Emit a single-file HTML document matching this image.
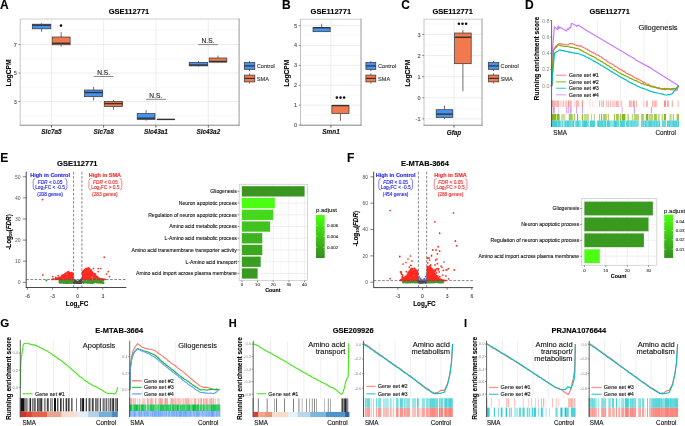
<!DOCTYPE html>
<html><head><meta charset="utf-8"><style>
html,body{margin:0;padding:0;background:#fff;width:685px;height:426px;overflow:hidden}
svg{display:block;will-change:transform}
text{font-family:"Liberation Sans", sans-serif;stroke:currentColor;stroke-width:0.12px;paint-order:stroke}
</style></head><body>
<svg width="685" height="426" viewBox="0 0 685 426">
<rect x="0" y="0" width="685" height="426" fill="#fff"/>
<text x="0" y="8.8" text-anchor="start" fill="#000" color="#000" style="font-size:12px;font-weight:bold;">A</text>
<text x="129" y="14.4" text-anchor="middle" fill="#000" color="#000" style="font-size:7.5px;font-weight:bold;">GSE112771</text>
<rect x="20.2" y="19" width="218.9" height="106.2" fill="#fff"/>
<line x1="20.2" y1="115.75" x2="239.1" y2="115.75" stroke="#f4f4f4" stroke-width="0.6"/>
<line x1="20.2" y1="87.25" x2="239.1" y2="87.25" stroke="#f4f4f4" stroke-width="0.6"/>
<line x1="20.2" y1="58.75" x2="239.1" y2="58.75" stroke="#f4f4f4" stroke-width="0.6"/>
<line x1="20.2" y1="30.25" x2="239.1" y2="30.25" stroke="#f4f4f4" stroke-width="0.6"/>
<line x1="20.2" y1="101.5" x2="239.1" y2="101.5" stroke="#ebebeb" stroke-width="0.9"/>
<line x1="20.2" y1="73" x2="239.1" y2="73" stroke="#ebebeb" stroke-width="0.9"/>
<line x1="20.2" y1="44.5" x2="239.1" y2="44.5" stroke="#ebebeb" stroke-width="0.9"/>
<line x1="51.5" y1="19" x2="51.5" y2="125.2" stroke="#ebebeb" stroke-width="0.9"/>
<line x1="103.6" y1="19" x2="103.6" y2="125.2" stroke="#ebebeb" stroke-width="0.9"/>
<line x1="155.9" y1="19" x2="155.9" y2="125.2" stroke="#ebebeb" stroke-width="0.9"/>
<line x1="208.3" y1="19" x2="208.3" y2="125.2" stroke="#ebebeb" stroke-width="0.9"/>
<line x1="19.7" y1="19" x2="239.6" y2="19" stroke="#d0d0d0" stroke-width="1.1"/>
<line x1="20.2" y1="19" x2="20.2" y2="125.2" stroke="#c4c4c4" stroke-width="1"/>
<line x1="239.1" y1="18.5" x2="239.1" y2="125.7" stroke="#9a9a9a" stroke-width="1"/>
<line x1="19.7" y1="125.2" x2="239.6" y2="125.2" stroke="#8a8a8a" stroke-width="1"/>
<line x1="18.5" y1="101.5" x2="20.2" y2="101.5" stroke="#555555" stroke-width="0.7"/>
<text x="16.7" y="103.5" text-anchor="end" fill="#4d4d4d" color="#4d4d4d" style="font-size:5.5px;">3</text>
<line x1="18.5" y1="73" x2="20.2" y2="73" stroke="#555555" stroke-width="0.7"/>
<text x="16.7" y="75" text-anchor="end" fill="#4d4d4d" color="#4d4d4d" style="font-size:5.5px;">5</text>
<line x1="18.5" y1="44.5" x2="20.2" y2="44.5" stroke="#555555" stroke-width="0.7"/>
<text x="16.7" y="46.5" text-anchor="end" fill="#4d4d4d" color="#4d4d4d" style="font-size:5.5px;">7</text>
<line x1="51.5" y1="125.2" x2="51.5" y2="127.6" stroke="#444" stroke-width="0.8"/>
<text x="51.5" y="134.4" text-anchor="middle" fill="#111" color="#111" style="font-size:6.4px;font-weight:bold;font-style:italic;">Slc7a5</text>
<line x1="103.6" y1="125.2" x2="103.6" y2="127.6" stroke="#444" stroke-width="0.8"/>
<text x="103.6" y="134.4" text-anchor="middle" fill="#111" color="#111" style="font-size:6.4px;font-weight:bold;font-style:italic;">Slc7a8</text>
<line x1="155.9" y1="125.2" x2="155.9" y2="127.6" stroke="#444" stroke-width="0.8"/>
<text x="155.9" y="134.4" text-anchor="middle" fill="#111" color="#111" style="font-size:6.4px;font-weight:bold;font-style:italic;">Slc43a1</text>
<line x1="208.3" y1="125.2" x2="208.3" y2="127.6" stroke="#444" stroke-width="0.8"/>
<text x="208.3" y="134.4" text-anchor="middle" fill="#111" color="#111" style="font-size:6.4px;font-weight:bold;font-style:italic;">Slc43a2</text>
<text x="10.81" y="73" text-anchor="middle" fill="#000" color="#000" style="font-size:6.7px;font-weight:bold;" transform="rotate(-90 10.81 73)">LogCPM</text>
<line x1="41.55" y1="23.2" x2="41.55" y2="24.2" stroke="#333333" stroke-width="0.7"/>
<line x1="41.55" y1="28.8" x2="41.55" y2="31.8" stroke="#333333" stroke-width="0.7"/>
<rect x="32.3" y="24.2" width="18.5" height="4.6" fill="#4592F0" stroke="#333333" stroke-width="0.7"/>
<line x1="32.3" y1="25.2" x2="50.8" y2="25.2" stroke="#333333" stroke-width="1.4"/>
<line x1="61.15" y1="32.1" x2="61.15" y2="37" stroke="#333333" stroke-width="0.7"/>
<line x1="61.15" y1="44.8" x2="61.15" y2="46.6" stroke="#333333" stroke-width="0.7"/>
<rect x="52.2" y="37" width="17.9" height="7.8" fill="#F07A4E" stroke="#333333" stroke-width="0.7"/>
<line x1="52.2" y1="43.3" x2="70.1" y2="43.3" stroke="#333333" stroke-width="1.4"/>
<circle cx="61" cy="25.6" r="1.3" fill="#111"/>
<line x1="93.6" y1="86.9" x2="93.6" y2="90" stroke="#333333" stroke-width="0.7"/>
<line x1="93.6" y1="96.7" x2="93.6" y2="100.4" stroke="#333333" stroke-width="0.7"/>
<rect x="84.6" y="90" width="18" height="6.7" fill="#4592F0" stroke="#333333" stroke-width="0.7"/>
<line x1="84.6" y1="92.5" x2="102.6" y2="92.5" stroke="#333333" stroke-width="1.4"/>
<line x1="113.45" y1="100" x2="113.45" y2="101.4" stroke="#333333" stroke-width="0.7"/>
<line x1="113.45" y1="106.6" x2="113.45" y2="109.8" stroke="#333333" stroke-width="0.7"/>
<rect x="104.3" y="101.4" width="18.3" height="5.2" fill="#F07A4E" stroke="#333333" stroke-width="0.7"/>
<line x1="104.3" y1="103.6" x2="122.6" y2="103.6" stroke="#333333" stroke-width="1.4"/>
<line x1="146.1" y1="110.1" x2="146.1" y2="113.6" stroke="#333333" stroke-width="0.7"/>
<line x1="146.1" y1="119.4" x2="146.1" y2="120.8" stroke="#333333" stroke-width="0.7"/>
<rect x="137.2" y="113.6" width="17.8" height="5.8" fill="#4592F0" stroke="#333333" stroke-width="0.7"/>
<line x1="137.2" y1="118.2" x2="155" y2="118.2" stroke="#333333" stroke-width="1.4"/>
<line x1="165.9" y1="119.3" x2="165.9" y2="119.3" stroke="#333333" stroke-width="0.7"/>
<line x1="165.9" y1="119.4" x2="165.9" y2="119.4" stroke="#333333" stroke-width="0.7"/>
<rect x="157.1" y="119.3" width="17.6" height="0.1" fill="#F07A4E" stroke="#333333" stroke-width="0.7"/>
<line x1="157.1" y1="119.4" x2="174.7" y2="119.4" stroke="#333333" stroke-width="1.4"/>
<line x1="198.45" y1="60.8" x2="198.45" y2="62.4" stroke="#333333" stroke-width="0.7"/>
<line x1="198.45" y1="65.9" x2="198.45" y2="66.7" stroke="#333333" stroke-width="0.7"/>
<rect x="189.2" y="62.4" width="18.5" height="3.5" fill="#4592F0" stroke="#333333" stroke-width="0.7"/>
<line x1="189.2" y1="65" x2="207.7" y2="65" stroke="#333333" stroke-width="1.4"/>
<line x1="218" y1="55.6" x2="218" y2="58" stroke="#333333" stroke-width="0.7"/>
<line x1="218" y1="62.1" x2="218" y2="62.5" stroke="#333333" stroke-width="0.7"/>
<rect x="209.2" y="58" width="17.6" height="4.1" fill="#F07A4E" stroke="#333333" stroke-width="0.7"/>
<line x1="209.2" y1="61.5" x2="226.8" y2="61.5" stroke="#333333" stroke-width="1.4"/>
<line x1="93.7" y1="76.5" x2="113.5" y2="76.5" stroke="#555" stroke-width="0.7"/>
<text x="103.6" y="75.1" text-anchor="middle" fill="#222" color="#222" style="font-size:6.6px;">N.S.</text>
<line x1="146" y1="99.3" x2="166" y2="99.3" stroke="#555" stroke-width="0.7"/>
<text x="155.7" y="97.9" text-anchor="middle" fill="#222" color="#222" style="font-size:6.6px;">N.S.</text>
<line x1="198.2" y1="44.6" x2="217.9" y2="44.6" stroke="#555" stroke-width="0.7"/>
<text x="208" y="43.2" text-anchor="middle" fill="#222" color="#222" style="font-size:6.6px;">N.S.</text>
<line x1="249.55" y1="60.9" x2="249.55" y2="71" stroke="#333333" stroke-width="0.7"/>
<rect x="244.3" y="62.6" width="10.5" height="6.8" fill="#4592F0" stroke="#333333" stroke-width="0.7"/>
<line x1="244.3" y1="65.9" x2="254.8" y2="65.9" stroke="#333333" stroke-width="1.2"/>
<text x="256.8" y="68.22" text-anchor="start" fill="#333" color="#333" style="font-size:5.6px;">Control</text>
<line x1="249.55" y1="73.4" x2="249.55" y2="83.5" stroke="#333333" stroke-width="0.7"/>
<rect x="244.3" y="75.1" width="10.5" height="6.8" fill="#F07A4E" stroke="#333333" stroke-width="0.7"/>
<line x1="244.3" y1="78.4" x2="254.8" y2="78.4" stroke="#333333" stroke-width="1.2"/>
<text x="256.8" y="80.72" text-anchor="start" fill="#333" color="#333" style="font-size:5.6px;">SMA</text>
<text x="282" y="8.9" text-anchor="start" fill="#000" color="#000" style="font-size:12px;font-weight:bold;">B</text>
<text x="330.85" y="14.4" text-anchor="middle" fill="#000" color="#000" style="font-size:7.5px;font-weight:bold;">GSE112771</text>
<rect x="300.5" y="19.2" width="60.5" height="106" fill="#fff"/>
<line x1="300.5" y1="115.06" x2="361" y2="115.06" stroke="#f4f4f4" stroke-width="0.6"/>
<line x1="300.5" y1="95.18" x2="361" y2="95.18" stroke="#f4f4f4" stroke-width="0.6"/>
<line x1="300.5" y1="75.3" x2="361" y2="75.3" stroke="#f4f4f4" stroke-width="0.6"/>
<line x1="300.5" y1="55.42" x2="361" y2="55.42" stroke="#f4f4f4" stroke-width="0.6"/>
<line x1="300.5" y1="35.54" x2="361" y2="35.54" stroke="#f4f4f4" stroke-width="0.6"/>
<line x1="300.5" y1="125" x2="361" y2="125" stroke="#ebebeb" stroke-width="0.9"/>
<line x1="300.5" y1="105.12" x2="361" y2="105.12" stroke="#ebebeb" stroke-width="0.9"/>
<line x1="300.5" y1="85.24" x2="361" y2="85.24" stroke="#ebebeb" stroke-width="0.9"/>
<line x1="300.5" y1="65.36" x2="361" y2="65.36" stroke="#ebebeb" stroke-width="0.9"/>
<line x1="300.5" y1="45.48" x2="361" y2="45.48" stroke="#ebebeb" stroke-width="0.9"/>
<line x1="300.5" y1="25.6" x2="361" y2="25.6" stroke="#ebebeb" stroke-width="0.9"/>
<line x1="330.9" y1="19.2" x2="330.9" y2="125.2" stroke="#ebebeb" stroke-width="0.9"/>
<line x1="300" y1="19.2" x2="361.5" y2="19.2" stroke="#d0d0d0" stroke-width="1.1"/>
<line x1="300.5" y1="19.2" x2="300.5" y2="125.2" stroke="#c4c4c4" stroke-width="1"/>
<line x1="361" y1="18.7" x2="361" y2="125.7" stroke="#9a9a9a" stroke-width="1"/>
<line x1="300" y1="125.2" x2="361.5" y2="125.2" stroke="#8a8a8a" stroke-width="1"/>
<line x1="298.8" y1="125" x2="300.5" y2="125" stroke="#555555" stroke-width="0.7"/>
<text x="297" y="127" text-anchor="end" fill="#4d4d4d" color="#4d4d4d" style="font-size:5.5px;">0</text>
<line x1="298.8" y1="105.12" x2="300.5" y2="105.12" stroke="#555555" stroke-width="0.7"/>
<text x="297" y="107.12" text-anchor="end" fill="#4d4d4d" color="#4d4d4d" style="font-size:5.5px;">1</text>
<line x1="298.8" y1="85.24" x2="300.5" y2="85.24" stroke="#555555" stroke-width="0.7"/>
<text x="297" y="87.24" text-anchor="end" fill="#4d4d4d" color="#4d4d4d" style="font-size:5.5px;">2</text>
<line x1="298.8" y1="65.36" x2="300.5" y2="65.36" stroke="#555555" stroke-width="0.7"/>
<text x="297" y="67.36" text-anchor="end" fill="#4d4d4d" color="#4d4d4d" style="font-size:5.5px;">3</text>
<line x1="298.8" y1="45.48" x2="300.5" y2="45.48" stroke="#555555" stroke-width="0.7"/>
<text x="297" y="47.48" text-anchor="end" fill="#4d4d4d" color="#4d4d4d" style="font-size:5.5px;">4</text>
<line x1="298.8" y1="25.6" x2="300.5" y2="25.6" stroke="#555555" stroke-width="0.7"/>
<text x="297" y="27.6" text-anchor="end" fill="#4d4d4d" color="#4d4d4d" style="font-size:5.5px;">5</text>
<line x1="330.9" y1="125.2" x2="330.9" y2="127.6" stroke="#444" stroke-width="0.8"/>
<text x="331" y="134.4" text-anchor="middle" fill="#111" color="#111" style="font-size:6.4px;font-weight:bold;font-style:italic;">Smn1</text>
<text x="289.21" y="73.2" text-anchor="middle" fill="#000" color="#000" style="font-size:6.7px;font-weight:bold;" transform="rotate(-90 289.21 73.2)">LogCPM</text>
<line x1="321.6" y1="23.7" x2="321.6" y2="27.4" stroke="#333333" stroke-width="0.7"/>
<line x1="321.6" y1="31.7" x2="321.6" y2="31.7" stroke="#333333" stroke-width="0.7"/>
<rect x="313" y="27.4" width="17.2" height="4.3" fill="#4592F0" stroke="#333333" stroke-width="0.7"/>
<line x1="313" y1="27.7" x2="330.2" y2="27.7" stroke="#333333" stroke-width="1.4"/>
<line x1="340.45" y1="105.3" x2="340.45" y2="105.3" stroke="#333333" stroke-width="0.7"/>
<line x1="340.45" y1="113.4" x2="340.45" y2="120.8" stroke="#333333" stroke-width="0.7"/>
<rect x="331.9" y="105.3" width="17.1" height="8.1" fill="#F07A4E" stroke="#333333" stroke-width="0.7"/>
<line x1="331.9" y1="105.6" x2="349" y2="105.6" stroke="#333333" stroke-width="1.4"/>
<circle cx="336.9" cy="97.6" r="1.3" fill="#111"/>
<circle cx="340.5" cy="97.6" r="1.3" fill="#111"/>
<circle cx="344.1" cy="97.6" r="1.3" fill="#111"/>
<line x1="370.85" y1="60.9" x2="370.85" y2="71" stroke="#333333" stroke-width="0.7"/>
<rect x="365.9" y="62.6" width="9.9" height="6.8" fill="#4592F0" stroke="#333333" stroke-width="0.7"/>
<line x1="365.9" y1="65.9" x2="375.8" y2="65.9" stroke="#333333" stroke-width="1.2"/>
<text x="378" y="68.22" text-anchor="start" fill="#333" color="#333" style="font-size:5.6px;">Control</text>
<line x1="370.85" y1="73.4" x2="370.85" y2="83.5" stroke="#333333" stroke-width="0.7"/>
<rect x="365.9" y="75.1" width="9.9" height="6.8" fill="#F07A4E" stroke="#333333" stroke-width="0.7"/>
<line x1="365.9" y1="78.4" x2="375.8" y2="78.4" stroke="#333333" stroke-width="1.2"/>
<text x="378" y="80.72" text-anchor="start" fill="#333" color="#333" style="font-size:5.6px;">SMA</text>
<text x="401.3" y="8.9" text-anchor="start" fill="#000" color="#000" style="font-size:12px;font-weight:bold;">C</text>
<text x="452.7" y="14.4" text-anchor="middle" fill="#000" color="#000" style="font-size:7.5px;font-weight:bold;">GSE112771</text>
<rect x="424" y="19.2" width="58" height="106" fill="#fff"/>
<line x1="424" y1="108.35" x2="482" y2="108.35" stroke="#f4f4f4" stroke-width="0.6"/>
<line x1="424" y1="87.25" x2="482" y2="87.25" stroke="#f4f4f4" stroke-width="0.6"/>
<line x1="424" y1="66.15" x2="482" y2="66.15" stroke="#f4f4f4" stroke-width="0.6"/>
<line x1="424" y1="45.05" x2="482" y2="45.05" stroke="#f4f4f4" stroke-width="0.6"/>
<line x1="424" y1="23.95" x2="482" y2="23.95" stroke="#f4f4f4" stroke-width="0.6"/>
<line x1="424" y1="118.9" x2="482" y2="118.9" stroke="#ebebeb" stroke-width="0.9"/>
<line x1="424" y1="97.8" x2="482" y2="97.8" stroke="#ebebeb" stroke-width="0.9"/>
<line x1="424" y1="76.7" x2="482" y2="76.7" stroke="#ebebeb" stroke-width="0.9"/>
<line x1="424" y1="55.6" x2="482" y2="55.6" stroke="#ebebeb" stroke-width="0.9"/>
<line x1="424" y1="34.5" x2="482" y2="34.5" stroke="#ebebeb" stroke-width="0.9"/>
<line x1="454" y1="19.2" x2="454" y2="125.2" stroke="#ebebeb" stroke-width="0.9"/>
<line x1="423.5" y1="19.2" x2="482.5" y2="19.2" stroke="#d0d0d0" stroke-width="1.1"/>
<line x1="424" y1="19.2" x2="424" y2="125.2" stroke="#c4c4c4" stroke-width="1"/>
<line x1="482" y1="18.7" x2="482" y2="125.7" stroke="#9a9a9a" stroke-width="1"/>
<line x1="423.5" y1="125.2" x2="482.5" y2="125.2" stroke="#8a8a8a" stroke-width="1"/>
<line x1="422.3" y1="118.9" x2="424" y2="118.9" stroke="#555555" stroke-width="0.7"/>
<text x="420.5" y="120.9" text-anchor="end" fill="#4d4d4d" color="#4d4d4d" style="font-size:5.5px;">-1</text>
<line x1="422.3" y1="97.8" x2="424" y2="97.8" stroke="#555555" stroke-width="0.7"/>
<text x="420.5" y="99.8" text-anchor="end" fill="#4d4d4d" color="#4d4d4d" style="font-size:5.5px;">0</text>
<line x1="422.3" y1="76.7" x2="424" y2="76.7" stroke="#555555" stroke-width="0.7"/>
<text x="420.5" y="78.7" text-anchor="end" fill="#4d4d4d" color="#4d4d4d" style="font-size:5.5px;">1</text>
<line x1="422.3" y1="55.6" x2="424" y2="55.6" stroke="#555555" stroke-width="0.7"/>
<text x="420.5" y="57.6" text-anchor="end" fill="#4d4d4d" color="#4d4d4d" style="font-size:5.5px;">2</text>
<line x1="422.3" y1="34.5" x2="424" y2="34.5" stroke="#555555" stroke-width="0.7"/>
<text x="420.5" y="36.5" text-anchor="end" fill="#4d4d4d" color="#4d4d4d" style="font-size:5.5px;">3</text>
<line x1="454" y1="125.2" x2="454" y2="127.6" stroke="#444" stroke-width="0.8"/>
<text x="454" y="134.5" text-anchor="middle" fill="#111" color="#111" style="font-size:6.4px;font-weight:bold;font-style:italic;">Gfap</text>
<text x="410.11" y="73.2" text-anchor="middle" fill="#000" color="#000" style="font-size:6.7px;font-weight:bold;" transform="rotate(-90 410.11 73.2)">LogCPM</text>
<line x1="462.9" y1="30" x2="462.9" y2="33" stroke="#333333" stroke-width="0.7"/>
<line x1="462.9" y1="63.7" x2="462.9" y2="91.3" stroke="#333333" stroke-width="0.7"/>
<rect x="454.6" y="33" width="16.6" height="30.7" fill="#F07A4E" stroke="#333333" stroke-width="0.7"/>
<line x1="454.6" y1="37.3" x2="471.2" y2="37.3" stroke="#333333" stroke-width="1.4"/>
<line x1="444.5" y1="105.6" x2="444.5" y2="109.7" stroke="#333333" stroke-width="0.7"/>
<line x1="444.5" y1="117.5" x2="444.5" y2="119.2" stroke="#333333" stroke-width="0.7"/>
<rect x="436.2" y="109.7" width="16.6" height="7.8" fill="#4592F0" stroke="#333333" stroke-width="0.7"/>
<line x1="436.2" y1="114.1" x2="452.8" y2="114.1" stroke="#333333" stroke-width="1.4"/>
<circle cx="458.9" cy="23.8" r="1.3" fill="#111"/>
<circle cx="462.5" cy="23.8" r="1.3" fill="#111"/>
<circle cx="466.1" cy="23.8" r="1.3" fill="#111"/>
<line x1="493.55" y1="60.9" x2="493.55" y2="71" stroke="#333333" stroke-width="0.7"/>
<rect x="488.3" y="62.6" width="10.5" height="6.8" fill="#4592F0" stroke="#333333" stroke-width="0.7"/>
<line x1="488.3" y1="65.9" x2="498.8" y2="65.9" stroke="#333333" stroke-width="1.2"/>
<text x="500.6" y="68.22" text-anchor="start" fill="#333" color="#333" style="font-size:5.6px;">Control</text>
<line x1="493.55" y1="73.4" x2="493.55" y2="83.5" stroke="#333333" stroke-width="0.7"/>
<rect x="488.3" y="75.1" width="10.5" height="6.8" fill="#F07A4E" stroke="#333333" stroke-width="0.7"/>
<line x1="488.3" y1="78.4" x2="498.8" y2="78.4" stroke="#333333" stroke-width="1.2"/>
<text x="500.6" y="80.72" text-anchor="start" fill="#333" color="#333" style="font-size:5.6px;">SMA</text>
<text x="525" y="8.9" text-anchor="start" fill="#000" color="#000" style="font-size:12px;font-weight:bold;">D</text>
<text x="609.7" y="14.4" text-anchor="middle" fill="#000" color="#000" style="font-size:7.5px;font-weight:bold;">GSE112771</text>
<line x1="574.5" y1="20" x2="574.5" y2="100.2" stroke="#ebebeb" stroke-width="0.8"/>
<line x1="597.6" y1="20" x2="597.6" y2="100.2" stroke="#ebebeb" stroke-width="0.8"/>
<line x1="620.5" y1="20" x2="620.5" y2="100.2" stroke="#ebebeb" stroke-width="0.8"/>
<line x1="643.9" y1="20" x2="643.9" y2="100.2" stroke="#ebebeb" stroke-width="0.8"/>
<line x1="667.3" y1="20" x2="667.3" y2="100.2" stroke="#ebebeb" stroke-width="0.8"/>
<text x="539.08" y="58.6" text-anchor="middle" fill="#000" color="#000" style="font-size:6.6px;font-weight:bold;" transform="rotate(-90 539.08 58.6)">Running enrichment score</text>
<polyline points="551.8,85.8 552.2,53.2 554.4,26.9 557.4,29.5 558.2,25.8 558.8,29 559.5,27 566.4,31 567.5,28.8 568.5,29.5 569.5,27.5 570.5,28 571.5,23.3 576,25.5 577,26.5 578,25 582,27.4 585,29.6 634.8,59 635.3,59.8 651.5,68.4 652,68.9 678.6,85.7" fill="none" stroke="#C77CFF" stroke-width="1.2" stroke-linejoin="round"/>
<polyline points="551.8,85.8 553.6,50 555,47 556.65,45.55 558.3,44.1 560,43.6 561.33,44.05 562.67,44.11 564,44.5 565.33,44.54 566.67,44.99 568,45 570,43.4 572,43.6 573.2,43.85 574.4,44.47 575.6,44.95 576.8,45.42 578,45.8 580,45.6 581.25,46.1 582.5,47.02 583.75,47.63 585,48.3" fill="none" stroke="#F8766D" stroke-width="1.2" stroke-linejoin="round"/>
<polyline points="585,48.3 586,49.16 587,48.97 588,50.35 589,50.19 590,51.32 591,51.59 592,52.43 593,52.39 594,53.06 595,53.4 596,54.56 597,54.89 598,55.14 599,55.68 600,56.5 601,56.76 602,57.51 603,58.47 604,59 605,59.88 606,59.96 607,61.29 608,62.05 609,62.48 610,63.12 611,63.85 612,63.82 613,64.79 614,65.08 615,66.35 616,66.77 617,67.03 618,67.97 619,68.91 620,69.3 621.06,69.93 622.12,70.12 623.18,71.43 624.24,71.22 625.3,72.51 626.36,73.21 627.42,73.59 628.48,74.34 629.54,74.55 630.6,75.1 631.65,75.43 632.7,76.24 633.75,77.05 634.8,77.66 635.85,77.9 636.9,78.98 637.95,78.74 639,79.74 640.05,79.91 641.1,80.9 642.16,81.3 643.22,82.4 644.28,82.15 645.34,83.46 646.4,83.91 647.46,84.25 648.52,84.21 649.58,85.11 650.64,85.84 651.7,86.2 652.76,86.16 653.82,86.66 654.88,86.79 655.94,87.79 657,88.17 658.06,88.5 659.12,88.67 660.18,88.83 661.24,88.69 662.3,89.4 663.4,89.4 664.5,89.66 665.6,89.67 666.7,89.03 667.8,89.03 668.9,89.12 670,89.5 671,90 672,89.38 673,89.74 674,89.94 675,90.42 676,89.86 677,90.3 678.5,85.7" fill="none" stroke="#F8766D" stroke-width="1.2" stroke-linejoin="round"/>
<polyline points="551.8,85.8 553.5,50.5 555.5,48 557,46.4 558.5,44.8 560.25,45.4 562,46 563.33,46.05 564.67,46.47 566,46.5 567.2,46.49 568.4,46.73 569.6,46.86 570.8,47.53 572,47.37 573.2,47.7 574.4,47.84 575.6,48.34 576.8,48.41 578,48.5 579.4,49.35 580.8,50.09 582.2,50.78 583.6,51.87 585,52.5" fill="none" stroke="#7CAE00" stroke-width="1.2" stroke-linejoin="round"/>
<polyline points="585,52.5 586,52.72 587,53.66 588,53.94 589,54.45 590,55.13 591,55.45 592,56.31 593,56.42 594,56.92 595,57.55 596,58.04 597,59.2 598,59.44 599,60.11 600,60.5 601,61.35 602,61.48 603,62.74 604,62.91 605,63.59 606,64.24 607,65.03 608,65.71 609,65.88 610,67.01 611,67.32 612,67.8 613,68.92 614,69.55 615,70.16 616,70.36 617,71.46 618,71.97 619,72.75 620,73 621.06,73.73 622.12,74.46 623.18,74.57 624.24,75.32 625.3,75.87 626.36,76.2 627.42,76.71 628.48,77.16 629.54,78.06 630.6,78.3 631.65,78.7 632.7,79.5 633.75,79.85 634.8,80.47 635.85,80.65 636.9,80.96 637.95,81.94 639,82.02 640.05,82.69 641.1,83.3 642.16,83.87 643.22,83.62 644.28,84.65 645.34,84.73 646.4,85.05 647.46,85.48 648.52,85.33 649.58,85.64 650.64,86.54 651.7,86.7 652.76,86.96 653.82,87.19 654.88,87.53 655.94,87.28 657,87.38 658.06,88.22 659.12,87.68 660.18,88.23 661.24,88.51 662.3,88.6 663.4,89.01 664.5,88.36 665.6,88.89 666.7,88.43 667.8,88.78 668.9,88.95 670,88.9 671,89.11 672,88.4 673,88.9 674,88.35 675,88.49 676,88.5 677.25,87.1 678.5,85.7" fill="none" stroke="#7CAE00" stroke-width="1.2" stroke-linejoin="round"/>
<polyline points="551.8,85.8 553,70 554.5,53.5 555.75,52.5 557,51.5 558.5,50.65 560,49.8 561.2,50.38 562.4,50.66 563.6,50.61 564.8,50.91 566,51.5 567.2,51.47 568.4,52.04 569.6,51.87 570.8,52.44 572,52.65 573.2,52.86 574.4,53.12 575.6,53.17 576.8,53.46 578,53.5 579.4,54.04 580.8,54.62 582.2,54.84 583.6,55.61 585,56.1 586.25,57.05 587.5,57.44 588.75,58.31 590,58.74 591.25,59.59 592.5,60.32 593.75,61.13 595,61.61 596.25,62.38 597.5,62.94 598.75,63.84 600,64.5 601.25,65.48 602.5,65.97 603.75,66.87 605,67.58 606.25,68.16 607.5,69.17 608.75,69.69 610,70.66 611.25,71.61 612.5,72.03 613.75,72.97 615,73.57 616.25,74.48 617.5,75.02 618.75,75.94 620,76.7 621.33,77.59 622.65,78.06 623.98,78.88 625.3,79.56 626.62,80.28 627.95,81.29 629.27,82.12 630.6,82.7 631.91,83.35 633.23,83.95 634.54,84.51 635.85,85.12 637.16,86.11 638.48,86.51 639.79,87.25 641.1,87.8 642.43,88.15 643.75,88.56 645.08,88.94 646.4,89.55 647.73,90.07 649.05,90.59 650.38,91.1 651.7,91.5 653.03,91.92 654.35,92.34 655.67,92.63 657,92.89 658.33,93.28 659.65,93.47 660.97,93.76 662.3,94.1 663.87,94.61 665.43,94.9 667,95 668.25,94.64 669.5,94.58 670.75,94.06 672,93.8 673.33,92.33 674.67,90.36 676,89 677.25,87.35 678.5,85.7" fill="none" stroke="#00BFC4" stroke-width="1.2" stroke-linejoin="round"/>
<line x1="551.6" y1="20.1" x2="551.6" y2="127" stroke="#555555" stroke-width="0.9"/>
<line x1="550.1" y1="85.8" x2="551.6" y2="85.8" stroke="#555555" stroke-width="0.6"/>
<text x="549.4" y="87.71" text-anchor="end" fill="#8a8a8a" color="#8a8a8a" style="font-size:5.3px;stroke:none;">0.0</text>
<line x1="550.1" y1="69.5" x2="551.6" y2="69.5" stroke="#555555" stroke-width="0.6"/>
<text x="549.4" y="71.41" text-anchor="end" fill="#8a8a8a" color="#8a8a8a" style="font-size:5.3px;stroke:none;">0.2</text>
<line x1="550.1" y1="53.2" x2="551.6" y2="53.2" stroke="#555555" stroke-width="0.6"/>
<text x="549.4" y="55.11" text-anchor="end" fill="#8a8a8a" color="#8a8a8a" style="font-size:5.3px;stroke:none;">0.4</text>
<line x1="550.1" y1="36.9" x2="551.6" y2="36.9" stroke="#555555" stroke-width="0.6"/>
<text x="549.4" y="38.81" text-anchor="end" fill="#8a8a8a" color="#8a8a8a" style="font-size:5.3px;stroke:none;">0.6</text>
<line x1="550.1" y1="20.6" x2="551.6" y2="20.6" stroke="#555555" stroke-width="0.6"/>
<text x="549.4" y="22.51" text-anchor="end" fill="#8a8a8a" color="#8a8a8a" style="font-size:5.3px;stroke:none;">0.8</text>
<line x1="556" y1="75.3" x2="566.2" y2="75.3" stroke="#F8A09A" stroke-width="1.3"/>
<text x="568.8" y="77.28" text-anchor="start" fill="#222" color="#222" style="font-size:5.5px;">Gene set #1</text>
<line x1="556" y1="81.8" x2="566.2" y2="81.8" stroke="#8FD14F" stroke-width="1.3"/>
<text x="568.8" y="83.78" text-anchor="start" fill="#222" color="#222" style="font-size:5.5px;">Gene set #2</text>
<line x1="556" y1="88.3" x2="566.2" y2="88.3" stroke="#5FD6D6" stroke-width="1.3"/>
<text x="568.8" y="90.28" text-anchor="start" fill="#222" color="#222" style="font-size:5.5px;">Gene set #3</text>
<line x1="556" y1="94.8" x2="566.2" y2="94.8" stroke="#DDB0FF" stroke-width="1.3"/>
<text x="568.8" y="96.78" text-anchor="start" fill="#222" color="#222" style="font-size:5.5px;">Gene set #4</text>
<text x="658" y="30" text-anchor="middle" fill="#111" color="#111" style="font-size:7.5px;">Gliogenesis</text>
<path d="M551.9 100.5H555.8V107.0H551.9zM556.3 100.5H559.2V107.0H556.3zM569.7 100.5H571.7V107.0H569.7zM599.1 100.5H600.1V107.0H599.1zM602.5 100.5H604.0V107.0H602.5zM605.9 100.5H606.8V107.0H605.9zM607.8 100.5H608.8V107.0H607.8zM610.2 100.5H611.2V107.0H610.2zM636.0 100.5H636.9V107.0H636.0zM652.1 100.5H653.0V107.0H652.1zM667.0 100.5H668.9V107.0H667.0z" fill="#F8766D" fill-opacity="0.6"/>
<path d="M560.1 100.5H561.6V107.0H560.1zM612.1 100.5H615.5V107.0H612.1zM677.6 100.5H679.0V107.0H677.6z" fill="#F8766D" fill-opacity="0.35"/>
<path d="M562.5 100.5H564.3V107.0H562.5z" fill="#F8766D" fill-opacity="0.45"/>
<path d="M565.4 100.5H566.9V107.0H565.4zM600.9 100.5H601.8V107.0H600.9zM653.5 100.5H656.9V107.0H653.5z" fill="#F8766D" fill-opacity="0.5"/>
<path d="M567.8 100.5H569.3V107.0H567.8zM581.8 100.5H583.0V107.0H581.8zM632.8 100.5H634.7V107.0H632.8zM663.9 100.5H666.0V107.0H663.9z" fill="#F8766D" fill-opacity="0.8"/>
<path d="M574.1 100.5H575.2V107.0H574.1zM589.5 100.5H590.5V107.0H589.5zM592.4 100.5H593.4V107.0H592.4zM642.9 100.5H644.6V107.0H642.9z" fill="#F8766D" fill-opacity="0.3"/>
<path d="M575.8 100.5H578.9V107.0H575.8zM615.9 100.5H618.8V107.0H615.9zM628.9 100.5H631.8V107.0H628.9zM646.0 100.5H647.9V107.0H646.0z" fill="#F8766D" fill-opacity="0.55"/>
<path d="M620.3 100.5H622.2V107.0H620.3z" fill="#F8766D" fill-opacity="0.4"/>
<path d="M671.8 100.5H672.8V107.0H671.8z" fill="#F8766D" fill-opacity="0.7"/>
<path d="M552.9 107.0H554.8V113.5H552.9z" fill="#C77CFF" fill-opacity="0.8"/>
<path d="M558.2 107.0H559.2V113.5H558.2z" fill="#C77CFF" fill-opacity="0.4"/>
<path d="M565.9 107.0H567.3V113.5H565.9z" fill="#C77CFF" fill-opacity="0.6"/>
<path d="M567.8 107.0H568.8V113.5H567.8zM569.7 107.0H571.7V113.5H569.7zM576.0 107.0H577.0V113.5H576.0zM581.8 107.0H583.0V113.5H581.8zM633.7 107.0H635.0V113.5H633.7zM650.8 107.0H652.1V113.5H650.8z" fill="#C77CFF" fill-opacity="0.7"/>
<path d="M621.7 107.0H622.9V113.5H621.7z" fill="#C77CFF" fill-opacity="0.5"/>
<path d="M551.9 114.0H556.3V120.4H551.9zM556.9 114.0H559.6V120.4H556.9zM577.0 114.0H578.1V120.4H577.0zM621.7 114.0H625.4V120.4H621.7zM645.8 114.0H648.2V120.4H645.8zM663.9 114.0H666.0V120.4H663.9z" fill="#7CAE00" fill-opacity="0.9"/>
<path d="M561.1 114.0H565.4V120.4H561.1z" fill="#7CAE00" fill-opacity="0.4"/>
<path d="M568.8 114.0H572.6V120.4H568.8zM599.1 114.0H600.1V120.4H599.1zM607.8 114.0H608.8V120.4H607.8zM616.1 114.0H618.8V120.4H616.1zM654.0 114.0H656.9V120.4H654.0zM661.7 114.0H662.7V120.4H661.7zM676.6 114.0H679.0V120.4H676.6z" fill="#7CAE00" fill-opacity="0.7"/>
<path d="M573.6 114.0H575.2V120.4H573.6zM593.8 114.0H594.8V120.4H593.8zM602.8 114.0H606.8V120.4H602.8zM627.5 114.0H628.9V120.4H627.5zM631.8 114.0H632.8V120.4H631.8zM641.0 114.0H643.9V120.4H641.0z" fill="#7CAE00" fill-opacity="0.6"/>
<path d="M581.8 114.0H583.0V120.4H581.8zM601.0 114.0H602.0V120.4H601.0zM614.1 114.0H615.0V120.4H614.1zM619.8 114.0H620.9V120.4H619.8zM672.8 114.0H673.7V120.4H672.8z" fill="#7CAE00" fill-opacity="0.8"/>
<path d="M583.7 114.0H589.0V120.4H583.7zM657.8 114.0H659.8V120.4H657.8zM669.4 114.0H671.8V120.4H669.4z" fill="#7CAE00" fill-opacity="0.45"/>
<path d="M591.0 114.0H591.9V120.4H591.0zM648.7 114.0H653.0V120.4H648.7z" fill="#7CAE00" fill-opacity="0.5"/>
<path d="M633.7 114.0H639.0V120.4H633.7z" fill="#7CAE00" fill-opacity="0.55"/>
<path d="M551.9 120.4H560.6V126.9H551.9zM581.8 120.4H589.0V126.9H581.8zM613.5 120.4H618.8V126.9H613.5z" fill="#00BFC4" fill-opacity="0.75"/>
<path d="M560.6 120.4H562.0V126.9H560.6zM574.0 120.4H575.5V126.9H574.0z" fill="#00BFC4" fill-opacity="0.4"/>
<path d="M562.0 120.4H563.5V126.9H562.0zM564.3 120.4H574.0V126.9H564.3zM575.5 120.4H580.8V126.9H575.5zM590.0 120.4H595.3V126.9H590.0zM597.2 120.4H610.0V126.9H597.2zM619.8 120.4H625.0V126.9H619.8zM641.0 120.4H660.2V126.9H641.0zM661.7 120.4H666.0V126.9H661.7zM667.0 120.4H679.0V126.9H667.0z" fill="#00BFC4" fill-opacity="0.7"/>
<path d="M610.0 120.4H613.5V126.9H610.0z" fill="#00BFC4" fill-opacity="0.45"/>
<path d="M625.6 120.4H638.6V126.9H625.6z" fill="#00BFC4" fill-opacity="0.65"/>
<path d="M552.40 120.4h0.37v6.5h-0.37zM558.65 120.4h0.55v6.5h-0.55zM562.54 120.4h0.60v6.5h-0.60zM569.99 120.4h0.33v6.5h-0.33zM570.90 120.4h0.46v6.5h-0.46zM571.90 120.4h0.42v6.5h-0.42zM579.68 120.4h0.48v6.5h-0.48zM580.20 120.4h0.42v6.5h-0.42zM587.95 120.4h0.53v6.5h-0.53zM588.41 120.4h0.59v6.5h-0.59zM600.73 120.4h0.35v6.5h-0.35zM604.17 120.4h0.30v6.5h-0.30zM616.84 120.4h0.34v6.5h-0.34zM617.22 120.4h0.56v6.5h-0.56zM619.26 120.4h0.38v6.5h-0.38zM625.08 120.4h0.45v6.5h-0.45zM629.05 120.4h0.31v6.5h-0.31zM629.51 120.4h0.37v6.5h-0.37zM630.42 120.4h0.51v6.5h-0.51zM631.95 120.4h0.38v6.5h-0.38zM633.35 120.4h0.51v6.5h-0.51zM634.81 120.4h0.52v6.5h-0.52zM639.21 120.4h0.49v6.5h-0.49zM639.78 120.4h0.33v6.5h-0.33zM641.65 120.4h0.50v6.5h-0.50zM646.58 120.4h0.39v6.5h-0.39zM648.57 120.4h0.32v6.5h-0.32zM655.26 120.4h0.60v6.5h-0.60zM655.88 120.4h0.35v6.5h-0.35zM657.72 120.4h0.57v6.5h-0.57zM658.19 120.4h0.60v6.5h-0.60zM660.22 120.4h0.45v6.5h-0.45zM661.71 120.4h0.40v6.5h-0.40zM663.19 120.4h0.36v6.5h-0.36zM668.49 120.4h0.51v6.5h-0.51zM669.94 120.4h0.53v6.5h-0.53zM671.97 120.4h0.38v6.5h-0.38zM674.91 120.4h0.34v6.5h-0.34zM677.28 120.4h0.48v6.5h-0.48z" fill="#ffffff" fill-opacity="0.33"/>
<path d="M557.26 120.4h0.41v6.5h-0.41zM566.08 120.4h0.35v6.5h-0.35zM571.46 120.4h0.32v6.5h-0.32zM574.31 120.4h0.48v6.5h-0.48zM579.25 120.4h0.36v6.5h-0.36zM582.56 120.4h0.58v6.5h-0.58zM587.48 120.4h0.50v6.5h-0.50zM603.14 120.4h0.40v6.5h-0.40zM606.05 120.4h0.43v6.5h-0.43zM606.50 120.4h0.52v6.5h-0.52zM636.76 120.4h0.52v6.5h-0.52zM642.20 120.4h0.37v6.5h-0.37zM644.06 120.4h0.56v6.5h-0.56zM646.98 120.4h0.56v6.5h-0.56zM651.90 120.4h0.48v6.5h-0.48zM653.42 120.4h0.39v6.5h-0.39zM662.23 120.4h0.33v6.5h-0.33zM664.66 120.4h0.34v6.5h-0.34zM665.62 120.4h0.38v6.5h-0.38zM671.03 120.4h0.31v6.5h-0.31z" fill="#ffffff" fill-opacity="0.50"/>
<path d="M568.96 120.4h0.44v6.5h-0.44zM576.33 120.4h0.35v6.5h-0.35zM576.81 120.4h0.36v6.5h-0.36zM610.01 120.4h0.33v6.5h-0.33zM624.14 120.4h0.37v6.5h-0.37zM635.78 120.4h0.53v6.5h-0.53zM671.49 120.4h0.36v6.5h-0.36z" fill="#ffffff" fill-opacity="0.17"/>
<line x1="551.6" y1="100" x2="551.6" y2="127" stroke="#555555" stroke-width="0.9"/>
<text x="553.2" y="135.17" text-anchor="start" fill="#111" color="#111" style="font-size:6.3px;">SMA</text>
<text x="675.8" y="135.17" text-anchor="end" fill="#111" color="#111" style="font-size:6.3px;">Control</text>
<text x="0.3" y="161.8" text-anchor="start" fill="#000" color="#000" style="font-size:12px;font-weight:bold;">E</text>
<text x="77.3" y="166.3" text-anchor="middle" fill="#000" color="#000" style="font-size:7.5px;font-weight:bold;">GSE112771</text>
<path d="M100.8 279.9h0M91.9 279.9h0M61.8 281.2h0M60.6 282.0h0M66.7 279.8h0M67.5 281.6h0M96.3 280.8h0M67.9 280.0h0M60.1 282.4h0M67.6 280.2h0M91.7 279.9h0M68.1 281.2h0M65.6 282.1h0M69.1 281.9h0M66.4 283.0h0M64.8 279.9h0M83.7 283.1h0M62.2 279.6h0M65.8 279.4h0M91.3 281.0h0M70.0 282.1h0M63.6 283.1h0M98.5 282.7h0M69.1 283.1h0M99.3 282.5h0M65.5 282.4h0M65.1 281.7h0M91.3 282.3h0M100.8 279.4h0M103.6 283.1h0M64.7 279.9h0M59.9 282.6h0M87.8 280.2h0M100.0 281.7h0M60.5 280.9h0M59.5 281.7h0M85.0 280.9h0M71.3 282.4h0M63.6 282.3h0M69.3 282.5h0M68.8 281.7h0M95.2 281.5h0M60.8 281.2h0M87.4 280.5h0M91.3 279.7h0M88.6 282.5h0M61.0 281.3h0M63.2 279.7h0M69.6 282.9h0M91.8 282.9h0M63.2 281.1h0M60.6 282.6h0M103.2 280.6h0M67.4 279.6h0M101.7 280.5h0M59.6 280.7h0M83.7 282.0h0M73.1 282.9h0M98.0 279.7h0M70.2 279.7h0M84.1 281.3h0M71.3 281.6h0M71.2 281.0h0M90.4 283.1h0M60.4 280.7h0M101.1 280.4h0M102.2 280.5h0M91.7 280.0h0M66.4 281.2h0M95.1 281.3h0M72.5 282.7h0M87.8 283.1h0M85.4 280.8h0M69.7 281.8h0M92.9 282.2h0M96.5 282.4h0M99.5 280.3h0M71.4 281.7h0M86.8 282.6h0M100.2 279.9h0M72.4 282.1h0M60.8 281.4h0M70.8 281.7h0M96.6 280.4h0M89.1 280.0h0M100.9 283.0h0M94.5 282.0h0M68.1 281.6h0M59.6 280.0h0M70.0 280.1h0M65.5 280.8h0M102.8 280.5h0M70.7 282.2h0M69.7 281.1h0M61.8 282.1h0M93.8 279.5h0M64.7 280.1h0M60.5 279.6h0M85.1 281.4h0M64.5 281.0h0M92.2 280.7h0M60.7 279.9h0M62.2 279.7h0M72.8 281.1h0M87.9 280.4h0M64.1 282.8h0M89.6 281.5h0M92.7 283.0h0M65.2 283.0h0M97.0 279.7h0M85.5 281.2h0M102.5 281.3h0M69.8 281.5h0M100.0 281.0h0M66.5 279.9h0M89.0 281.7h0M63.5 282.6h0M94.5 282.4h0M66.2 280.8h0M66.7 283.0h0M93.9 279.4h0M66.1 280.5h0M72.1 281.4h0M88.0 281.3h0M64.0 279.7h0M93.5 282.7h0M95.5 279.6h0M69.0 279.4h0M62.0 282.3h0M89.2 281.8h0M84.5 280.4h0M71.1 280.8h0M69.0 279.8h0M64.5 281.6h0M66.7 279.9h0M66.6 279.9h0M62.5 280.3h0M101.6 281.9h0M101.3 282.4h0M71.5 282.6h0M61.1 282.8h0M84.4 280.0h0M93.9 280.5h0M64.8 280.5h0M60.6 281.0h0M101.8 279.5h0M69.0 280.7h0M93.0 280.5h0M70.4 281.3h0M59.8 281.0h0M85.4 282.4h0M61.7 282.5h0M102.1 282.8h0M61.1 280.6h0M69.8 281.9h0M91.4 281.8h0M67.6 283.1h0M70.9 282.5h0M90.0 281.7h0M67.6 282.8h0M63.8 282.8h0M94.5 282.4h0M99.5 282.2h0M69.6 280.2h0M85.1 281.9h0M98.7 280.2h0M86.7 282.4h0M88.7 282.8h0M103.4 279.7h0M62.5 279.6h0M89.5 280.6h0M66.6 281.7h0M96.0 280.5h0M103.2 283.1h0M69.5 282.2h0M93.1 280.3h0M82.5 282.2h0M101.6 281.1h0M102.9 281.0h0M68.1 280.1h0M66.9 280.6h0M64.6 279.6h0M92.4 282.5h0M93.9 280.9h0M102.5 281.5h0M95.1 281.8h0M92.6 282.1h0M96.5 280.3h0M59.5 282.2h0M68.0 281.6h0M83.4 281.9h0M83.4 279.4h0M83.9 279.7h0M97.7 282.2h0M59.9 282.8h0M85.4 279.5h0M67.6 282.7h0M92.0 282.4h0M64.2 282.6h0M91.8 280.6h0M95.1 280.7h0M90.1 280.3h0M72.4 280.4h0M65.9 281.2h0M99.0 280.8h0M88.2 280.8h0M68.0 280.3h0M72.4 281.2h0M71.4 283.0h0M59.4 282.2h0M67.9 282.8h0M83.9 282.8h0M66.9 280.7h0M92.6 281.8h0M89.6 280.3h0M70.4 281.4h0M65.4 280.3h0M99.6 281.7h0M88.5 280.3h0M65.2 281.7h0M65.7 281.9h0M65.3 281.0h0M88.7 280.2h0M63.6 279.7h0M68.9 281.3h0M88.3 282.6h0M96.3 281.9h0M63.7 281.5h0M91.7 280.1h0M92.1 282.3h0M60.5 280.0h0M64.3 281.6h0M99.3 280.3h0M99.3 281.1h0M61.7 280.3h0M99.6 282.3h0M66.8 281.0h0M68.3 280.1h0M67.3 282.0h0M63.9 282.1h0M71.7 282.8h0M60.6 280.0h0M87.5 282.3h0M98.6 281.6h0M99.5 281.9h0M66.1 281.1h0M69.1 279.7h0M98.5 279.4h0M100.5 280.1h0M71.6 279.5h0M66.5 280.4h0M65.1 281.5h0M62.7 282.5h0M96.9 281.9h0M91.4 282.0h0M65.8 280.4h0M96.1 280.2h0M71.9 280.3h0M67.4 279.7h0M63.6 282.4h0M46.4 280.6h0" stroke="#3C9A2C" stroke-width="2" stroke-linecap="round" fill="none"/>
<path d="M76.5 281.9h0M78.5 282.3h0M77.8 282.6h0M81.0 281.7h0M81.1 279.7h0M78.8 281.2h0M78.1 281.8h0M77.6 282.6h0M81.5 280.5h0M80.0 282.9h0M80.7 281.8h0M75.3 282.7h0M80.2 280.2h0M80.2 280.8h0M80.1 283.0h0M81.3 279.8h0M80.8 280.0h0M77.3 282.8h0M77.0 281.6h0M77.0 281.8h0M74.7 280.1h0M80.3 282.7h0M79.7 281.5h0M77.8 283.1h0M78.3 282.8h0M75.2 280.4h0M74.8 282.7h0M76.5 281.8h0M77.9 281.9h0M79.3 282.9h0M79.8 281.7h0M77.7 283.1h0M75.1 282.5h0M79.2 281.3h0M77.2 283.1h0M77.0 282.3h0M81.4 279.4h0M76.2 282.2h0M78.2 281.5h0M79.1 283.0h0M74.1 282.6h0M79.1 281.6h0M79.8 281.0h0M74.5 281.6h0M80.7 280.7h0M77.5 282.7h0M74.5 280.4h0M80.7 280.3h0M79.5 280.8h0M74.8 281.1h0M81.4 280.3h0M81.5 280.2h0M78.2 283.0h0M75.1 282.0h0M74.4 282.0h0M75.8 281.9h0M78.9 282.2h0M76.7 282.9h0M78.7 282.9h0M78.8 282.8h0M75.1 283.0h0M77.4 282.1h0M74.4 283.0h0M81.8 281.3h0M80.0 282.2h0M80.4 280.2h0M74.7 282.4h0M74.8 280.8h0M77.6 281.9h0M78.7 281.7h0M78.6 282.5h0M80.1 282.4h0M81.8 281.0h0M75.7 282.6h0M76.1 282.1h0M78.2 282.8h0M76.3 282.5h0M74.4 280.6h0M75.6 281.7h0M76.0 282.6h0M78.6 282.2h0M78.3 282.8h0M81.3 279.3h0M79.4 280.8h0M78.3 283.1h0M79.0 281.4h0M74.7 281.5h0M77.0 282.6h0M74.3 279.9h0M75.7 280.8h0M77.3 282.0h0M75.5 281.5h0M78.1 283.0h0M81.2 282.5h0M79.8 280.7h0M76.3 282.8h0M81.3 283.1h0M79.2 282.3h0M79.9 282.1h0M74.9 281.2h0M80.3 281.7h0M76.9 281.7h0M81.3 279.3h0M74.7 280.6h0M80.6 280.1h0M78.7 281.9h0M79.9 282.7h0M77.0 283.1h0M77.9 283.0h0M76.9 282.5h0M74.6 282.3h0M81.3 282.9h0M80.1 281.0h0M80.1 281.9h0M77.7 283.0h0M76.4 281.2h0M81.2 281.1h0M76.9 282.6h0M81.0 281.5h0M81.1 280.6h0" stroke="#4a4a4a" stroke-width="2" stroke-linecap="round" fill="none"/>
<path d="M61.4 279.1h0M72.3 273.1h0M70.4 275.7h0M69.4 279.4h0M57.2 279.2h0M66.7 276.5h0M69.9 277.1h0M62.7 275.6h0M59.1 279.0h0M60.6 278.8h0M59.3 277.3h0M68.8 278.8h0M57.0 278.9h0M65.9 273.3h0M58.9 277.5h0M64.3 274.7h0M70.0 275.4h0M67.5 278.4h0M66.1 276.7h0M72.2 279.1h0M68.2 278.6h0M58.8 278.4h0M69.1 277.3h0M64.4 279.4h0M71.8 276.4h0M69.1 275.5h0M72.1 274.7h0M71.3 277.3h0M69.0 277.2h0M70.5 278.5h0M63.1 275.9h0M59.0 279.1h0M60.0 277.7h0M72.7 277.5h0M60.0 277.1h0M73.0 275.4h0M65.1 276.1h0M68.0 277.8h0M53.1 279.2h0M66.1 277.5h0M61.7 275.9h0M71.0 276.5h0M59.0 278.8h0M52.0 279.4h0M69.5 278.3h0M59.9 279.2h0M65.2 277.9h0M64.6 276.6h0M70.8 277.5h0M62.2 277.4h0M72.3 276.0h0M58.0 279.3h0M71.4 278.6h0M65.7 276.5h0M72.6 273.4h0M72.6 273.5h0M73.0 275.8h0M67.9 276.4h0M67.5 278.4h0M71.7 278.3h0M64.2 279.4h0M62.6 278.9h0M57.8 278.6h0M56.5 278.9h0M73.1 273.8h0M72.7 279.1h0M63.1 275.2h0M70.5 275.9h0M72.9 277.7h0M61.3 277.3h0M64.0 276.7h0M67.1 274.0h0M72.3 276.6h0M65.7 276.0h0M71.1 274.3h0M64.5 278.1h0M67.8 273.3h0M66.9 277.7h0M71.6 272.6h0M72.7 276.6h0M58.9 278.9h0M66.8 275.3h0M62.1 277.5h0M64.5 274.6h0M72.9 278.8h0M71.8 275.0h0M67.3 274.3h0M66.6 279.2h0M69.4 274.3h0M61.6 276.8h0M62.9 276.0h0M68.5 274.7h0M68.3 276.7h0M71.2 275.9h0M65.9 275.6h0M69.0 277.2h0M68.9 274.3h0M65.0 273.8h0M72.2 274.3h0M66.9 278.6h0M64.0 276.7h0M73.1 276.9h0M68.1 278.9h0M67.7 276.1h0M54.7 279.0h0M65.5 275.0h0M66.7 277.5h0M72.2 273.7h0M69.5 278.9h0M71.4 277.3h0M53.5 279.2h0M71.4 278.4h0M67.2 272.4h0M64.1 276.4h0M56.8 278.5h0M55.8 279.4h0M59.9 277.1h0M71.5 276.8h0M72.8 276.8h0M71.2 273.8h0M62.2 277.6h0M69.7 275.1h0M63.6 277.1h0M68.6 274.8h0M71.8 276.1h0M67.9 276.5h0M72.8 277.7h0M53.2 279.3h0M68.2 274.0h0M68.3 275.3h0M66.1 278.1h0M72.4 279.2h0M64.4 275.1h0M72.1 277.9h0M60.9 279.2h0M60.9 278.1h0M60.2 278.5h0M71.1 273.1h0M65.7 277.6h0M66.8 276.1h0M71.7 275.9h0M72.2 278.1h0M69.6 275.9h0M65.2 276.4h0M67.8 277.2h0M69.1 276.7h0M58.9 277.8h0M68.0 276.2h0M72.1 276.0h0M70.2 278.8h0M70.0 274.9h0M72.1 273.7h0M63.9 277.0h0M73.0 274.6h0M64.0 276.0h0M72.6 273.9h0M67.6 277.0h0M72.2 274.2h0M70.0 273.6h0M71.1 273.7h0M72.2 276.2h0M68.6 272.5h0M70.9 274.4h0M71.4 272.9h0M71.6 274.1h0M70.2 274.2h0M68.2 274.0h0M57.2 278.5h0M68.7 277.6h0M60.3 278.7h0M56.6 278.6h0M72.2 273.3h0M56.8 279.2h0M69.9 273.2h0M70.7 274.2h0M58.6 279.4h0M72.9 277.4h0M70.0 277.3h0M61.8 276.1h0M66.2 277.0h0M70.3 272.8h0M72.9 274.9h0M71.5 279.0h0M72.8 276.0h0M66.7 279.1h0M72.6 276.5h0M69.1 272.2h0M69.8 273.5h0M65.4 277.8h0M68.5 276.0h0M73.0 275.6h0M71.0 277.7h0M71.4 275.8h0M55.6 278.8h0M73.1 276.0h0M60.4 277.3h0M72.5 274.0h0M58.7 278.2h0M62.4 278.4h0M72.4 279.4h0M62.1 278.7h0M69.7 278.4h0M71.7 278.4h0M70.4 274.4h0M62.2 278.3h0M69.5 276.8h0M65.7 276.3h0M66.1 277.1h0M64.9 274.0h0M64.1 274.7h0M61.7 276.2h0M70.6 273.2h0M68.3 274.5h0M72.8 275.5h0M69.5 275.9h0M70.3 276.6h0M64.1 275.8h0M71.1 274.9h0M70.0 274.4h0M71.7 273.5h0M71.6 275.5h0M72.2 272.8h0M66.2 278.7h0M64.1 278.1h0M71.9 278.1h0M66.6 277.5h0M66.0 273.1h0M68.8 274.3h0M62.6 275.4h0M71.0 277.6h0M71.2 274.7h0M69.8 274.4h0M72.1 278.5h0M59.4 279.1h0M70.1 275.5h0M62.3 277.9h0M57.4 278.4h0M60.1 279.1h0M72.6 276.6h0M59.4 278.0h0M71.4 274.3h0M69.6 278.5h0M67.3 274.7h0M71.5 277.5h0M59.6 278.5h0M61.1 277.7h0M57.9 278.1h0M69.3 278.4h0M58.6 279.0h0M67.5 277.6h0M69.7 277.1h0M72.5 278.2h0M88.3 273.0h0M83.5 279.5h0M93.1 274.5h0M82.3 277.1h0M83.4 272.6h0M86.3 279.2h0M85.6 273.4h0M88.4 277.0h0M89.5 270.3h0M84.5 277.7h0M84.9 277.0h0M94.6 276.4h0M103.6 279.5h0M97.0 276.7h0M88.1 271.6h0M84.7 279.3h0M88.4 278.8h0M87.0 269.2h0M82.8 276.6h0M93.3 277.6h0M84.4 270.4h0M87.4 275.9h0M88.0 271.7h0M94.5 275.2h0M103.0 279.4h0M96.1 278.0h0M99.6 278.8h0M82.4 278.5h0M85.2 271.8h0M87.6 276.3h0M89.7 274.6h0M85.1 278.9h0M90.3 273.2h0M84.6 277.4h0M83.8 279.1h0M83.4 276.9h0M84.0 276.3h0M83.6 276.2h0M83.8 279.4h0M86.1 279.0h0M83.1 271.6h0M96.1 276.6h0M82.5 278.2h0M82.8 274.8h0M88.8 275.8h0M87.1 268.5h0M87.5 270.3h0M98.8 278.2h0M82.8 276.4h0M101.4 279.0h0M93.6 276.0h0M82.4 274.1h0M90.5 270.0h0M82.7 274.7h0M85.5 274.8h0M91.7 275.7h0M101.8 279.5h0M92.4 273.3h0M86.6 274.1h0M96.0 277.5h0M85.8 273.5h0M82.6 272.4h0M88.0 274.2h0M84.8 279.1h0M82.7 277.0h0M88.1 275.7h0M84.5 273.3h0M83.9 275.2h0M88.3 278.9h0M92.8 272.5h0M83.2 278.0h0M101.7 279.1h0M83.5 278.5h0M83.1 277.4h0M84.6 277.7h0M82.6 276.9h0M87.8 275.4h0M84.1 279.4h0M86.5 273.9h0M84.4 278.5h0M86.7 270.8h0M98.1 279.4h0M87.5 278.9h0M97.7 277.1h0M82.8 272.0h0M94.9 278.6h0M85.4 269.5h0M84.2 276.8h0M86.4 272.5h0M82.5 274.3h0M87.0 273.8h0M83.0 274.2h0M88.0 275.8h0M88.5 267.9h0M85.9 270.4h0M91.4 271.5h0M104.3 279.5h0M84.1 277.6h0M93.3 278.3h0M88.8 279.1h0M84.8 276.9h0M85.5 272.8h0M85.1 279.5h0M82.8 277.9h0M91.8 271.7h0M93.4 278.1h0M82.9 277.4h0M85.8 272.7h0M84.8 278.2h0M83.3 278.7h0M87.7 274.6h0M87.4 278.2h0M83.3 272.0h0M105.2 279.5h0M90.2 277.1h0M87.2 277.2h0M86.3 277.0h0M90.0 275.6h0M85.4 273.2h0M90.4 276.7h0M90.5 279.4h0M89.4 279.4h0M85.8 272.9h0M97.5 278.5h0M84.8 278.5h0M98.3 278.0h0M83.1 274.0h0M86.8 277.1h0M94.1 279.5h0M82.5 275.0h0M91.3 270.0h0M95.0 275.1h0M90.6 277.9h0M82.9 278.2h0M87.6 273.9h0M90.3 278.9h0M84.2 279.4h0M94.1 276.8h0M84.3 274.3h0M83.2 279.1h0M90.3 271.2h0M102.6 279.4h0M88.9 273.8h0M95.7 277.3h0M83.1 272.9h0M82.3 272.4h0M91.3 271.9h0M100.1 278.9h0M87.1 269.2h0M86.6 277.8h0M85.8 275.5h0M95.8 275.8h0M83.2 276.1h0M88.5 268.1h0M93.6 278.9h0M88.6 278.8h0M84.3 273.0h0M87.7 275.9h0M85.6 276.9h0M89.0 274.2h0M89.0 277.6h0M83.1 278.4h0M99.5 278.5h0M87.6 277.9h0M88.6 277.5h0M89.6 268.7h0M91.7 278.5h0M95.3 278.5h0M94.3 278.9h0M92.4 276.4h0M84.9 273.1h0M86.2 273.9h0M100.6 279.1h0M93.1 273.8h0M86.0 276.2h0M84.1 274.4h0M90.4 275.1h0M99.3 279.3h0M88.5 277.9h0M102.0 279.5h0M89.7 276.6h0M89.2 277.0h0M83.0 273.0h0M86.0 272.3h0M85.4 278.3h0M85.1 273.9h0M83.6 276.1h0M85.2 270.8h0M90.8 272.3h0M82.6 276.8h0M105.0 279.5h0M87.9 270.9h0M85.8 272.9h0M83.1 273.8h0M85.6 276.8h0M91.2 271.4h0M84.1 272.3h0M82.7 278.1h0M83.2 273.1h0M85.5 270.2h0M84.1 273.9h0M94.7 274.4h0M90.2 275.5h0M83.0 274.8h0M83.1 276.2h0M84.2 277.1h0M82.6 278.4h0M83.6 277.0h0M84.8 269.3h0M87.4 274.9h0M83.0 278.4h0M85.4 271.8h0M89.5 271.9h0M84.1 274.3h0M95.4 277.3h0M85.4 272.8h0M100.7 278.9h0M83.7 278.8h0M91.0 278.2h0M93.0 274.4h0M94.5 277.0h0M99.4 278.6h0M95.9 275.6h0M85.6 270.4h0M91.7 273.1h0M86.1 271.7h0M90.3 278.3h0M97.6 279.3h0M85.3 278.1h0M104.5 279.5h0M84.7 275.4h0M99.4 278.3h0M84.0 272.9h0M87.4 274.4h0M94.4 276.5h0M87.3 273.1h0M96.8 277.1h0M85.3 279.4h0M95.4 276.5h0M85.9 270.6h0M91.0 275.0h0M89.0 274.2h0M93.4 278.5h0M91.5 275.8h0M83.0 275.5h0M89.8 275.7h0M86.3 279.0h0M101.5 279.1h0M84.5 277.1h0M84.1 270.9h0M82.8 278.1h0M86.3 273.5h0M86.0 278.2h0M83.9 273.8h0M90.9 274.5h0M83.5 270.7h0M85.6 277.8h0M87.4 273.8h0M86.8 268.3h0M85.6 276.2h0M84.4 278.0h0M97.2 277.4h0M85.5 277.8h0M83.9 278.0h0M85.8 276.0h0M83.2 272.9h0M94.7 276.2h0M95.7 275.3h0M83.2 276.5h0M83.7 271.4h0M90.6 276.6h0M88.5 276.5h0M82.9 279.3h0M94.2 273.8h0M83.5 276.1h0M95.3 277.0h0M83.4 278.8h0M94.4 278.6h0M92.8 274.0h0M89.0 272.2h0M85.1 275.1h0M93.7 275.2h0M88.2 273.9h0M91.0 276.1h0M84.1 273.4h0M84.7 272.2h0M98.6 279.4h0M88.3 272.8h0M102.0 279.2h0M85.0 279.5h0M102.7 279.2h0M83.9 276.1h0M85.6 278.0h0M104.8 279.5h0M83.4 275.9h0M83.5 271.6h0M101.3 279.2h0M86.6 271.7h0M83.0 273.8h0M89.4 269.1h0M98.3 279.3h0M83.4 277.9h0M91.2 279.3h0M103.5 279.3h0M83.0 272.1h0M84.5 277.4h0M84.7 278.0h0M88.2 269.3h0M83.6 275.7h0M94.2 275.8h0M94.3 273.5h0M88.7 269.1h0M85.2 277.8h0M93.3 278.4h0M100.7 279.5h0M85.0 276.4h0M86.3 277.8h0M83.9 273.9h0M96.4 276.8h0M90.7 278.7h0M85.8 268.9h0M84.1 275.8h0M84.3 276.1h0M84.2 275.8h0M99.5 279.2h0M82.7 276.7h0M92.0 274.9h0M85.6 272.4h0M102.4 279.4h0M84.0 277.6h0M86.8 277.0h0M101.2 279.4h0M90.8 273.4h0M89.1 273.0h0M88.7 279.3h0M85.1 278.9h0M87.7 270.8h0M84.0 279.2h0M84.4 278.6h0M91.0 274.5h0M86.7 279.0h0M88.4 277.9h0M90.6 278.8h0M82.9 272.8h0M86.4 271.9h0M84.3 269.8h0M84.0 270.9h0M88.5 268.5h0M82.8 271.7h0M100.6 279.5h0M82.6 272.2h0M86.5 277.7h0M82.8 278.3h0M87.4 276.9h0M85.2 278.1h0M83.4 272.5h0M85.2 279.1h0M84.3 272.7h0M84.3 271.2h0M104.2 257.2h0M42.9 274.9h0M93.5 268.5h0M98.2 268.5h0M100.7 268.5h0M98.2 271.6h0M95.5 274.0h0M108.3 271.6h0M106.6 274.0h0M109.5 276.6h0M68.0 271.6h0M65.1 274.5h0M62.2 275.1h0M58.1 275.7h0M55.8 277.4h0M52.8 276.6h0M42.4 199.6h0" stroke="#FF2A1F" stroke-width="1.7" stroke-linecap="round" fill="none"/>
<line x1="73.6" y1="171.8" x2="73.6" y2="287.5" stroke="#555" stroke-width="0.7" stroke-dasharray="2.6,1.6"/>
<line x1="81.9" y1="171.8" x2="81.9" y2="287.5" stroke="#555" stroke-width="0.7" stroke-dasharray="2.6,1.6"/>
<line x1="26.2" y1="279.5" x2="126.3" y2="279.5" stroke="#555" stroke-width="0.7" stroke-dasharray="2.6,1.6"/>
<line x1="26.2" y1="171.6" x2="26.2" y2="287.5" stroke="#333" stroke-width="0.9"/>
<line x1="25.8" y1="287.5" x2="126.3" y2="287.5" stroke="#333" stroke-width="0.9"/>
<line x1="22.8" y1="282.3" x2="26.2" y2="282.3" stroke="#333" stroke-width="0.6"/>
<text x="20.6" y="284.1" text-anchor="end" fill="#555" color="#555" style="font-size:5px;stroke:none;">0</text>
<line x1="22.8" y1="261.2" x2="26.2" y2="261.2" stroke="#333" stroke-width="0.6"/>
<text x="20.6" y="263" text-anchor="end" fill="#555" color="#555" style="font-size:5px;stroke:none;">10</text>
<line x1="22.8" y1="240.1" x2="26.2" y2="240.1" stroke="#333" stroke-width="0.6"/>
<text x="20.6" y="241.9" text-anchor="end" fill="#555" color="#555" style="font-size:5px;stroke:none;">20</text>
<line x1="22.8" y1="219" x2="26.2" y2="219" stroke="#333" stroke-width="0.6"/>
<text x="20.6" y="220.8" text-anchor="end" fill="#555" color="#555" style="font-size:5px;stroke:none;">30</text>
<line x1="22.8" y1="197.9" x2="26.2" y2="197.9" stroke="#333" stroke-width="0.6"/>
<text x="20.6" y="199.7" text-anchor="end" fill="#555" color="#555" style="font-size:5px;stroke:none;">40</text>
<line x1="22.8" y1="176.8" x2="26.2" y2="176.8" stroke="#333" stroke-width="0.6"/>
<text x="20.6" y="178.6" text-anchor="end" fill="#555" color="#555" style="font-size:5px;stroke:none;">50</text>
<line x1="27.48" y1="287.5" x2="27.48" y2="289.7" stroke="#333" stroke-width="0.6"/>
<text x="27.48" y="297.5" text-anchor="middle" fill="#444" color="#444" style="font-size:5px;">-6</text>
<line x1="52.59" y1="287.5" x2="52.59" y2="289.7" stroke="#333" stroke-width="0.6"/>
<text x="52.59" y="297.5" text-anchor="middle" fill="#444" color="#444" style="font-size:5px;">-3</text>
<line x1="77.7" y1="287.5" x2="77.7" y2="289.7" stroke="#333" stroke-width="0.6"/>
<text x="77.7" y="297.5" text-anchor="middle" fill="#444" color="#444" style="font-size:5px;">0</text>
<line x1="102.81" y1="287.5" x2="102.81" y2="289.7" stroke="#333" stroke-width="0.6"/>
<text x="102.81" y="297.5" text-anchor="middle" fill="#444" color="#444" style="font-size:5px;">3</text>
<text x="10.87" y="232" text-anchor="middle" transform="rotate(-90 10.87 232)" style="font-size:6.3px;font-weight:bold">-Log<tspan style="font-size:4.3px" dy="1.3">10</tspan><tspan dy="-1.3">(</tspan><tspan style="font-style:italic">FDR</tspan>)</text>
<text x="77" y="306.27" text-anchor="middle" style="font-size:6.3px;font-weight:bold">Log<tspan style="font-size:4.4px" dy="1.4">2</tspan><tspan dy="-1.4">FC</tspan></text>
<text x="50.1" y="176.58" text-anchor="middle" fill="#2323F0" color="#2323F0" style="font-size:5.5px;font-weight:bold;">High in Control</text>
<path d="M35.4,178.7 Q33.2,178.7 33.2,180.9 L33.2,187.7 Q33.2,189.9 35.4,189.9" fill="none" stroke="#2323F0" stroke-width="0.55"/>
<path d="M64.7,178.7 Q66.9,178.7 66.9,180.9 L66.9,187.7 Q66.9,189.9 64.7,189.9" fill="none" stroke="#2323F0" stroke-width="0.55"/>
<text x="50.05" y="183.53" text-anchor="middle" fill="#2323F0" color="#2323F0" style="font-size:4.8px;"><tspan style="font-style:italic">FDR</tspan> &lt; 0.05</text>
<text x="50.05" y="188.73" text-anchor="middle" fill="#2323F0" color="#2323F0" style="font-size:4.8px;">Log<tspan style="font-size:3px" dy="0.8">2</tspan><tspan dy="-0.8">FC &lt; -0.5</tspan></text>
<text x="50.1" y="196.03" text-anchor="middle" fill="#2323F0" color="#2323F0" style="font-size:4.8px;">(208 genes)</text>
<text x="104.9" y="176.58" text-anchor="middle" fill="#F02828" color="#F02828" style="font-size:5.5px;font-weight:bold;">High in SMA</text>
<path d="M91.1,178.7 Q88.9,178.7 88.9,180.9 L88.9,187.7 Q88.9,189.9 91.1,189.9" fill="none" stroke="#F02828" stroke-width="0.55"/>
<path d="M119.6,178.7 Q121.8,178.7 121.8,180.9 L121.8,187.7 Q121.8,189.9 119.6,189.9" fill="none" stroke="#F02828" stroke-width="0.55"/>
<text x="105.35" y="183.53" text-anchor="middle" fill="#F02828" color="#F02828" style="font-size:4.8px;"><tspan style="font-style:italic">FDR</tspan> &lt; 0.05</text>
<text x="105.35" y="188.73" text-anchor="middle" fill="#F02828" color="#F02828" style="font-size:4.8px;">Log<tspan style="font-size:3px" dy="0.8">2</tspan><tspan dy="-0.8">FC &gt; 0.5</tspan></text>
<text x="104.9" y="196.03" text-anchor="middle" fill="#F02828" color="#F02828" style="font-size:4.8px;">(283 genes)</text>
<rect x="239.2" y="184.3" width="68.4" height="96.2" fill="#fff"/>
<line x1="249.73" y1="184.3" x2="249.73" y2="280.5" stroke="#f4f4f4" stroke-width="0.6"/>
<line x1="265.39" y1="184.3" x2="265.39" y2="280.5" stroke="#f4f4f4" stroke-width="0.6"/>
<line x1="281.05" y1="184.3" x2="281.05" y2="280.5" stroke="#f4f4f4" stroke-width="0.6"/>
<line x1="296.71" y1="184.3" x2="296.71" y2="280.5" stroke="#f4f4f4" stroke-width="0.6"/>
<line x1="241.9" y1="184.3" x2="241.9" y2="280.5" stroke="#ebebeb" stroke-width="0.8"/>
<line x1="257.56" y1="184.3" x2="257.56" y2="280.5" stroke="#ebebeb" stroke-width="0.8"/>
<line x1="273.22" y1="184.3" x2="273.22" y2="280.5" stroke="#ebebeb" stroke-width="0.8"/>
<line x1="288.88" y1="184.3" x2="288.88" y2="280.5" stroke="#ebebeb" stroke-width="0.8"/>
<line x1="304.54" y1="184.3" x2="304.54" y2="280.5" stroke="#ebebeb" stroke-width="0.8"/>
<line x1="239.2" y1="191.35" x2="307.6" y2="191.35" stroke="#ebebeb" stroke-width="0.8"/>
<line x1="239.2" y1="203.08" x2="307.6" y2="203.08" stroke="#ebebeb" stroke-width="0.8"/>
<line x1="239.2" y1="214.81" x2="307.6" y2="214.81" stroke="#ebebeb" stroke-width="0.8"/>
<line x1="239.2" y1="226.54" x2="307.6" y2="226.54" stroke="#ebebeb" stroke-width="0.8"/>
<line x1="239.2" y1="238.27" x2="307.6" y2="238.27" stroke="#ebebeb" stroke-width="0.8"/>
<line x1="239.2" y1="250" x2="307.6" y2="250" stroke="#ebebeb" stroke-width="0.8"/>
<line x1="239.2" y1="261.73" x2="307.6" y2="261.73" stroke="#ebebeb" stroke-width="0.8"/>
<line x1="239.2" y1="273.46" x2="307.6" y2="273.46" stroke="#ebebeb" stroke-width="0.8"/>
<rect x="241.9" y="186.2" width="62.64" height="10.3" fill="#3A9620"/>
<rect x="241.9" y="197.93" width="32.89" height="10.3" fill="#4CFF12"/>
<rect x="241.9" y="209.66" width="31.32" height="10.3" fill="#45D81C"/>
<rect x="241.9" y="221.39" width="28.19" height="10.3" fill="#40C31E"/>
<rect x="241.9" y="233.12" width="20.36" height="10.3" fill="#3DB31F"/>
<rect x="241.9" y="244.85" width="20.36" height="10.3" fill="#3BA820"/>
<rect x="241.9" y="256.58" width="18.79" height="10.3" fill="#389E20"/>
<rect x="241.9" y="268.31" width="15.66" height="10.3" fill="#389A20"/>
<rect x="239.2" y="184.3" width="68.4" height="96.2" fill="none" stroke="#cccccc" stroke-width="0.8"/>
<line x1="237.6" y1="191.35" x2="239.2" y2="191.35" stroke="#444" stroke-width="0.6"/>
<text x="236.8" y="193.19" text-anchor="end" fill="#1a1a1a" color="#1a1a1a" style="font-size:5.1px;">Gliogenesis</text>
<line x1="237.6" y1="203.08" x2="239.2" y2="203.08" stroke="#444" stroke-width="0.6"/>
<text x="236.8" y="204.92" text-anchor="end" fill="#1a1a1a" color="#1a1a1a" style="font-size:5.1px;">Neuron apoptotic process</text>
<line x1="237.6" y1="214.81" x2="239.2" y2="214.81" stroke="#444" stroke-width="0.6"/>
<text x="236.8" y="216.65" text-anchor="end" fill="#1a1a1a" color="#1a1a1a" style="font-size:5.1px;">Regulation of neuron apoptotic process</text>
<line x1="237.6" y1="226.54" x2="239.2" y2="226.54" stroke="#444" stroke-width="0.6"/>
<text x="236.8" y="228.38" text-anchor="end" fill="#1a1a1a" color="#1a1a1a" style="font-size:5.1px;">Amino acid metabolic process</text>
<line x1="237.6" y1="238.27" x2="239.2" y2="238.27" stroke="#444" stroke-width="0.6"/>
<text x="236.8" y="240.11" text-anchor="end" fill="#1a1a1a" color="#1a1a1a" style="font-size:5.1px;">L-Amino acid metabolic process</text>
<line x1="237.6" y1="250" x2="239.2" y2="250" stroke="#444" stroke-width="0.6"/>
<text x="236.8" y="251.84" text-anchor="end" fill="#1a1a1a" color="#1a1a1a" style="font-size:5.1px;">Amino acid transmembrane transporter activity</text>
<line x1="237.6" y1="261.73" x2="239.2" y2="261.73" stroke="#444" stroke-width="0.6"/>
<text x="236.8" y="263.57" text-anchor="end" fill="#1a1a1a" color="#1a1a1a" style="font-size:5.1px;">L-Amino acid transport</text>
<line x1="237.6" y1="273.46" x2="239.2" y2="273.46" stroke="#444" stroke-width="0.6"/>
<text x="236.8" y="275.3" text-anchor="end" fill="#1a1a1a" color="#1a1a1a" style="font-size:5.1px;">Amino acid import across plasma membrane</text>
<line x1="241.9" y1="280.5" x2="241.9" y2="282.1" stroke="#444" stroke-width="0.6"/>
<text x="241.9" y="285.78" text-anchor="middle" fill="#444" color="#444" style="font-size:4.4px;">0</text>
<line x1="257.56" y1="280.5" x2="257.56" y2="282.1" stroke="#444" stroke-width="0.6"/>
<text x="257.56" y="285.78" text-anchor="middle" fill="#444" color="#444" style="font-size:4.4px;">10</text>
<line x1="273.22" y1="280.5" x2="273.22" y2="282.1" stroke="#444" stroke-width="0.6"/>
<text x="273.22" y="285.78" text-anchor="middle" fill="#444" color="#444" style="font-size:4.4px;">20</text>
<line x1="288.88" y1="280.5" x2="288.88" y2="282.1" stroke="#444" stroke-width="0.6"/>
<text x="288.88" y="285.78" text-anchor="middle" fill="#444" color="#444" style="font-size:4.4px;">30</text>
<line x1="304.54" y1="280.5" x2="304.54" y2="282.1" stroke="#444" stroke-width="0.6"/>
<text x="304.54" y="285.78" text-anchor="middle" fill="#444" color="#444" style="font-size:4.4px;">40</text>
<text x="272.9" y="292.01" text-anchor="middle" fill="#000" color="#000" style="font-size:5.3px;font-weight:bold;">Count</text>
<defs><linearGradient id="gE" x1="0" y1="0" x2="0" y2="1"><stop offset="0" stop-color="#4CFF12"/><stop offset="1" stop-color="#348C20"/></linearGradient></defs>
<rect x="316" y="215" width="8.7" height="43" fill="url(#gE)"/>
<line x1="316" y1="225.4" x2="317.5" y2="225.4" stroke="#fff" stroke-width="0.5"/>
<line x1="323.2" y1="225.4" x2="324.7" y2="225.4" stroke="#fff" stroke-width="0.5"/>
<text x="327.1" y="226.98" text-anchor="start" fill="#333" color="#333" style="font-size:4.4px;">0.006</text>
<line x1="316" y1="236.1" x2="317.5" y2="236.1" stroke="#fff" stroke-width="0.5"/>
<line x1="323.2" y1="236.1" x2="324.7" y2="236.1" stroke="#fff" stroke-width="0.5"/>
<text x="327.1" y="237.68" text-anchor="start" fill="#333" color="#333" style="font-size:4.4px;">0.004</text>
<line x1="316" y1="247.3" x2="317.5" y2="247.3" stroke="#fff" stroke-width="0.5"/>
<line x1="323.2" y1="247.3" x2="324.7" y2="247.3" stroke="#fff" stroke-width="0.5"/>
<text x="327.1" y="248.88" text-anchor="start" fill="#333" color="#333" style="font-size:4.4px;">0.002</text>
<text x="316" y="211.96" text-anchor="start" fill="#1a1a1a" color="#1a1a1a" style="font-size:6px;">p.adjust</text>
<text x="347.1" y="161.8" text-anchor="start" fill="#000" color="#000" style="font-size:12px;font-weight:bold;">F</text>
<text x="425" y="166.3" text-anchor="middle" fill="#000" color="#000" style="font-size:7.5px;font-weight:bold;">E-MTAB-3664</text>
<path d="M441.3 282.4h0M433.8 281.5h0M406.9 282.0h0M414.6 281.6h0M416.4 280.5h0M433.8 281.5h0M432.8 282.5h0M409.0 281.2h0M403.2 281.8h0M442.5 282.0h0M436.2 280.9h0M407.1 281.4h0M437.9 282.3h0M409.9 281.2h0M409.1 282.4h0M427.6 282.0h0M440.2 281.9h0M441.4 281.5h0M435.8 282.1h0M408.6 282.3h0M430.8 281.4h0M403.6 282.2h0M417.1 281.7h0M415.5 282.1h0M403.2 280.9h0M409.8 280.5h0M412.7 280.5h0M434.9 282.5h0M434.5 282.2h0M442.3 282.1h0M409.5 281.2h0M414.1 281.7h0M411.2 281.9h0M440.1 280.7h0M428.1 280.6h0M409.7 281.7h0M439.4 281.4h0M405.4 282.4h0M412.9 281.4h0M431.0 280.6h0M412.8 281.1h0M414.4 281.4h0M439.8 280.5h0M427.1 281.8h0M406.6 281.7h0M415.3 281.6h0M442.3 281.7h0M434.7 281.1h0M410.0 282.0h0M414.5 282.5h0M433.1 282.6h0M436.7 282.0h0M433.6 280.9h0M442.4 281.9h0M427.7 280.7h0M439.1 280.7h0M438.1 281.8h0M442.9 282.3h0M428.8 281.6h0M413.8 281.0h0M404.9 282.0h0M414.2 280.5h0M427.7 280.9h0M430.2 281.4h0M415.2 281.5h0M431.7 282.4h0M417.4 282.3h0M403.0 282.3h0M403.8 282.0h0M436.2 281.0h0M408.8 281.3h0M427.5 281.9h0M404.9 282.2h0M442.9 281.0h0M409.9 280.8h0M437.7 281.5h0M406.7 280.6h0M434.3 281.2h0M412.6 280.5h0M440.3 282.5h0M432.6 282.2h0M414.8 281.7h0M417.4 281.0h0M440.2 281.4h0M432.9 280.6h0M407.8 281.7h0M411.9 281.8h0M442.5 281.5h0M440.1 282.2h0M442.8 281.2h0M442.7 281.6h0M412.0 281.8h0M406.8 281.7h0M442.6 281.0h0M438.5 282.3h0M406.6 280.9h0M435.7 282.3h0M411.5 281.1h0M428.9 282.6h0M409.9 282.2h0M439.6 281.9h0M433.9 280.7h0M432.4 281.0h0M406.0 281.4h0M417.0 281.0h0M407.8 282.4h0M442.6 282.4h0M405.4 280.6h0M407.0 280.6h0M410.2 282.0h0M442.9 281.2h0M404.0 281.2h0M408.0 282.3h0M410.5 281.0h0M414.0 280.6h0M439.2 281.4h0M439.8 281.3h0M415.8 282.6h0M427.2 281.5h0M432.2 281.2h0M405.3 282.2h0M415.8 282.3h0M408.6 281.7h0M405.7 281.5h0M405.2 282.0h0M405.5 281.1h0M416.2 281.7h0M414.9 281.5h0M439.3 282.4h0M415.7 281.3h0M434.4 282.3h0M412.9 281.4h0M406.2 281.0h0M416.9 281.8h0M406.4 281.7h0M415.5 280.7h0M438.9 281.6h0M431.8 280.9h0M439.7 282.4h0M433.1 281.1h0M409.4 281.2h0M417.6 280.8h0M438.1 282.4h0M442.2 281.3h0M411.8 282.3h0M435.4 280.6h0M437.8 282.2h0M433.5 281.9h0M405.6 280.7h0M435.8 280.7h0M432.6 280.6h0M437.7 280.8h0M429.9 282.6h0M404.2 281.8h0M408.8 280.9h0M431.1 280.6h0M407.5 280.5h0M410.5 281.9h0M432.5 281.5h0M440.6 282.5h0M441.4 281.3h0M417.0 282.3h0M416.2 281.7h0M412.6 282.4h0M432.4 281.4h0M441.7 280.5h0M405.0 281.0h0M442.9 282.5h0M406.9 280.8h0M435.7 281.2h0M416.1 282.6h0M441.7 280.8h0M439.5 281.5h0M408.0 282.2h0M413.7 280.9h0M416.3 280.5h0M405.7 282.1h0M429.8 281.3h0M433.8 282.2h0M403.7 280.5h0M429.0 281.0h0M429.9 280.8h0M414.7 282.6h0M435.3 281.7h0M411.7 282.2h0M405.7 280.7h0M407.0 282.6h0M427.6 281.4h0M438.2 281.4h0M404.5 282.1h0M406.2 282.3h0M417.1 282.4h0M403.6 280.8h0M435.5 281.5h0M404.7 281.4h0M417.9 281.5h0M440.6 282.6h0M430.9 281.3h0M412.9 280.6h0M410.6 282.4h0M440.5 281.1h0M437.2 281.2h0M431.7 281.0h0M430.9 280.7h0M416.9 281.9h0M438.1 280.7h0M409.2 280.7h0M414.6 281.7h0M409.7 281.6h0M410.7 282.4h0M410.0 280.8h0M417.5 280.9h0M409.9 281.8h0M442.2 282.2h0M404.9 281.0h0M405.6 281.8h0M429.6 281.1h0M417.3 280.7h0M430.8 282.1h0M429.4 280.6h0M409.1 281.4h0M430.0 280.9h0M439.3 281.6h0M411.0 281.2h0M432.5 281.0h0M442.4 281.2h0M441.0 282.2h0M436.1 281.6h0M414.9 282.2h0M403.3 282.5h0M428.3 282.4h0M415.0 281.5h0M430.7 281.3h0M414.2 281.9h0M403.7 282.3h0M439.1 282.4h0M441.6 282.1h0M435.6 282.0h0M408.8 282.2h0M437.0 281.8h0M432.0 280.8h0M427.2 282.3h0M408.9 280.9h0M413.5 281.3h0M404.7 282.3h0M438.7 281.8h0M439.4 282.1h0M439.2 281.1h0M408.2 280.6h0M430.7 282.4h0M429.3 281.8h0M412.1 281.7h0M403.3 281.1h0M407.3 282.5h0M428.3 281.4h0M408.3 281.3h0M428.8 281.4h0M431.5 282.4h0M405.6 281.7h0M438.8 280.8h0M432.8 280.6h0M414.5 281.1h0M407.6 281.8h0M406.5 281.1h0M442.3 281.1h0M405.2 281.5h0M403.8 281.9h0M436.9 281.9h0M429.0 282.1h0M440.4 282.6h0M433.0 281.7h0M415.5 281.2h0M437.9 281.5h0M410.4 281.7h0M431.8 281.2h0M412.8 281.4h0M409.8 282.3h0M430.3 282.3h0M411.2 282.0h0M431.3 280.5h0M416.4 280.9h0M441.4 281.3h0M433.0 281.3h0M405.4 280.8h0M407.6 281.0h0M434.2 281.1h0M403.7 281.3h0M427.7 282.4h0M432.1 281.4h0M407.2 281.6h0M417.7 282.0h0M410.5 281.8h0M406.8 282.6h0M404.4 280.9h0M417.2 280.6h0M414.4 281.2h0M407.8 280.8h0M431.4 281.6h0M417.1 280.6h0M406.3 281.9h0M432.3 280.8h0M432.1 280.7h0M404.7 282.3h0M436.6 281.1h0M415.9 281.7h0M405.8 280.9h0M428.2 282.0h0M435.2 282.0h0M413.0 281.9h0M432.5 282.0h0M413.8 280.6h0M404.5 280.8h0M439.2 282.5h0M428.9 281.1h0M417.7 280.6h0M440.9 281.8h0M433.6 281.0h0M440.7 281.9h0M428.1 282.5h0M412.6 281.8h0M440.7 281.2h0M443.5 281.5h0" stroke="#3C9A2C" stroke-width="2" stroke-linecap="round" fill="none"/>
<path d="M426.3 281.1h0M419.8 281.5h0M422.4 281.3h0M420.7 282.2h0M426.0 281.4h0M422.9 281.1h0M424.5 282.4h0M424.7 281.7h0M419.7 282.1h0M426.4 280.7h0M425.7 281.6h0M423.6 281.9h0M424.4 281.5h0M421.4 280.4h0M422.5 282.8h0M425.0 282.6h0M420.8 281.7h0M420.2 281.7h0M422.0 281.5h0M423.7 281.1h0M419.0 282.3h0M419.5 282.0h0M422.2 280.7h0M418.7 280.8h0M419.8 281.0h0M425.2 280.4h0M423.1 282.7h0M420.8 281.8h0M423.9 280.4h0M425.5 282.7h0M419.6 281.2h0M420.2 281.4h0M422.6 281.5h0M421.3 280.6h0M420.9 282.0h0M419.8 282.1h0M419.6 281.3h0M418.7 282.3h0M424.9 280.7h0M421.2 281.0h0M424.9 281.2h0M423.5 281.0h0M421.1 282.0h0M420.6 282.3h0M422.6 281.5h0M420.1 282.6h0M418.7 282.3h0M419.8 281.3h0M425.0 281.5h0M423.6 281.8h0M419.1 281.0h0M424.6 282.5h0M421.0 281.2h0M424.1 282.4h0M421.6 281.9h0M422.9 280.8h0M419.7 281.9h0M425.8 282.4h0M419.9 280.9h0M423.5 281.7h0M422.2 282.7h0M423.6 282.2h0M422.0 280.5h0M422.5 281.9h0M421.3 282.1h0M423.4 281.1h0M419.5 282.8h0M421.7 282.4h0M423.3 282.5h0M422.5 281.7h0M426.2 282.1h0M420.6 282.0h0M423.8 282.3h0M420.5 281.1h0M422.7 282.7h0M425.2 282.5h0M420.9 281.5h0M422.2 280.9h0M419.7 281.2h0M420.0 282.6h0M424.1 280.9h0M419.4 282.8h0M420.1 281.4h0M418.8 280.5h0M418.7 281.0h0M424.9 281.9h0M425.0 282.4h0M424.7 281.4h0M425.3 280.9h0M424.8 280.7h0M420.6 282.8h0M419.9 281.0h0M422.6 281.6h0M422.3 282.8h0M425.9 281.4h0M423.2 281.6h0M425.5 281.7h0M422.8 280.9h0M419.7 280.8h0M423.5 282.0h0M419.7 281.6h0M420.9 282.9h0M425.1 281.0h0M425.7 281.0h0M421.8 280.6h0M420.5 282.2h0M422.3 281.2h0M419.3 282.7h0M425.9 282.8h0M424.4 281.7h0M426.1 280.7h0M422.2 281.5h0M424.1 282.2h0M418.7 280.4h0M422.8 280.9h0M422.8 282.7h0M419.4 282.3h0M426.2 280.8h0M420.9 281.7h0M426.2 281.6h0M421.1 281.5h0M419.9 281.4h0M419.1 281.6h0M419.4 282.8h0M424.5 281.6h0M419.8 281.9h0M425.6 282.0h0M420.7 281.7h0M425.6 281.3h0M422.3 281.3h0M421.3 280.5h0M420.7 282.3h0M422.4 280.9h0M424.6 281.2h0M418.6 280.9h0M425.7 282.5h0M420.1 282.3h0M419.6 282.5h0M422.5 281.1h0M422.2 281.5h0M424.0 280.8h0M426.2 281.1h0M422.5 282.7h0M420.9 282.4h0M426.1 281.0h0M419.6 282.0h0M421.9 281.3h0M426.2 282.0h0M424.1 281.8h0M425.7 281.6h0M424.6 281.4h0M424.2 281.0h0M421.6 281.7h0M423.5 281.1h0M423.2 282.0h0M422.4 281.6h0M421.6 282.1h0M419.1 282.7h0M419.8 282.6h0M421.5 280.4h0" stroke="#4a4a4a" stroke-width="2" stroke-linecap="round" fill="none"/>
<path d="M426.1 280.1h0M425.4 276.8h0M421.4 280.5h0M424.1 279.4h0M418.6 277.7h0M424.9 280.4h0M420.3 280.2h0M420.5 278.2h0M424.7 279.2h0M426.4 279.4h0M420.5 279.2h0M421.2 280.3h0M419.9 280.3h0M420.9 280.0h0M419.3 276.9h0M424.4 278.6h0M426.0 280.4h0M425.6 276.8h0M426.0 276.7h0M421.1 278.9h0M425.9 279.0h0M423.4 280.0h0M424.1 278.5h0M421.7 279.6h0M418.6 278.3h0M419.9 278.3h0M424.3 278.9h0M419.4 276.5h0M424.0 278.7h0M423.3 280.3h0M420.5 279.2h0M426.4 275.7h0M424.9 280.5h0M423.8 279.5h0M420.6 279.4h0M424.0 279.4h0M420.1 280.2h0M424.2 278.8h0M426.4 275.5h0M420.1 278.9h0" stroke="#5577EE" stroke-width="1.4" stroke-linecap="round" fill="none"/>
<path d="M402.3 279.8h0M415.9 273.9h0M404.4 279.7h0M415.3 269.4h0M410.6 269.7h0M402.3 280.4h0M407.2 280.5h0M417.3 272.4h0M400.9 279.7h0M413.7 272.5h0M416.1 276.6h0M414.3 274.0h0M403.8 279.7h0M407.0 279.5h0M413.9 276.5h0M412.4 273.6h0M412.1 275.3h0M417.1 273.9h0M403.1 278.5h0M401.7 280.3h0M406.4 277.2h0M417.0 277.6h0M404.0 279.6h0M406.1 278.8h0M409.8 279.6h0M414.1 271.7h0M416.3 273.7h0M413.2 276.7h0M408.7 280.2h0M406.7 278.3h0M411.8 277.9h0M407.4 278.9h0M417.7 279.1h0M408.4 276.6h0M400.9 280.2h0M411.9 279.5h0M415.2 279.3h0M412.6 278.4h0M404.1 279.8h0M401.7 280.1h0M412.5 279.2h0M410.5 276.5h0M415.5 270.7h0M402.6 276.9h0M409.6 276.9h0M411.3 271.2h0M417.8 275.0h0M406.6 280.3h0M407.7 278.3h0M414.6 276.1h0M415.0 273.9h0M415.2 277.9h0M410.7 269.0h0M416.2 274.8h0M410.6 274.9h0M410.2 279.7h0M402.1 280.0h0M401.0 279.9h0M414.3 274.3h0M415.0 279.9h0M402.3 280.4h0M408.5 280.1h0M401.8 279.9h0M403.9 280.5h0M405.9 280.1h0M403.0 279.7h0M403.3 280.5h0M401.2 271.9h0M409.1 277.9h0M411.9 271.9h0M405.7 278.0h0M412.2 279.6h0M404.2 280.0h0M417.5 274.2h0M402.0 279.5h0M402.5 279.2h0M414.9 277.0h0M401.9 279.7h0M416.7 274.3h0M418.0 276.9h0M414.8 272.8h0M416.0 273.9h0M407.9 275.5h0M411.9 279.9h0M415.0 274.3h0M405.6 277.0h0M417.3 279.1h0M407.7 275.7h0M400.7 280.4h0M411.1 273.8h0M410.2 272.0h0M403.6 279.2h0M409.3 278.1h0M402.1 276.9h0M408.6 279.6h0M407.6 276.0h0M402.9 278.5h0M407.3 275.1h0M401.1 280.3h0M411.1 275.0h0M403.0 279.1h0M413.4 277.3h0M404.6 277.8h0M404.9 279.1h0M414.3 272.3h0M415.6 276.5h0M407.7 276.9h0M415.1 279.3h0M415.7 273.1h0M411.6 272.2h0M400.6 280.0h0M413.2 268.5h0M416.6 271.1h0M412.1 270.4h0M414.7 279.9h0M405.1 277.8h0M404.2 279.9h0M403.5 280.5h0M411.7 279.3h0M410.5 271.6h0M412.5 279.1h0M406.5 278.9h0M403.5 280.5h0M416.1 278.0h0M402.6 279.2h0M405.1 279.5h0M415.2 274.8h0M412.9 280.0h0M415.1 278.1h0M415.5 270.8h0M408.8 276.7h0M404.7 278.5h0M404.2 279.2h0M400.8 279.9h0M411.5 271.9h0M403.2 279.0h0M416.8 277.1h0M411.2 277.5h0M412.4 274.9h0M402.5 276.7h0M409.5 275.8h0M408.6 278.6h0M411.0 276.4h0M401.6 279.8h0M412.6 271.8h0M412.0 272.5h0M402.5 280.3h0M401.6 274.4h0M410.5 274.5h0M408.4 274.5h0M416.7 270.5h0M404.1 277.6h0M401.8 279.8h0M403.8 279.6h0M402.0 280.0h0M409.5 279.5h0M415.8 270.4h0M402.6 278.7h0M403.4 280.3h0M402.3 279.7h0M408.6 277.1h0M403.4 279.6h0M400.3 280.4h0M409.8 279.1h0M401.4 279.9h0M406.5 275.8h0M412.7 275.5h0M401.2 280.3h0M405.2 278.2h0M417.9 274.1h0M416.1 279.2h0M408.0 277.3h0M412.5 279.6h0M405.3 279.2h0M400.5 271.9h0M409.8 279.9h0M407.6 278.7h0M415.1 272.6h0M406.4 278.7h0M409.2 279.9h0M407.1 279.9h0M401.3 273.2h0M404.6 280.3h0M400.9 280.1h0M413.5 272.6h0M417.5 275.0h0M417.0 270.6h0M417.1 273.7h0M407.5 280.4h0M406.9 278.5h0M415.3 276.1h0M409.1 274.1h0M409.1 277.0h0M408.3 275.5h0M410.1 270.4h0M404.0 278.7h0M403.7 279.9h0M403.2 278.7h0M416.5 271.9h0M410.0 280.3h0M403.7 279.4h0M402.5 279.6h0M406.0 276.9h0M412.5 276.4h0M408.8 275.8h0M410.1 278.6h0M402.3 278.9h0M403.4 278.4h0M404.0 280.1h0M413.8 271.5h0M403.9 279.6h0M417.8 274.4h0M417.7 275.1h0M404.6 277.5h0M411.0 275.9h0M416.5 279.5h0M404.7 277.2h0M416.0 271.4h0M412.0 275.3h0M415.1 271.0h0M414.5 268.3h0M416.5 273.3h0M400.6 280.4h0M408.3 280.1h0M417.2 276.1h0M415.4 274.0h0M412.0 279.7h0M407.3 277.2h0M412.9 280.4h0M404.9 277.2h0M410.7 272.6h0M413.2 276.3h0M400.9 280.5h0M400.3 280.3h0M406.3 278.5h0M416.0 271.1h0M403.4 280.1h0M417.4 277.5h0M403.8 280.3h0M409.0 274.1h0M406.9 276.5h0M409.4 280.3h0M417.4 274.3h0M405.6 280.2h0M408.7 272.4h0M414.8 270.0h0M414.6 278.6h0M411.2 270.0h0M411.4 269.5h0M409.5 272.8h0M412.8 272.4h0M406.3 271.7h0M405.1 279.9h0M413.3 276.5h0M401.5 280.3h0M412.6 276.7h0M417.4 270.9h0M405.3 279.8h0M400.8 280.4h0M414.9 280.1h0M409.2 273.2h0M402.0 279.5h0M404.5 278.5h0M414.3 271.0h0M416.9 278.9h0M401.8 279.5h0M409.6 273.0h0M402.8 280.1h0M409.9 273.2h0M409.9 275.8h0M403.1 280.1h0M402.0 279.3h0M402.2 280.0h0M403.1 279.0h0M414.4 278.6h0M401.2 279.6h0M412.0 268.4h0M407.3 276.6h0M403.5 278.8h0M405.2 280.2h0M404.6 279.0h0M417.2 278.2h0M411.4 277.6h0M412.4 278.7h0M410.5 276.5h0M404.2 278.9h0M403.9 278.0h0M417.7 272.3h0M406.6 278.1h0M403.1 279.5h0M402.1 279.7h0M411.2 273.5h0M408.8 277.5h0M410.6 270.1h0M406.8 279.6h0M402.3 280.1h0M400.5 280.0h0M401.8 279.7h0M408.1 280.1h0M402.1 280.0h0M412.9 271.3h0M417.7 274.0h0M409.5 278.2h0M406.3 277.7h0M403.2 279.3h0M400.6 280.5h0M413.8 273.9h0M409.2 271.7h0M405.6 276.7h0M410.0 276.7h0M414.4 279.7h0M412.6 279.9h0M401.2 280.3h0M407.9 280.5h0M414.3 278.6h0M404.5 280.1h0M417.9 279.7h0M411.2 265.5h0M417.4 275.9h0M412.7 280.0h0M416.0 280.3h0M401.0 280.5h0M401.5 280.3h0M408.1 272.7h0M404.1 279.2h0M416.5 275.7h0M415.1 269.4h0M411.3 274.5h0M412.0 269.2h0M417.3 280.0h0M412.6 268.6h0M412.8 276.3h0M402.8 280.4h0M406.1 277.4h0M411.4 277.6h0M401.5 280.2h0M407.0 276.0h0M400.7 280.2h0M400.5 280.4h0M406.1 279.6h0M415.0 277.1h0M416.8 270.6h0M404.8 278.8h0M407.9 273.9h0M414.4 277.1h0M407.1 276.7h0M416.8 278.9h0M410.8 271.5h0M412.1 277.4h0M410.4 280.3h0M417.3 278.9h0M407.7 279.7h0M406.2 280.4h0M409.0 271.7h0M407.6 276.0h0M418.0 274.8h0M406.8 280.4h0M415.2 279.9h0M410.8 269.9h0M408.2 277.0h0M412.5 277.7h0M406.4 277.1h0M410.3 270.8h0M415.2 278.4h0M407.2 280.3h0M402.2 280.0h0M403.3 278.4h0M409.2 279.8h0M404.0 280.5h0M410.2 275.6h0M408.0 275.2h0M411.8 274.2h0M417.1 279.3h0M416.9 276.1h0M403.2 279.9h0M413.2 278.8h0M402.4 279.9h0M402.3 279.7h0M416.5 277.5h0M402.0 280.2h0M404.1 277.9h0M413.2 278.3h0M405.5 278.9h0M414.0 274.5h0M408.2 277.5h0M403.4 279.9h0M406.7 280.3h0M410.8 265.3h0M404.1 280.4h0M413.9 273.0h0M400.9 279.9h0M415.9 270.3h0M402.7 277.4h0M402.2 280.2h0M409.0 274.5h0M414.0 273.3h0M413.6 270.8h0M403.9 278.2h0M401.7 279.8h0M409.9 279.5h0M405.8 278.6h0M403.6 279.4h0M402.6 275.0h0M416.2 276.3h0M412.0 260.9h0M400.4 280.3h0M401.1 280.4h0M403.5 278.5h0M410.4 280.0h0M416.8 275.7h0M405.3 278.8h0M402.0 280.5h0M415.6 279.4h0M411.3 270.1h0M405.4 276.7h0M410.8 273.4h0M415.4 277.3h0M411.2 279.2h0M407.0 276.3h0M410.7 276.1h0M405.8 279.1h0M414.4 277.5h0M417.4 279.3h0M401.9 279.8h0M409.3 272.6h0M404.9 277.7h0M411.1 279.7h0M400.6 280.3h0M412.1 277.4h0M401.2 279.8h0M411.4 271.2h0M402.9 279.9h0M410.1 279.8h0M417.9 273.6h0M416.6 272.0h0M412.1 274.7h0M408.6 276.8h0M402.5 279.7h0M415.5 272.2h0M408.0 279.4h0M404.1 280.1h0M406.0 276.9h0M413.1 271.4h0M400.7 279.9h0M413.1 273.8h0M405.2 277.9h0M412.2 273.2h0M409.0 279.2h0M401.2 280.4h0M415.7 276.8h0M413.8 268.8h0M405.5 279.8h0M407.4 274.6h0M415.0 278.4h0M409.3 267.2h0M401.7 279.6h0M409.6 272.4h0M407.5 278.3h0M403.0 279.7h0M414.9 271.9h0M401.7 280.0h0M411.7 279.6h0M414.6 274.5h0M406.3 278.3h0M401.7 279.8h0M414.1 278.0h0M417.4 272.6h0M415.9 273.7h0M407.0 279.0h0M416.8 271.2h0M407.5 280.2h0M407.9 279.3h0M413.9 273.0h0M406.3 279.3h0M408.3 276.8h0M412.4 279.2h0M408.1 277.1h0M407.2 276.5h0M414.6 278.9h0M414.7 269.2h0M429.9 268.6h0M428.2 270.9h0M428.9 269.6h0M431.4 278.6h0M428.0 279.2h0M431.8 273.6h0M429.1 270.8h0M433.0 278.4h0M436.9 278.4h0M433.7 279.7h0M430.0 272.3h0M436.0 276.3h0M427.3 278.9h0M428.1 275.6h0M429.0 279.5h0M427.4 280.2h0M433.2 279.9h0M428.9 270.5h0M427.2 278.6h0M427.6 271.5h0M431.2 270.8h0M432.0 279.2h0M429.5 272.4h0M427.6 275.9h0M430.1 280.1h0M430.5 271.8h0M429.0 278.7h0M429.7 279.0h0M437.9 278.4h0M427.8 280.1h0M431.3 268.8h0M427.2 272.4h0M432.5 280.4h0M431.5 275.6h0M438.0 278.2h0M430.9 280.0h0M427.7 274.0h0M430.6 277.1h0M429.4 268.0h0M431.0 278.9h0M436.9 280.3h0M429.3 279.7h0M427.6 268.1h0M428.2 274.6h0M431.6 274.3h0M427.2 275.4h0M437.8 280.0h0M430.8 271.4h0M442.5 280.5h0M434.0 275.4h0M428.8 275.3h0M435.5 278.3h0M432.1 279.1h0M431.3 276.4h0M430.0 274.8h0M432.4 278.9h0M435.6 269.9h0M428.6 269.9h0M430.1 280.1h0M432.8 271.1h0M427.5 270.9h0M429.0 276.1h0M427.8 279.8h0M429.5 278.9h0M429.8 272.2h0M429.0 269.9h0M430.5 274.6h0M429.9 275.7h0M443.1 280.3h0M436.7 276.0h0M429.5 260.1h0M433.4 274.0h0M439.8 279.7h0M427.7 267.6h0M427.1 272.8h0M432.0 274.3h0M428.4 274.5h0M433.7 273.2h0M439.9 279.5h0M429.4 278.8h0M430.4 277.9h0M428.1 275.0h0M431.1 275.3h0M431.0 277.7h0M428.5 273.2h0M435.1 276.8h0M437.9 278.1h0M429.2 269.0h0M440.3 279.2h0M442.4 280.0h0M428.1 266.5h0M430.3 279.8h0M434.6 277.0h0M429.8 270.5h0M432.8 278.9h0M430.9 275.8h0M429.4 270.8h0M439.0 280.5h0M427.8 272.2h0M427.8 268.9h0M429.5 280.0h0M435.1 278.3h0M434.8 273.8h0M430.8 275.3h0M437.9 279.7h0M432.2 277.9h0M427.2 275.9h0M427.4 279.3h0M427.7 274.5h0M427.6 272.8h0M429.3 279.4h0M428.6 274.8h0M431.6 273.8h0M428.2 273.2h0M432.2 270.4h0M438.2 278.1h0M436.1 276.4h0M440.0 279.6h0M435.4 279.9h0M437.9 276.1h0M439.2 271.9h0M443.9 280.5h0M431.6 272.7h0M434.7 277.7h0M435.6 275.3h0M434.4 273.6h0M427.5 276.9h0M428.1 269.0h0M428.5 277.0h0M429.8 268.1h0M432.1 272.7h0M427.5 267.8h0M431.9 275.6h0M429.0 272.3h0M435.8 279.0h0M436.1 279.3h0M436.4 272.9h0M429.9 279.5h0M433.1 274.9h0M427.6 279.3h0M431.3 278.9h0M435.8 278.6h0M428.1 270.8h0M433.8 273.7h0M436.2 278.4h0M438.8 280.4h0M433.6 276.8h0M434.0 280.2h0M427.8 273.6h0M441.9 279.8h0M429.9 269.7h0M432.1 274.6h0M428.3 275.4h0M434.9 280.1h0M427.7 262.9h0M427.4 272.7h0M428.4 273.2h0M435.4 274.4h0M437.1 279.5h0M435.8 278.7h0M429.9 275.1h0M435.1 278.1h0M438.1 278.9h0M431.2 280.2h0M427.2 267.0h0M427.5 271.1h0M427.4 277.7h0M434.9 278.8h0M432.5 270.5h0M434.4 274.8h0M433.1 278.6h0M431.1 268.8h0M444.9 280.5h0M427.9 275.3h0M429.0 257.9h0M434.0 276.0h0M435.8 274.9h0M432.0 278.1h0M430.7 274.5h0M433.4 277.7h0M439.7 280.1h0M429.3 267.2h0M438.2 277.7h0M433.9 280.3h0M432.3 270.7h0M448.6 278.8h0M430.9 280.1h0M428.1 268.6h0M427.8 275.8h0M435.7 276.7h0M441.0 279.6h0M429.2 267.9h0M431.2 268.1h0M438.6 268.8h0M441.5 279.7h0M429.4 270.3h0M442.2 280.3h0M427.4 275.0h0M433.0 269.8h0M432.0 268.9h0M433.6 279.1h0M432.9 273.4h0M434.3 279.1h0M432.0 278.8h0M433.3 279.3h0M430.2 275.8h0M427.9 270.4h0M431.8 279.7h0M430.0 267.9h0M437.4 268.5h0M429.8 279.2h0M427.2 275.7h0M427.5 270.6h0M429.4 278.2h0M433.1 277.7h0M436.1 276.8h0M427.6 268.6h0M428.3 278.5h0M434.4 272.1h0M429.6 275.2h0M435.0 264.9h0M427.3 269.6h0M428.7 276.3h0M434.2 280.0h0M434.3 275.2h0M435.5 276.3h0M438.5 277.7h0M428.4 270.1h0M432.9 270.3h0M436.3 269.0h0M435.2 279.7h0M430.1 277.9h0M441.7 279.8h0M428.5 270.4h0M429.3 267.4h0M435.6 279.4h0M439.0 278.8h0M429.7 272.8h0M434.1 275.6h0M439.5 280.1h0M434.6 279.1h0M443.2 270.4h0M428.7 279.4h0M427.0 270.8h0M427.6 269.6h0M434.1 275.4h0M432.6 269.6h0M434.0 275.6h0M428.7 267.5h0M428.9 267.7h0M438.8 278.1h0M443.5 280.5h0M427.9 257.9h0M439.9 280.0h0M427.5 275.7h0M429.8 276.7h0M427.6 280.0h0M441.4 280.4h0M432.1 274.9h0M434.7 279.5h0M428.9 274.3h0M427.4 270.0h0M429.7 272.8h0M437.1 278.3h0M435.9 276.8h0M429.4 273.6h0M427.9 268.4h0M439.5 280.2h0M428.2 269.4h0M427.6 266.6h0M430.4 276.2h0M433.7 279.4h0M437.2 278.6h0M427.2 268.0h0M428.9 277.8h0M439.8 276.7h0M430.8 278.5h0M432.1 276.2h0M440.8 279.8h0M439.3 279.7h0M427.2 272.4h0M428.0 278.2h0M429.3 272.3h0M429.0 279.5h0M433.5 279.8h0M428.8 271.4h0M428.6 274.7h0M438.5 278.3h0M427.3 276.0h0M429.8 268.9h0M429.9 276.3h0M431.5 276.8h0M438.4 280.5h0M429.7 277.9h0M430.7 271.5h0M427.8 273.2h0M427.3 258.3h0M430.1 271.9h0M430.0 267.1h0M431.9 279.1h0M434.2 274.6h0M427.7 268.3h0M430.8 264.8h0M434.0 271.7h0M431.1 275.0h0M430.2 273.7h0M430.8 272.1h0M431.3 274.3h0M429.8 271.9h0M433.1 274.1h0M433.8 277.2h0M431.1 269.6h0M429.9 266.4h0M429.6 267.9h0M436.3 278.9h0M445.9 280.4h0M430.0 271.2h0M437.3 277.9h0M429.3 273.4h0M429.3 278.1h0M443.2 280.2h0M429.7 267.5h0M427.3 270.6h0M427.8 280.5h0M429.3 276.8h0M427.8 271.8h0M432.0 268.5h0M427.8 268.5h0M428.0 268.8h0M436.8 276.1h0M428.3 272.5h0M436.7 279.6h0M433.2 279.1h0M430.3 278.0h0M438.1 270.1h0M429.3 274.6h0M427.8 271.9h0M431.3 276.6h0M430.6 267.0h0M438.2 280.1h0M428.5 277.0h0M428.7 277.2h0M433.9 275.6h0M428.9 278.6h0M429.7 269.4h0M430.6 279.7h0M429.8 274.4h0M434.6 270.2h0M429.5 269.3h0M436.3 279.7h0M434.5 276.6h0M429.9 275.9h0M437.0 277.1h0M427.6 272.4h0M429.3 267.7h0M427.8 280.2h0M430.3 267.7h0M431.0 271.5h0M435.7 271.2h0M433.3 272.0h0M429.9 279.1h0M434.7 278.2h0M431.4 271.7h0M428.0 276.9h0M427.5 270.6h0M427.6 278.8h0M428.4 278.8h0M428.3 267.3h0M429.9 265.8h0M429.7 276.3h0M434.2 277.8h0M433.7 274.4h0M428.0 277.9h0M430.3 266.9h0M431.6 278.1h0M427.9 266.7h0M429.6 268.5h0M432.9 275.7h0M428.2 270.5h0M443.8 280.5h0M429.2 270.0h0M432.4 279.0h0M432.9 278.4h0M431.3 270.9h0M429.6 276.5h0M434.6 276.6h0M427.4 269.9h0M433.7 271.1h0M430.1 276.6h0M428.2 279.7h0M427.5 272.7h0M430.9 279.5h0M445.9 275.9h0M429.2 268.1h0M439.5 280.2h0M428.8 268.9h0M444.0 280.3h0M434.9 280.0h0M434.5 279.8h0M430.9 269.1h0M428.5 276.0h0M428.3 278.9h0M430.6 277.9h0M437.5 278.1h0M428.2 280.5h0M427.4 273.6h0M427.9 267.0h0M435.1 280.4h0M439.3 279.2h0M430.3 272.5h0M428.8 272.3h0M439.6 233.2h0M455.4 240.8h0M456.5 245.8h0M438.2 246.8h0M432.9 250.1h0M436.0 250.1h0M439.6 251.1h0M437.4 253.9h0M431.5 255.3h0M435.7 260.2h0M437.4 263.7h0M442.0 267.3h0M447.0 269.8h0M454.3 270.1h0M442.7 275.0h0M410.4 256.0h0M399.8 256.3h0M408.0 259.0h0M412.0 261.0h0M406.0 262.5h0M403.0 264.0h0M390.1 210.6h0M453.5 212.9h0M434.8 221.8h0M439.7 233.3h0M455.4 241.1h0M456.6 245.8h0M399.8 256.8h0M454.2 269.8h0M446.0 270.0h0M448.4 268.6h0M438.3 246.5h0M432.6 249.8h0M436.2 250.0h0M439.7 251.2h0M431.5 255.9h0M390.1 278.7h0M444.0 262.0h0M441.0 266.0h0M437.0 259.0h0" stroke="#FF2A1F" stroke-width="1.7" stroke-linecap="round" fill="none"/>
<line x1="418.4" y1="171.8" x2="418.4" y2="287.6" stroke="#555" stroke-width="0.7" stroke-dasharray="2.6,1.6"/>
<line x1="426.7" y1="171.8" x2="426.7" y2="287.6" stroke="#555" stroke-width="0.7" stroke-dasharray="2.6,1.6"/>
<line x1="373.7" y1="280.6" x2="473.5" y2="280.6" stroke="#555" stroke-width="0.7" stroke-dasharray="2.6,1.6"/>
<line x1="373.7" y1="171.6" x2="373.7" y2="287.6" stroke="#333" stroke-width="0.9"/>
<line x1="373.3" y1="287.6" x2="473.2" y2="287.6" stroke="#333" stroke-width="0.9"/>
<line x1="370.3" y1="282.2" x2="373.7" y2="282.2" stroke="#333" stroke-width="0.6"/>
<text x="368.1" y="284" text-anchor="end" fill="#555" color="#555" style="font-size:5px;stroke:none;">0</text>
<line x1="370.3" y1="255.86" x2="373.7" y2="255.86" stroke="#333" stroke-width="0.6"/>
<text x="368.1" y="257.66" text-anchor="end" fill="#555" color="#555" style="font-size:5px;stroke:none;">20</text>
<line x1="370.3" y1="229.52" x2="373.7" y2="229.52" stroke="#333" stroke-width="0.6"/>
<text x="368.1" y="231.32" text-anchor="end" fill="#555" color="#555" style="font-size:5px;stroke:none;">40</text>
<line x1="370.3" y1="203.18" x2="373.7" y2="203.18" stroke="#333" stroke-width="0.6"/>
<text x="368.1" y="204.98" text-anchor="end" fill="#555" color="#555" style="font-size:5px;stroke:none;">60</text>
<line x1="370.3" y1="176.84" x2="373.7" y2="176.84" stroke="#333" stroke-width="0.6"/>
<text x="368.1" y="178.64" text-anchor="end" fill="#555" color="#555" style="font-size:5px;stroke:none;">80</text>
<line x1="397.84" y1="287.6" x2="397.84" y2="289.8" stroke="#333" stroke-width="0.6"/>
<text x="397.84" y="297.5" text-anchor="middle" fill="#444" color="#444" style="font-size:5px;">-3</text>
<line x1="422.5" y1="287.6" x2="422.5" y2="289.8" stroke="#333" stroke-width="0.6"/>
<text x="422.5" y="297.5" text-anchor="middle" fill="#444" color="#444" style="font-size:5px;">0</text>
<line x1="447.16" y1="287.6" x2="447.16" y2="289.8" stroke="#333" stroke-width="0.6"/>
<text x="447.16" y="297.5" text-anchor="middle" fill="#444" color="#444" style="font-size:5px;">3</text>
<line x1="471.82" y1="287.6" x2="471.82" y2="289.8" stroke="#333" stroke-width="0.6"/>
<text x="471.82" y="297.5" text-anchor="middle" fill="#444" color="#444" style="font-size:5px;">6</text>
<text x="358.17" y="228.7" text-anchor="middle" transform="rotate(-90 358.17 228.7)" style="font-size:6.3px;font-weight:bold">-Log<tspan style="font-size:4.3px" dy="1.3">10</tspan><tspan dy="-1.3">(</tspan><tspan style="font-style:italic">FDR</tspan>)</text>
<text x="424.4" y="306.27" text-anchor="middle" style="font-size:6.3px;font-weight:bold">Log<tspan style="font-size:4.4px" dy="1.4">2</tspan><tspan dy="-1.4">FC</tspan></text>
<text x="395.6" y="176.58" text-anchor="middle" fill="#2323F0" color="#2323F0" style="font-size:5.5px;font-weight:bold;">High in Control</text>
<path d="M381,178.7 Q378.8,178.7 378.8,180.9 L378.8,187.7 Q378.8,189.9 381,189.9" fill="none" stroke="#2323F0" stroke-width="0.55"/>
<path d="M410.3,178.7 Q412.5,178.7 412.5,180.9 L412.5,187.7 Q412.5,189.9 410.3,189.9" fill="none" stroke="#2323F0" stroke-width="0.55"/>
<text x="395.65" y="183.53" text-anchor="middle" fill="#2323F0" color="#2323F0" style="font-size:4.8px;"><tspan style="font-style:italic">FDR</tspan> &lt; 0.05</text>
<text x="395.65" y="188.73" text-anchor="middle" fill="#2323F0" color="#2323F0" style="font-size:4.8px;">Log<tspan style="font-size:3px" dy="0.8">2</tspan><tspan dy="-0.8">FC &lt; -0.5</tspan></text>
<text x="395.6" y="196.03" text-anchor="middle" fill="#2323F0" color="#2323F0" style="font-size:4.8px;">(454 genes)</text>
<text x="450.5" y="176.58" text-anchor="middle" fill="#F02828" color="#F02828" style="font-size:5.5px;font-weight:bold;">High in SMA</text>
<path d="M436.5,178.7 Q434.3,178.7 434.3,180.9 L434.3,187.7 Q434.3,189.9 436.5,189.9" fill="none" stroke="#F02828" stroke-width="0.55"/>
<path d="M464.8,178.7 Q467,178.7 467,180.9 L467,187.7 Q467,189.9 464.8,189.9" fill="none" stroke="#F02828" stroke-width="0.55"/>
<text x="450.65" y="183.53" text-anchor="middle" fill="#F02828" color="#F02828" style="font-size:4.8px;"><tspan style="font-style:italic">FDR</tspan> &lt; 0.05</text>
<text x="450.65" y="188.73" text-anchor="middle" fill="#F02828" color="#F02828" style="font-size:4.8px;">Log<tspan style="font-size:3px" dy="0.8">2</tspan><tspan dy="-0.8">FC &gt; 0.5</tspan></text>
<text x="450.5" y="196.03" text-anchor="middle" fill="#F02828" color="#F02828" style="font-size:4.8px;">(288 genes)</text>
<rect x="581.7" y="198.6" width="75.1" height="66.7" fill="#fff"/>
<line x1="595.1" y1="198.6" x2="595.1" y2="265.3" stroke="#f4f4f4" stroke-width="0.6"/>
<line x1="616.5" y1="198.6" x2="616.5" y2="265.3" stroke="#f4f4f4" stroke-width="0.6"/>
<line x1="637.9" y1="198.6" x2="637.9" y2="265.3" stroke="#f4f4f4" stroke-width="0.6"/>
<line x1="584.4" y1="198.6" x2="584.4" y2="265.3" stroke="#ebebeb" stroke-width="0.8"/>
<line x1="605.8" y1="198.6" x2="605.8" y2="265.3" stroke="#ebebeb" stroke-width="0.8"/>
<line x1="627.2" y1="198.6" x2="627.2" y2="265.3" stroke="#ebebeb" stroke-width="0.8"/>
<line x1="648.6" y1="198.6" x2="648.6" y2="265.3" stroke="#ebebeb" stroke-width="0.8"/>
<line x1="581.7" y1="208.5" x2="656.8" y2="208.5" stroke="#ebebeb" stroke-width="0.8"/>
<line x1="581.7" y1="224.4" x2="656.8" y2="224.4" stroke="#ebebeb" stroke-width="0.8"/>
<line x1="581.7" y1="240.3" x2="656.8" y2="240.3" stroke="#ebebeb" stroke-width="0.8"/>
<line x1="581.7" y1="256.2" x2="656.8" y2="256.2" stroke="#ebebeb" stroke-width="0.8"/>
<rect x="584.4" y="201.6" width="68.48" height="13.8" fill="#3A9A20"/>
<rect x="584.4" y="217.5" width="64.09" height="13.8" fill="#3A9A20"/>
<rect x="584.4" y="233.4" width="59.49" height="13.8" fill="#3A9A20"/>
<rect x="584.4" y="249.3" width="15.41" height="13.8" fill="#4CFF12"/>
<rect x="581.7" y="198.6" width="75.1" height="66.7" fill="none" stroke="#cccccc" stroke-width="0.8"/>
<line x1="580.1" y1="208.5" x2="581.7" y2="208.5" stroke="#444" stroke-width="0.6"/>
<text x="579.2" y="210.34" text-anchor="end" fill="#1a1a1a" color="#1a1a1a" style="font-size:5.1px;">Gliogenesis</text>
<line x1="580.1" y1="224.4" x2="581.7" y2="224.4" stroke="#444" stroke-width="0.6"/>
<text x="579.2" y="226.24" text-anchor="end" fill="#1a1a1a" color="#1a1a1a" style="font-size:5.1px;">Neuron apoptotic process</text>
<line x1="580.1" y1="240.3" x2="581.7" y2="240.3" stroke="#444" stroke-width="0.6"/>
<text x="579.2" y="242.14" text-anchor="end" fill="#1a1a1a" color="#1a1a1a" style="font-size:5.1px;">Regulation of neuron apoptotic process</text>
<line x1="580.1" y1="256.2" x2="581.7" y2="256.2" stroke="#444" stroke-width="0.6"/>
<text x="579.2" y="258.04" text-anchor="end" fill="#1a1a1a" color="#1a1a1a" style="font-size:5.1px;">Amino acid import across plasma membrane</text>
<line x1="584.4" y1="265.3" x2="584.4" y2="266.9" stroke="#444" stroke-width="0.6"/>
<text x="584.4" y="271.88" text-anchor="middle" fill="#444" color="#444" style="font-size:4.4px;">0</text>
<line x1="605.8" y1="265.3" x2="605.8" y2="266.9" stroke="#444" stroke-width="0.6"/>
<text x="605.8" y="271.88" text-anchor="middle" fill="#444" color="#444" style="font-size:4.4px;">10</text>
<line x1="627.2" y1="265.3" x2="627.2" y2="266.9" stroke="#444" stroke-width="0.6"/>
<text x="627.2" y="271.88" text-anchor="middle" fill="#444" color="#444" style="font-size:4.4px;">20</text>
<line x1="648.6" y1="265.3" x2="648.6" y2="266.9" stroke="#444" stroke-width="0.6"/>
<text x="648.6" y="271.88" text-anchor="middle" fill="#444" color="#444" style="font-size:4.4px;">30</text>
<text x="618.5" y="277.71" text-anchor="middle" fill="#000" color="#000" style="font-size:5.3px;font-weight:bold;">Count</text>
<defs><linearGradient id="gF" x1="0" y1="0" x2="0" y2="1"><stop offset="0" stop-color="#4CFF12"/><stop offset="1" stop-color="#348C20"/></linearGradient></defs>
<rect x="664.2" y="214.6" width="9" height="43.3" fill="url(#gF)"/>
<line x1="664.2" y1="221.3" x2="665.7" y2="221.3" stroke="#fff" stroke-width="0.5"/>
<line x1="671.7" y1="221.3" x2="673.2" y2="221.3" stroke="#fff" stroke-width="0.5"/>
<text x="675.8" y="222.88" text-anchor="start" fill="#333" color="#333" style="font-size:4.4px;">0.04</text>
<line x1="664.2" y1="230.5" x2="665.7" y2="230.5" stroke="#fff" stroke-width="0.5"/>
<line x1="671.7" y1="230.5" x2="673.2" y2="230.5" stroke="#fff" stroke-width="0.5"/>
<text x="675.8" y="232.08" text-anchor="start" fill="#333" color="#333" style="font-size:4.4px;">0.03</text>
<line x1="664.2" y1="239.7" x2="665.7" y2="239.7" stroke="#fff" stroke-width="0.5"/>
<line x1="671.7" y1="239.7" x2="673.2" y2="239.7" stroke="#fff" stroke-width="0.5"/>
<text x="675.8" y="241.28" text-anchor="start" fill="#333" color="#333" style="font-size:4.4px;">0.02</text>
<line x1="664.2" y1="249.2" x2="665.7" y2="249.2" stroke="#fff" stroke-width="0.5"/>
<line x1="671.7" y1="249.2" x2="673.2" y2="249.2" stroke="#fff" stroke-width="0.5"/>
<text x="675.8" y="250.78" text-anchor="start" fill="#333" color="#333" style="font-size:4.4px;">0.01</text>
<text x="664.1" y="212.96" text-anchor="start" fill="#1a1a1a" color="#1a1a1a" style="font-size:6px;">p.adjust</text>
<text x="0.3" y="326.7" text-anchor="start" fill="#000" color="#000" style="font-size:11.6px;font-weight:bold;">G</text>
<text x="119.2" y="332.6" text-anchor="middle" fill="#000" color="#000" style="font-size:7.5px;font-weight:bold;">E-MTAB-3664</text>
<text x="10.76" y="378.5" text-anchor="middle" fill="#000" color="#000" style="font-size:6.55px;font-weight:bold;" transform="rotate(-90 10.76 378.5)">Running enrichment score</text>
<line x1="36.6" y1="340" x2="36.6" y2="397.6" stroke="#ebebeb" stroke-width="0.8"/>
<line x1="53.4" y1="340" x2="53.4" y2="397.6" stroke="#ebebeb" stroke-width="0.8"/>
<line x1="69.8" y1="340" x2="69.8" y2="397.6" stroke="#ebebeb" stroke-width="0.8"/>
<line x1="86.5" y1="340" x2="86.5" y2="397.6" stroke="#ebebeb" stroke-width="0.8"/>
<line x1="102.9" y1="340" x2="102.9" y2="397.6" stroke="#ebebeb" stroke-width="0.8"/>
<polyline points="20.5,387.4 20.7,366 21.2,358 22,354 23,346 24,343.6 26.2,343.2 27.47,343.24 28.73,343.63 30,344.2 31.48,344.44 32.95,344.91 34.42,344.88 35.9,345.4 37.38,345.92 38.85,346.74 40.32,347.8 41.8,348.4 43,348.79 44.2,349.74 45.4,350.3 46.6,350.58 47.8,351.4 49.03,352.29 50.27,353.1 51.5,353.95 52.73,355.16 53.97,355.49 55.2,356.6 56.45,357.18 57.7,358.6 58.95,359.14 60.2,359.89 61.45,360.83 62.7,361.8 63.93,362.72 65.17,364.07 66.4,364.63 67.63,365.63 68.87,366.85 70.1,367.8 71.35,368.95 72.6,370.31 73.85,371.35 75.1,372.18 76.35,373.21 77.6,374.5 78.83,375.69 80.07,376.76 81.3,377.17 82.53,378.57 83.77,379.64 85,380.4 86.23,381.31 87.47,381.86 88.7,383.03 89.93,383.8 91.17,384.3 92.4,385.3 93.65,385.98 94.9,386.33 96.15,386.82 97.4,387.6 98.65,388.2 99.9,388.9 101.13,389.54 102.37,390.39 103.6,391.2 104.83,391.98 106.07,392.69 107.3,393.1 108.5,393.54 109.7,393.55 110.9,393.4 112.1,393.47 113.3,393.8 115.5,393.8 117,390.1 117.8,387.1" fill="none" stroke="#47E619" stroke-width="1.15" stroke-linejoin="round"/>
<line x1="20.3" y1="340.1" x2="20.3" y2="417.2" stroke="#555555" stroke-width="0.9"/>
<line x1="18.8" y1="387.4" x2="20.3" y2="387.4" stroke="#555555" stroke-width="0.6"/>
<text x="18.1" y="388.84" text-anchor="end" fill="#8a8a8a" color="#8a8a8a" style="font-size:4px;stroke:none;">0.0</text>
<line x1="18.8" y1="370.2" x2="20.3" y2="370.2" stroke="#555555" stroke-width="0.6"/>
<text x="18.1" y="371.64" text-anchor="end" fill="#8a8a8a" color="#8a8a8a" style="font-size:4px;stroke:none;">0.2</text>
<line x1="18.8" y1="353" x2="20.3" y2="353" stroke="#555555" stroke-width="0.6"/>
<text x="18.1" y="354.44" text-anchor="end" fill="#8a8a8a" color="#8a8a8a" style="font-size:4px;stroke:none;">0.4</text>
<line x1="22.5" y1="393.7" x2="32.7" y2="393.7" stroke="#66EE44" stroke-width="1.3"/>
<text x="34.9" y="395.68" text-anchor="start" fill="#222" color="#222" style="font-size:5.5px;">Gene set #1</text>
<text x="99.1" y="348.46" text-anchor="middle" fill="#111" color="#111" style="font-size:7.4px;">Apoptosis</text>
<rect x="20.6" y="398.2" width="4" height="13.4" fill="#111"/>
<rect x="25.4" y="398.2" width="1.2" height="13.4" fill="#333"/>
<rect x="27.5" y="398.2" width="0.7" height="13.4" fill="#555"/>
<rect x="29.5" y="398.2" width="1.6" height="13.4" fill="#222"/>
<rect x="32.3" y="398.2" width="1.2" height="13.4" fill="#444"/>
<rect x="34.3" y="398.2" width="1.3" height="13.4" fill="#333"/>
<rect x="37.2" y="398.2" width="1.4" height="13.4" fill="#222"/>
<rect x="38.6" y="398.2" width="1.6" height="13.4" fill="#777"/>
<rect x="40.2" y="398.2" width="2.1" height="13.4" fill="#333"/>
<rect x="43.9" y="398.2" width="0.9" height="13.4" fill="#666"/>
<rect x="45.3" y="398.2" width="1" height="13.4" fill="#888"/>
<rect x="47.1" y="398.2" width="1.6" height="13.4" fill="#333"/>
<rect x="50" y="398.2" width="1.2" height="13.4" fill="#888"/>
<rect x="51.6" y="398.2" width="1.1" height="13.4" fill="#666"/>
<rect x="54" y="398.2" width="2" height="13.4" fill="#111"/>
<rect x="57.1" y="398.2" width="1.3" height="13.4" fill="#444"/>
<rect x="60" y="398.2" width="1.6" height="13.4" fill="#333"/>
<rect x="62.9" y="398.2" width="1.1" height="13.4" fill="#555"/>
<rect x="65.6" y="398.2" width="1.6" height="13.4" fill="#333"/>
<rect x="68" y="398.2" width="1.6" height="13.4" fill="#444"/>
<rect x="71.2" y="398.2" width="1.3" height="13.4" fill="#444"/>
<rect x="76" y="398.2" width="0.8" height="13.4" fill="#555"/>
<rect x="80" y="398.2" width="1.6" height="13.4" fill="#555"/>
<rect x="82.1" y="398.2" width="2" height="13.4" fill="#111"/>
<rect x="85.7" y="398.2" width="1.3" height="13.4" fill="#444"/>
<rect x="88.5" y="398.2" width="2" height="13.4" fill="#555"/>
<rect x="91.8" y="398.2" width="1.9" height="13.4" fill="#444"/>
<rect x="95.3" y="398.2" width="1.3" height="13.4" fill="#333"/>
<rect x="97.1" y="398.2" width="1.4" height="13.4" fill="#666"/>
<rect x="99.8" y="398.2" width="1.1" height="13.4" fill="#333"/>
<rect x="102.5" y="398.2" width="1.5" height="13.4" fill="#777"/>
<rect x="104" y="398.2" width="1.5" height="13.4" fill="#999"/>
<rect x="105.8" y="398.2" width="1.5" height="13.4" fill="#666"/>
<rect x="108.1" y="398.2" width="1.5" height="13.4" fill="#888"/>
<rect x="110" y="398.2" width="1.4" height="13.4" fill="#555"/>
<rect x="112.2" y="398.2" width="2" height="13.4" fill="#333"/>
<rect x="115.4" y="398.2" width="1" height="13.4" fill="#222"/>
<rect x="116.8" y="398.2" width="1" height="13.4" fill="#111"/>
<rect x="20.3" y="411.6" width="5.75" height="5.5" fill="#D73027"/>
<rect x="26" y="411.6" width="5.95" height="5.5" fill="#DC4535"/>
<rect x="31.9" y="411.6" width="15.25" height="5.5" fill="#E5634B"/>
<rect x="47.1" y="411.6" width="14.55" height="5.5" fill="#E8A58E"/>
<rect x="61.6" y="411.6" width="15.25" height="5.5" fill="#F6DDD0"/>
<rect x="76.8" y="411.6" width="11.35" height="5.5" fill="#E4ECF5"/>
<rect x="88.1" y="411.6" width="10.45" height="5.5" fill="#B3D2E7"/>
<rect x="98.5" y="411.6" width="12.95" height="5.5" fill="#76B0D8"/>
<rect x="111.4" y="411.6" width="6.45" height="5.5" fill="#4B8BC5"/>
<line x1="20.3" y1="397.6" x2="20.3" y2="417.2" stroke="#555555" stroke-width="0.9"/>
<text x="22.4" y="425.47" text-anchor="start" fill="#111" color="#111" style="font-size:6.3px;">SMA</text>
<text x="116.2" y="425.47" text-anchor="end" fill="#111" color="#111" style="font-size:6.3px;">Control</text>
<line x1="142.5" y1="340.8" x2="142.5" y2="398.3" stroke="#ebebeb" stroke-width="0.8"/>
<line x1="158.5" y1="340.8" x2="158.5" y2="398.3" stroke="#ebebeb" stroke-width="0.8"/>
<line x1="175.3" y1="340.8" x2="175.3" y2="398.3" stroke="#ebebeb" stroke-width="0.8"/>
<line x1="190.7" y1="340.8" x2="190.7" y2="398.3" stroke="#ebebeb" stroke-width="0.8"/>
<line x1="206" y1="340.8" x2="206" y2="398.3" stroke="#ebebeb" stroke-width="0.8"/>
<polyline points="129.9,389.8 130.4,368 131.5,357 133,351 135,347 136.3,345.3 137.6,343.6 139.1,344.55 140.6,345.83 142.1,347.2 143.5,347.55 144.9,348.37 146.3,348.6 147.53,348.8 148.77,349.13 150,349.2 151.2,349.26 152.4,349.81 153.6,350.31 154.8,350.4 156.1,351.36 157.4,352.57 158.7,353.48 160,354.2 161.25,355.1 162.5,355.85 163.75,357.28 165,357.88 166.25,358.78 167.5,360.19 168.75,361.23 170,362 171.25,363.15 172.5,364.17 173.75,364.67 175,365.55 176.25,366.52 177.5,367.99 178.75,368.42 180,369.6 181.25,370.42 182.5,371.36 183.75,372.4 185,373.42 186.25,374.64 187.5,375.55 188.75,376.66 190,377.8 191.25,379.07 192.5,379.63 193.75,381.03 195,381.99 196.25,382.9 197.5,383.92 198.75,385.05 200,385.9 201.5,386.55 203,387.2 204.3,387.35 205.6,387.24 206.9,387.5 208.3,387.78 209.7,388.11 211.1,388.58 212.5,389.31 213.9,389.4 216,390 217.75,389.7 219.5,389.4" fill="none" stroke="#F8766D" stroke-width="1.1" stroke-linejoin="round"/>
<polyline points="129.9,389.8 130.5,366 131.8,358 133.5,353 135.5,350.5 137.6,348.6 138.84,348.98 140.09,349.2 141.33,349.87 142.57,350.5 143.81,350.71 145.06,351.29 146.3,351.6 147.51,351.84 148.73,352.31 149.94,353.15 151.16,353.27 152.37,353.91 153.59,354.45 154.8,355 156.1,355.99 157.4,357.07 158.7,358.23 160,359.7 161.25,360.98 162.5,361.84 163.75,363.01 165,363.75 166.25,365.04 167.5,365.99 168.75,366.86 170,367.8 171.25,368.83 172.5,369.83 173.75,370.67 175,371.78 176.25,373 177.5,373.69 178.75,375.1 180,375.9 181.25,376.79 182.5,377.74 183.75,378.76 185,379.54 186.25,380.12 187.5,381.07 188.75,381.81 190,383 191.25,383.54 192.5,384.92 193.75,385.53 195,386.58 196.25,387.29 197.5,387.84 198.75,389.06 200,389.6 201.38,389.97 202.76,389.81 204.14,389.71 205.52,389.97 206.9,390.2 208.3,389.8 209.7,389.72 211.1,389.35 212.5,389.53 213.9,389.2 215.3,389.54 216.7,389.13 218.1,389.52 219.5,389.4" fill="none" stroke="#00BA38" stroke-width="1.1" stroke-linejoin="round"/>
<polyline points="129.9,389.8 130.5,368 131.8,359 133.5,354 135.5,351 137.6,349 138.84,349.59 140.09,350.08 141.33,350.87 142.57,351.1 143.81,351.91 145.06,351.98 146.3,352.8 147.51,353.68 148.73,353.81 149.94,354.3 151.16,355.43 152.37,355.93 153.59,356.5 154.8,357 156.1,358.31 157.4,359.23 158.7,360.22 160,361.6 161.25,362.52 162.5,363.92 163.75,364.96 165,365.54 166.25,366.69 167.5,367.72 168.75,369.02 170,369.8 171.25,370.49 172.5,371.97 173.75,372.61 175,373.78 176.25,374.51 177.5,375.48 178.75,376.94 180,377.7 181.25,378.68 182.5,379.93 183.75,380.84 185,381.75 186.25,382.32 187.5,383.6 188.75,384.82 190,385.5 191.25,386.35 192.5,386.94 193.75,387.86 195,389.19 196.25,390.04 197.5,390.45 198.75,391.34 200,392.3 201.38,392.57 202.76,392.58 204.14,392.53 205.52,393.15 206.9,393 208.3,393.19 209.7,393.16 211.1,393.07 212.5,393.49 213.9,393.6 215.2,392.8 216.5,392 218,390.7 219.5,389.4" fill="none" stroke="#619CFF" stroke-width="1.1" stroke-linejoin="round"/>
<line x1="129.7" y1="340.8" x2="129.7" y2="417" stroke="#555555" stroke-width="0.9"/>
<line x1="128.2" y1="389.8" x2="129.7" y2="389.8" stroke="#555555" stroke-width="0.6"/>
<text x="127.5" y="391.24" text-anchor="end" fill="#8a8a8a" color="#8a8a8a" style="font-size:4px;stroke:none;">0.0</text>
<line x1="128.2" y1="373.2" x2="129.7" y2="373.2" stroke="#555555" stroke-width="0.6"/>
<text x="127.5" y="374.64" text-anchor="end" fill="#8a8a8a" color="#8a8a8a" style="font-size:4px;stroke:none;">0.2</text>
<line x1="128.2" y1="356.6" x2="129.7" y2="356.6" stroke="#555555" stroke-width="0.6"/>
<text x="127.5" y="358.04" text-anchor="end" fill="#8a8a8a" color="#8a8a8a" style="font-size:4px;stroke:none;">0.4</text>
<line x1="131.9" y1="380.8" x2="141.6" y2="380.8" stroke="#F8766D" stroke-width="1.3"/>
<text x="143.9" y="382.78" text-anchor="start" fill="#222" color="#222" style="font-size:5.5px;">Gene set #2</text>
<line x1="131.9" y1="387.4" x2="141.6" y2="387.4" stroke="#39C658" stroke-width="1.3"/>
<text x="143.9" y="389.38" text-anchor="start" fill="#222" color="#222" style="font-size:5.5px;">Gene set #3</text>
<line x1="131.9" y1="393.9" x2="141.6" y2="393.9" stroke="#6FA6FF" stroke-width="1.3"/>
<text x="143.9" y="395.88" text-anchor="start" fill="#222" color="#222" style="font-size:5.5px;">Gene set #4</text>
<text x="197.6" y="348.46" text-anchor="middle" fill="#111" color="#111" style="font-size:7.4px;">Gliogenesis</text>
<path d="M129.87 398.3h0.46v6.3h-0.46zM152.01 398.3h0.40v6.3h-0.40zM152.91 398.3h0.42v6.3h-0.42zM155.06 398.3h0.62v6.3h-0.62zM160.40 398.3h0.78v6.3h-0.78zM164.89 398.3h0.83v6.3h-0.83zM166.40 398.3h0.50v6.3h-0.50zM166.69 398.3h0.82v6.3h-0.82zM170.90 398.3h0.53v6.3h-0.53zM187.48 398.3h0.77v6.3h-0.77zM191.58 398.3h0.69v6.3h-0.69zM195.20 398.3h0.67v6.3h-0.67zM198.40 398.3h0.57v6.3h-0.57zM201.64 398.3h0.42v6.3h-0.42zM203.29 398.3h0.73v6.3h-0.73zM208.80 398.3h0.54v6.3h-0.54zM218.35 398.3h0.40v6.3h-0.40z" fill="#F8766D" fill-opacity="0.83"/>
<path d="M130.55 398.3h0.90v6.3h-0.90zM132.60 398.3h0.41v6.3h-0.41zM133.45 398.3h0.53v6.3h-0.53zM136.88 398.3h0.87v6.3h-0.87zM137.33 398.3h0.87v6.3h-0.87zM142.05 398.3h0.48v6.3h-0.48zM143.80 398.3h0.57v6.3h-0.57zM149.28 398.3h0.44v6.3h-0.44zM151.07 398.3h0.47v6.3h-0.47zM156.04 398.3h0.46v6.3h-0.46zM156.87 398.3h0.62v6.3h-0.62zM158.67 398.3h0.62v6.3h-0.62zM171.66 398.3h0.81v6.3h-0.81zM172.55 398.3h0.84v6.3h-0.84zM180.21 398.3h0.86v6.3h-0.86zM184.44 398.3h0.53v6.3h-0.53zM185.33 398.3h0.55v6.3h-0.55zM194.67 398.3h0.82v6.3h-0.82zM196.10 398.3h0.66v6.3h-0.66zM203.85 398.3h0.52v6.3h-0.52zM206.10 398.3h0.52v6.3h-0.52zM212.27 398.3h0.81v6.3h-0.81zM214.28 398.3h0.42v6.3h-0.42z" fill="#F8766D" fill-opacity="0.33"/>
<path d="M131.14 398.3h0.63v6.3h-0.63zM134.32 398.3h0.59v6.3h-0.59zM135.19 398.3h0.65v6.3h-0.65zM139.80 398.3h0.45v6.3h-0.45zM143.38 398.3h0.51v6.3h-0.51zM146.97 398.3h0.55v6.3h-0.55zM147.41 398.3h0.57v6.3h-0.57zM150.41 398.3h0.89v6.3h-0.89zM151.37 398.3h0.77v6.3h-0.77zM155.50 398.3h0.65v6.3h-0.65zM159.05 398.3h0.75v6.3h-0.75zM160.99 398.3h0.50v6.3h-0.50zM162.16 398.3h0.85v6.3h-0.85zM165.31 398.3h0.88v6.3h-0.88zM171.35 398.3h0.54v6.3h-0.54zM174.43 398.3h0.70v6.3h-0.70zM175.28 398.3h0.80v6.3h-0.80zM175.73 398.3h0.79v6.3h-0.79zM177.56 398.3h0.74v6.3h-0.74zM179.32 398.3h0.83v6.3h-0.83zM181.59 398.3h0.81v6.3h-0.81zM185.83 398.3h0.45v6.3h-0.45zM186.12 398.3h0.77v6.3h-0.77zM187.88 398.3h0.87v6.3h-0.87zM189.90 398.3h0.43v6.3h-0.43zM199.82 398.3h0.44v6.3h-0.44zM200.26 398.3h0.46v6.3h-0.46zM200.96 398.3h0.88v6.3h-0.88zM205.25 398.3h0.42v6.3h-0.42zM205.49 398.3h0.85v6.3h-0.85zM206.87 398.3h0.79v6.3h-0.79zM209.65 398.3h0.65v6.3h-0.65zM210.49 398.3h0.77v6.3h-0.77zM211.01 398.3h0.63v6.3h-0.63zM212.74 398.3h0.78v6.3h-0.78zM213.32 398.3h0.53v6.3h-0.53zM217.36 398.3h0.56v6.3h-0.56z" fill="#F8766D" fill-opacity="0.67"/>
<path d="M131.66 398.3h0.50v6.3h-0.50zM132.83 398.3h0.85v6.3h-0.85zM139.16 398.3h0.84v6.3h-0.84zM142.52 398.3h0.44v6.3h-0.44zM144.25 398.3h0.59v6.3h-0.59zM145.65 398.3h0.48v6.3h-0.48zM147.89 398.3h0.52v6.3h-0.52zM148.30 398.3h0.61v6.3h-0.61zM149.67 398.3h0.58v6.3h-0.58zM158.24 398.3h0.58v6.3h-0.58zM160.03 398.3h0.62v6.3h-0.62zM161.30 398.3h0.77v6.3h-0.77zM164.06 398.3h0.67v6.3h-0.67zM167.20 398.3h0.71v6.3h-0.71zM170.39 398.3h0.64v6.3h-0.64zM172.12 398.3h0.80v6.3h-0.80zM172.98 398.3h0.88v6.3h-0.88zM177.97 398.3h0.83v6.3h-0.83zM183.06 398.3h0.58v6.3h-0.58zM183.57 398.3h0.46v6.3h-0.46zM184.76 398.3h0.79v6.3h-0.79zM189.36 398.3h0.60v6.3h-0.60zM193.77 398.3h0.82v6.3h-0.82zM194.26 398.3h0.74v6.3h-0.74zM198.03 398.3h0.42v6.3h-0.42zM204.26 398.3h0.59v6.3h-0.59zM206.47 398.3h0.68v6.3h-0.68zM211.44 398.3h0.67v6.3h-0.67zM214.94 398.3h0.89v6.3h-0.89zM219.13 398.3h0.64v6.3h-0.64z" fill="#F8766D" fill-opacity="0.50"/>
<path d="M129.62 404.6h0.95v6.3h-0.95zM130.59 404.6h0.83v6.3h-0.83zM135.95 404.6h0.93v6.3h-0.93zM139.29 404.6h0.57v6.3h-0.57zM141.79 404.6h0.99v6.3h-0.99zM143.77 404.6h0.64v6.3h-0.64zM160.05 404.6h0.57v6.3h-0.57zM160.74 404.6h0.99v6.3h-0.99zM162.74 404.6h0.61v6.3h-0.61zM163.60 404.6h0.69v6.3h-0.69zM168.46 404.6h0.90v6.3h-0.90zM169.88 404.6h0.75v6.3h-0.75zM173.01 404.6h0.81v6.3h-0.81zM176.75 404.6h0.57v6.3h-0.57zM177.06 404.6h0.85v6.3h-0.85zM177.53 404.6h0.81v6.3h-0.81zM182.14 404.6h0.61v6.3h-0.61zM192.80 404.6h0.94v6.3h-0.94zM193.32 404.6h0.82v6.3h-0.82zM194.28 404.6h0.70v6.3h-0.70zM195.18 404.6h0.71v6.3h-0.71zM197.38 404.6h0.83v6.3h-0.83zM200.23 404.6h0.54v6.3h-0.54zM209.70 404.6h0.55v6.3h-0.55zM210.58 404.6h0.59v6.3h-0.59zM211.42 404.6h0.71v6.3h-0.71zM213.70 404.6h0.66v6.3h-0.66zM214.53 404.6h0.82v6.3h-0.82zM217.81 404.6h0.58v6.3h-0.58zM219.61 404.6h0.58v6.3h-0.58z" fill="#00BA38" fill-opacity="1.00"/>
<path d="M130.26 404.6h0.57v6.3h-0.57zM132.46 404.6h0.70v6.3h-0.70zM132.88 404.6h0.76v6.3h-0.76zM137.92 404.6h0.61v6.3h-0.61zM144.13 404.6h0.82v6.3h-0.82zM144.65 404.6h0.69v6.3h-0.69zM148.77 404.6h0.56v6.3h-0.56zM151.73 404.6h0.96v6.3h-0.96zM153.74 404.6h0.55v6.3h-0.55zM154.10 404.6h0.74v6.3h-0.74zM156.43 404.6h0.60v6.3h-0.60zM157.70 404.6h0.76v6.3h-0.76zM159.49 404.6h0.78v6.3h-0.78zM162.11 404.6h0.96v6.3h-0.96zM163.21 404.6h0.57v6.3h-0.57zM164.13 404.6h0.54v6.3h-0.54zM164.80 404.6h0.99v6.3h-0.99zM168.00 404.6h0.91v6.3h-0.91zM169.09 404.6h0.54v6.3h-0.54zM170.81 404.6h0.70v6.3h-0.70zM171.12 404.6h0.99v6.3h-0.99zM174.49 404.6h0.57v6.3h-0.57zM175.70 404.6h0.86v6.3h-0.86zM176.09 404.6h0.98v6.3h-0.98zM179.48 404.6h0.51v6.3h-0.51zM182.92 404.6h0.86v6.3h-0.86zM184.23 404.6h0.94v6.3h-0.94zM186.62 404.6h0.67v6.3h-0.67zM187.49 404.6h0.74v6.3h-0.74zM188.47 404.6h0.58v6.3h-0.58zM190.31 404.6h0.52v6.3h-0.52zM191.53 404.6h0.79v6.3h-0.79zM192.39 404.6h0.87v6.3h-0.87zM196.43 404.6h0.91v6.3h-0.91zM197.77 404.6h0.94v6.3h-0.94zM201.95 404.6h0.70v6.3h-0.70zM204.65 404.6h0.72v6.3h-0.72zM207.87 404.6h0.59v6.3h-0.59zM208.19 404.6h0.86v6.3h-0.86zM209.23 404.6h0.57v6.3h-0.57zM215.97 404.6h0.65v6.3h-0.65zM216.93 404.6h0.52v6.3h-0.52z" fill="#00BA38" fill-opacity="0.50"/>
<path d="M131.04 404.6h0.83v6.3h-0.83zM133.41 404.6h0.60v6.3h-0.60zM134.63 404.6h0.86v6.3h-0.86zM135.49 404.6h0.94v6.3h-0.94zM138.37 404.6h0.60v6.3h-0.60zM138.81 404.6h0.63v6.3h-0.63zM139.57 404.6h0.92v6.3h-0.92zM141.46 404.6h0.74v6.3h-0.74zM142.84 404.6h0.69v6.3h-0.69zM143.23 404.6h0.81v6.3h-0.81zM145.15 404.6h0.58v6.3h-0.58zM146.81 404.6h0.88v6.3h-0.88zM147.28 404.6h0.83v6.3h-0.83zM147.77 404.6h0.75v6.3h-0.75zM148.23 404.6h0.74v6.3h-0.74zM149.92 404.6h0.98v6.3h-0.98zM150.56 404.6h0.59v6.3h-0.59zM151.34 404.6h0.84v6.3h-0.84zM155.43 404.6h0.79v6.3h-0.79zM155.93 404.6h0.68v6.3h-0.68zM156.90 404.6h0.55v6.3h-0.55zM158.08 404.6h0.89v6.3h-0.89zM164.51 404.6h0.67v6.3h-0.67zM165.47 404.6h0.55v6.3h-0.55zM167.07 404.6h0.97v6.3h-0.97zM172.08 404.6h0.88v6.3h-0.88zM173.92 404.6h0.81v6.3h-0.81zM174.97 404.6h0.51v6.3h-0.51zM182.60 404.6h0.60v6.3h-0.60zM183.33 404.6h0.93v6.3h-0.93zM184.74 404.6h0.83v6.3h-0.83zM186.16 404.6h0.69v6.3h-0.69zM189.65 404.6h0.94v6.3h-0.94zM191.15 404.6h0.63v6.3h-0.63zM193.92 404.6h0.51v6.3h-0.51zM194.66 404.6h0.84v6.3h-0.84zM195.71 404.6h0.54v6.3h-0.54zM197.09 404.6h0.50v6.3h-0.50zM198.68 404.6h0.93v6.3h-0.93zM203.73 404.6h0.74v6.3h-0.74zM204.21 404.6h0.69v6.3h-0.69zM205.46 404.6h0.90v6.3h-0.90zM206.49 404.6h0.65v6.3h-0.65zM206.94 404.6h0.66v6.3h-0.66zM211.78 404.6h0.89v6.3h-0.89zM212.86 404.6h0.55v6.3h-0.55zM217.24 404.6h0.81v6.3h-0.81zM218.19 404.6h0.71v6.3h-0.71z" fill="#00BA38" fill-opacity="0.67"/>
<path d="M131.61 404.6h0.60v6.3h-0.60zM133.86 404.6h0.59v6.3h-0.59zM134.15 404.6h0.93v6.3h-0.93zM135.24 404.6h0.54v6.3h-0.54zM136.95 404.6h0.73v6.3h-0.73zM137.37 404.6h0.81v6.3h-0.81zM140.65 404.6h0.56v6.3h-0.56zM140.97 404.6h0.83v6.3h-0.83zM142.25 404.6h0.97v6.3h-0.97zM145.49 404.6h0.81v6.3h-0.81zM149.48 404.6h0.96v6.3h-0.96zM150.83 404.6h0.95v6.3h-0.95zM152.24 404.6h0.84v6.3h-0.84zM152.82 404.6h0.59v6.3h-0.59zM153.16 404.6h0.81v6.3h-0.81zM154.56 404.6h0.72v6.3h-0.72zM158.63 404.6h0.71v6.3h-0.71zM161.31 404.6h0.75v6.3h-0.75zM161.65 404.6h0.97v6.3h-0.97zM165.79 404.6h0.83v6.3h-0.83zM166.15 404.6h1.00v6.3h-1.00zM170.36 404.6h0.71v6.3h-0.71zM172.48 404.6h0.99v6.3h-0.99zM175.24 404.6h0.88v6.3h-0.88zM178.00 404.6h0.77v6.3h-0.77zM179.69 404.6h0.99v6.3h-0.99zM180.71 404.6h0.77v6.3h-0.77zM181.26 404.6h0.56v6.3h-0.56zM183.98 404.6h0.55v6.3h-0.55zM185.64 404.6h0.83v6.3h-0.83zM187.10 404.6h0.62v6.3h-0.62zM187.85 404.6h0.93v6.3h-0.93zM188.92 404.6h0.60v6.3h-0.60zM189.32 404.6h0.69v6.3h-0.69zM192.11 404.6h0.52v6.3h-0.52zM196.08 404.6h0.70v6.3h-0.70zM198.29 404.6h0.80v6.3h-0.80zM200.58 404.6h0.73v6.3h-0.73zM201.49 404.6h0.72v6.3h-0.72zM202.88 404.6h0.66v6.3h-0.66zM203.32 404.6h0.67v6.3h-0.67zM207.35 404.6h0.72v6.3h-0.72zM208.76 404.6h0.61v6.3h-0.61zM211.00 404.6h0.65v6.3h-0.65zM212.34 404.6h0.68v6.3h-0.68zM213.11 404.6h0.94v6.3h-0.94zM215.10 404.6h0.56v6.3h-0.56zM215.49 404.6h0.69v6.3h-0.69zM216.39 404.6h0.70v6.3h-0.70zM218.62 404.6h0.76v6.3h-0.76zM219.09 404.6h0.71v6.3h-0.71z" fill="#00BA38" fill-opacity="0.83"/>
<path d="M131.98 404.6h0.74v6.3h-0.74zM155.03 404.6h0.67v6.3h-0.67zM157.35 404.6h0.56v6.3h-0.56zM159.14 404.6h0.59v6.3h-0.59zM166.70 404.6h0.81v6.3h-0.81zM167.57 404.6h0.86v6.3h-0.86zM173.55 404.6h0.64v6.3h-0.64zM178.97 404.6h0.64v6.3h-0.64zM181.66 404.6h0.67v6.3h-0.67zM190.56 404.6h0.93v6.3h-0.93zM199.73 404.6h0.63v6.3h-0.63zM201.09 404.6h0.61v6.3h-0.61zM205.19 404.6h0.54v6.3h-0.54zM205.96 404.6h0.80v6.3h-0.80zM214.23 404.6h0.50v6.3h-0.50z" fill="#00BA38" fill-opacity="0.33"/>
<path d="M129.66 410.9h0.88v5.8h-0.88zM131.51 410.9h0.78v5.8h-0.78zM137.96 410.9h0.53v5.8h-0.53zM139.53 410.9h1.00v5.8h-1.00zM140.92 410.9h0.93v5.8h-0.93zM141.48 410.9h0.71v5.8h-0.71zM143.38 410.9h0.52v5.8h-0.52zM146.77 410.9h0.96v5.8h-0.96zM147.87 410.9h0.57v5.8h-0.57zM149.65 410.9h0.62v5.8h-0.62zM150.03 410.9h0.76v5.8h-0.76zM152.17 410.9h0.98v5.8h-0.98zM153.70 410.9h0.63v5.8h-0.63zM154.51 410.9h0.81v5.8h-0.81zM154.91 410.9h0.92v5.8h-0.92zM155.90 410.9h0.74v5.8h-0.74zM157.37 410.9h0.51v5.8h-0.51zM159.09 410.9h0.69v5.8h-0.69zM160.32 410.9h0.93v5.8h-0.93zM163.59 410.9h0.70v5.8h-0.70zM166.16 410.9h0.98v5.8h-0.98zM168.98 410.9h0.75v5.8h-0.75zM169.52 410.9h0.58v5.8h-0.58zM171.15 410.9h0.93v5.8h-0.93zM171.65 410.9h0.82v5.8h-0.82zM173.43 410.9h0.89v5.8h-0.89zM173.90 410.9h0.84v5.8h-0.84zM174.42 410.9h0.71v5.8h-0.71zM178.86 410.9h0.85v5.8h-0.85zM182.96 410.9h0.78v5.8h-0.78zM185.35 410.9h0.52v5.8h-0.52zM186.63 410.9h0.66v5.8h-0.66zM189.75 410.9h0.73v5.8h-0.73zM190.09 410.9h0.96v5.8h-0.96zM191.65 410.9h0.54v5.8h-0.54zM196.01 410.9h0.85v5.8h-0.85zM197.36 410.9h0.85v5.8h-0.85zM198.36 410.9h0.66v5.8h-0.66zM199.19 410.9h0.81v5.8h-0.81zM199.69 410.9h0.71v5.8h-0.71zM206.42 410.9h0.79v5.8h-0.79zM206.94 410.9h0.65v5.8h-0.65zM208.23 410.9h0.78v5.8h-0.78zM209.51 410.9h0.92v5.8h-0.92zM211.43 410.9h0.70v5.8h-0.70zM219.44 410.9h0.92v5.8h-0.92z" fill="#619CFF" fill-opacity="0.83"/>
<path d="M130.23 410.9h0.63v5.8h-0.63zM130.74 410.9h0.52v5.8h-0.52zM131.03 410.9h0.84v5.8h-0.84zM132.00 410.9h0.72v5.8h-0.72zM135.26 410.9h0.51v5.8h-0.51zM135.93 410.9h0.97v5.8h-0.97zM136.59 410.9h0.56v5.8h-0.56zM136.89 410.9h0.86v5.8h-0.86zM137.43 410.9h0.68v5.8h-0.68zM138.70 410.9h0.85v5.8h-0.85zM141.86 410.9h0.84v5.8h-0.84zM142.46 410.9h0.56v5.8h-0.56zM142.76 410.9h0.85v5.8h-0.85zM143.70 410.9h0.79v5.8h-0.79zM145.51 410.9h0.78v5.8h-0.78zM147.32 410.9h0.76v5.8h-0.76zM148.60 410.9h0.91v5.8h-0.91zM149.24 410.9h0.53v5.8h-0.53zM151.41 410.9h0.70v5.8h-0.70zM155.49 410.9h0.65v5.8h-0.65zM156.79 410.9h0.76v5.8h-0.76zM157.75 410.9h0.65v5.8h-0.65zM158.66 410.9h0.64v5.8h-0.64zM162.14 410.9h0.89v5.8h-0.89zM164.53 410.9h0.62v5.8h-0.62zM164.86 410.9h0.88v5.8h-0.88zM165.77 410.9h0.87v5.8h-0.87zM166.78 410.9h0.65v5.8h-0.65zM167.22 410.9h0.66v5.8h-0.66zM169.80 410.9h0.93v5.8h-0.93zM170.46 410.9h0.51v5.8h-0.51zM170.81 410.9h0.70v5.8h-0.70zM172.98 410.9h0.88v5.8h-0.88zM174.94 410.9h0.57v5.8h-0.57zM175.73 410.9h0.80v5.8h-0.80zM176.65 410.9h0.77v5.8h-0.77zM178.54 410.9h0.59v5.8h-0.59zM183.80 410.9h0.90v5.8h-0.90zM186.05 410.9h0.91v5.8h-0.91zM187.96 410.9h0.70v5.8h-0.70zM188.81 410.9h0.80v5.8h-0.80zM192.02 410.9h0.71v5.8h-0.71zM192.34 410.9h0.97v5.8h-0.97zM192.84 410.9h0.87v5.8h-0.87zM194.33 410.9h0.60v5.8h-0.60zM194.63 410.9h0.90v5.8h-0.90zM196.41 410.9h0.96v5.8h-0.96zM200.06 410.9h0.87v5.8h-0.87zM201.06 410.9h0.68v5.8h-0.68zM205.09 410.9h0.75v5.8h-0.75zM205.60 410.9h0.62v5.8h-0.62zM207.79 410.9h0.75v5.8h-0.75zM210.07 410.9h0.71v5.8h-0.71zM212.71 410.9h0.85v5.8h-0.85zM213.64 410.9h0.78v5.8h-0.78zM215.45 410.9h0.78v5.8h-0.78zM217.83 410.9h0.52v5.8h-0.52zM218.98 410.9h0.94v5.8h-0.94z" fill="#619CFF" fill-opacity="0.50"/>
<path d="M132.46 410.9h0.70v5.8h-0.70zM132.94 410.9h0.63v5.8h-0.63zM134.19 410.9h0.85v5.8h-0.85zM135.58 410.9h0.76v5.8h-0.76zM138.29 410.9h0.76v5.8h-0.76zM140.45 410.9h0.96v5.8h-0.96zM144.66 410.9h0.66v5.8h-0.66zM144.95 410.9h0.98v5.8h-0.98zM145.85 410.9h0.98v5.8h-0.98zM146.51 410.9h0.57v5.8h-0.57zM148.28 410.9h0.64v5.8h-0.64zM150.43 410.9h0.85v5.8h-0.85zM150.93 410.9h0.76v5.8h-0.76zM151.95 410.9h0.53v5.8h-0.53zM152.71 410.9h0.81v5.8h-0.81zM153.29 410.9h0.55v5.8h-0.55zM154.00 410.9h0.94v5.8h-0.94zM159.50 410.9h0.76v5.8h-0.76zM159.85 410.9h0.96v5.8h-0.96zM160.80 410.9h0.88v5.8h-0.88zM161.26 410.9h0.85v5.8h-0.85zM161.82 410.9h0.65v5.8h-0.65zM162.60 410.9h0.89v5.8h-0.89zM163.21 410.9h0.56v5.8h-0.56zM165.41 410.9h0.67v5.8h-0.67zM168.48 410.9h0.85v5.8h-0.85zM172.66 410.9h0.61v5.8h-0.61zM175.39 410.9h0.57v5.8h-0.57zM177.05 410.9h0.87v5.8h-0.87zM177.61 410.9h0.64v5.8h-0.64zM179.81 410.9h0.76v5.8h-0.76zM180.66 410.9h0.86v5.8h-0.86zM181.64 410.9h0.71v5.8h-0.71zM182.12 410.9h0.66v5.8h-0.66zM182.50 410.9h0.79v5.8h-0.79zM184.26 410.9h0.88v5.8h-0.88zM188.47 410.9h0.59v5.8h-0.59zM189.26 410.9h0.80v5.8h-0.80zM190.68 410.9h0.67v5.8h-0.67zM191.11 410.9h0.72v5.8h-0.72zM195.25 410.9h0.57v5.8h-0.57zM195.49 410.9h0.99v5.8h-0.99zM196.85 410.9h0.98v5.8h-0.98zM197.97 410.9h0.55v5.8h-0.55zM198.87 410.9h0.54v5.8h-0.54zM201.50 410.9h0.70v5.8h-0.70zM202.00 410.9h0.61v5.8h-0.61zM203.17 410.9h0.97v5.8h-0.97zM203.69 410.9h0.83v5.8h-0.83zM204.26 410.9h0.59v5.8h-0.59zM204.58 410.9h0.85v5.8h-0.85zM205.89 410.9h0.95v5.8h-0.95zM207.45 410.9h0.53v5.8h-0.53zM208.68 410.9h0.79v5.8h-0.79zM210.59 410.9h0.56v5.8h-0.56zM214.02 410.9h0.94v5.8h-0.94zM215.03 410.9h0.72v5.8h-0.72zM216.02 410.9h0.53v5.8h-0.53zM216.71 410.9h0.96v5.8h-0.96zM218.06 410.9h0.98v5.8h-0.98zM218.62 410.9h0.76v5.8h-0.76z" fill="#619CFF" fill-opacity="0.67"/>
<path d="M133.45 410.9h0.52v5.8h-0.52zM133.78 410.9h0.76v5.8h-0.76zM134.64 410.9h0.85v5.8h-0.85zM139.23 410.9h0.69v5.8h-0.69zM144.18 410.9h0.73v5.8h-0.73zM156.41 410.9h0.63v5.8h-0.63zM158.09 410.9h0.87v5.8h-0.87zM164.12 410.9h0.55v5.8h-0.55zM168.15 410.9h0.61v5.8h-0.61zM172.19 410.9h0.66v5.8h-0.66zM176.18 410.9h0.80v5.8h-0.80zM178.12 410.9h0.52v5.8h-0.52zM179.44 410.9h0.60v5.8h-0.60zM180.26 410.9h0.77v5.8h-0.77zM181.15 410.9h0.78v5.8h-0.78zM183.52 410.9h0.55v5.8h-0.55zM184.67 410.9h0.97v5.8h-0.97zM185.67 410.9h0.76v5.8h-0.76zM187.38 410.9h0.97v5.8h-0.97zM193.32 410.9h0.82v5.8h-0.82zM193.74 410.9h0.88v5.8h-0.88zM202.25 410.9h1.00v5.8h-1.00zM209.27 410.9h0.50v5.8h-0.50zM210.96 410.9h0.73v5.8h-0.73zM211.94 410.9h0.57v5.8h-0.57zM212.18 410.9h0.99v5.8h-0.99zM213.27 410.9h0.62v5.8h-0.62zM216.45 410.9h0.58v5.8h-0.58zM217.39 410.9h0.51v5.8h-0.51z" fill="#619CFF" fill-opacity="1.00"/>
<line x1="129.7" y1="398" x2="129.7" y2="417" stroke="#555555" stroke-width="0.9"/>
<text x="130.3" y="424.67" text-anchor="start" fill="#111" color="#111" style="font-size:6.3px;">SMA</text>
<text x="218.3" y="424.67" text-anchor="end" fill="#111" color="#111" style="font-size:6.3px;">Control</text>
<text x="228.8" y="326.7" text-anchor="start" fill="#000" color="#000" style="font-size:11px;font-weight:bold;">H</text>
<text x="353.2" y="333.1" text-anchor="middle" fill="#000" color="#000" style="font-size:7.5px;font-weight:bold;">GSE209926</text>
<text x="242.46" y="378.5" text-anchor="middle" fill="#000" color="#000" style="font-size:6.55px;font-weight:bold;" transform="rotate(-90 242.46 378.5)">Running enrichment score</text>
<line x1="270.5" y1="340.8" x2="270.5" y2="398.5" stroke="#ebebeb" stroke-width="0.8"/>
<line x1="287.4" y1="340.8" x2="287.4" y2="398.5" stroke="#ebebeb" stroke-width="0.8"/>
<line x1="303.9" y1="340.8" x2="303.9" y2="398.5" stroke="#ebebeb" stroke-width="0.8"/>
<line x1="320.8" y1="340.8" x2="320.8" y2="398.5" stroke="#ebebeb" stroke-width="0.8"/>
<line x1="337.7" y1="340.8" x2="337.7" y2="398.5" stroke="#ebebeb" stroke-width="0.8"/>
<polyline points="253.4,343.9 254.78,344.4 256.15,344.89 257.52,345.42 258.9,346.2 260.15,347.26 261.4,347.88 262.65,348.76 263.9,349.5 265.15,350.21 266.4,351.1 267.6,351.74 268.8,352.15 270,352.6 271.36,353.57 272.72,354.3 274.08,355.2 275.44,355.76 276.8,356.6 278.1,357.14 279.4,357.89 280.7,358.98 282,359.4 283.3,360.44 284.6,361.17 285.9,361.59 287.2,362.6 288.44,363.51 289.68,363.8 290.93,365.05 292.17,365.77 293.41,366.14 294.65,367.19 295.89,367.93 297.13,368.31 298.38,369.38 299.62,369.79 300.86,371.01 302.1,371.5 303.34,372.3 304.58,373.15 305.83,373.28 307.07,374.12 308.31,374.99 309.55,375.66 310.79,376.09 312.03,377.2 313.27,377.86 314.52,378.21 315.76,378.8 317,379.7 318.33,380.48 319.67,381.01 321,381.85 322.33,382.43 323.67,383.05 325,383.8 326.35,384.34 327.7,385.23 329.05,386.25 330.4,387.1 331.7,387.45 333,387.8 334.7,388.95 336.4,390.1 337.97,391.64 339.53,392.86 341.1,394.3 342.2,393.8 343.1,391.9 344.6,387.1 345.5,382.5 346.5,379.7 347.5,377.5 348.1,377.2 348.3,370 348.7,343.2" fill="none" stroke="#47E619" stroke-width="1.15" stroke-linejoin="round"/>
<line x1="253.2" y1="340.8" x2="253.2" y2="417" stroke="#555555" stroke-width="0.9"/>
<line x1="251.7" y1="344" x2="253.2" y2="344" stroke="#555555" stroke-width="0.6"/>
<text x="251" y="345.44" text-anchor="end" fill="#8a8a8a" color="#8a8a8a" style="font-size:4px;stroke:none;">0.0</text>
<line x1="251.7" y1="356.55" x2="253.2" y2="356.55" stroke="#555555" stroke-width="0.6"/>
<text x="251" y="357.99" text-anchor="end" fill="#8a8a8a" color="#8a8a8a" style="font-size:4px;stroke:none;">-0.2</text>
<line x1="251.7" y1="369.1" x2="253.2" y2="369.1" stroke="#555555" stroke-width="0.6"/>
<text x="251" y="370.54" text-anchor="end" fill="#8a8a8a" color="#8a8a8a" style="font-size:4px;stroke:none;">-0.4</text>
<line x1="251.7" y1="381.65" x2="253.2" y2="381.65" stroke="#555555" stroke-width="0.6"/>
<text x="251" y="383.09" text-anchor="end" fill="#8a8a8a" color="#8a8a8a" style="font-size:4px;stroke:none;">-0.6</text>
<line x1="251.7" y1="394.2" x2="253.2" y2="394.2" stroke="#555555" stroke-width="0.6"/>
<text x="251" y="395.64" text-anchor="end" fill="#8a8a8a" color="#8a8a8a" style="font-size:4px;stroke:none;">-0.8</text>
<line x1="256.6" y1="393.7" x2="266" y2="393.7" stroke="#66EE44" stroke-width="1.3"/>
<text x="268.3" y="395.68" text-anchor="start" fill="#222" color="#222" style="font-size:5.5px;">Gene set #1</text>
<text x="345.3" y="347.1" text-anchor="end" fill="#111" color="#111" style="font-size:7.5px;">Amino acid</text>
<text x="345.3" y="354.2" text-anchor="end" fill="#111" color="#111" style="font-size:7.5px;">transport</text>
<path d="M257.90 398.5h0.60v13.4h-0.60zM276.20 398.5h0.60v13.4h-0.60zM293.20 398.5h0.60v13.4h-0.60zM341.80 398.5h0.60v13.4h-0.60zM342.30 398.5h0.60v13.4h-0.60zM344.80 398.5h0.60v13.4h-0.60zM345.30 398.5h0.60v13.4h-0.60zM345.80 398.5h0.60v13.4h-0.60zM347.30 398.5h0.60v13.4h-0.60z" fill="#222"/>
<path d="M266.80 398.5h0.60v13.4h-0.60zM284.20 398.5h0.60v13.4h-0.60zM314.00 398.5h0.60v13.4h-0.60z" fill="#333"/>
<path d="M274.30 398.5h0.60v13.4h-0.60zM298.80 398.5h0.60v13.4h-0.60zM309.00 398.5h0.60v13.4h-0.60zM316.00 398.5h0.60v13.4h-0.60zM330.10 398.5h0.60v13.4h-0.60zM341.30 398.5h0.60v13.4h-0.60zM343.30 398.5h0.60v13.4h-0.60z" fill="#777"/>
<path d="M298.10 398.5h0.60v13.4h-0.60zM324.10 398.5h0.60v13.4h-0.60zM342.80 398.5h0.60v13.4h-0.60zM346.80 398.5h0.60v13.4h-0.60zM347.80 398.5h0.60v13.4h-0.60z" fill="#999"/>
<path d="M301.80 398.5h0.60v13.4h-0.60z" fill="#888"/>
<path d="M306.00 398.5h0.60v13.4h-0.60zM311.90 398.5h0.60v13.4h-0.60zM327.90 398.5h0.60v13.4h-0.60z" fill="#555"/>
<path d="M343.80 398.5h0.60v13.4h-0.60zM344.30 398.5h0.60v13.4h-0.60zM346.30 398.5h0.60v13.4h-0.60z" fill="#444"/>
<rect x="253.3" y="411.9" width="5.25" height="5.2" fill="#E03A30"/>
<rect x="258.5" y="411.9" width="6.55" height="5.2" fill="#EEA88E"/>
<rect x="265" y="411.9" width="7.35" height="5.2" fill="#E8957A"/>
<rect x="272.3" y="411.9" width="15.75" height="5.2" fill="#F7DCCB"/>
<rect x="288" y="411.9" width="9.55" height="5.2" fill="#E8F0FA"/>
<rect x="297.5" y="411.9" width="12.75" height="5.2" fill="#BAD7EA"/>
<rect x="310.2" y="411.9" width="15.85" height="5.2" fill="#7DB6DC"/>
<rect x="326" y="411.9" width="18.65" height="5.2" fill="#4F93CB"/>
<rect x="344.6" y="411.9" width="4.75" height="5.2" fill="#2B64A8"/>
<line x1="253.2" y1="398" x2="253.2" y2="417.1" stroke="#555555" stroke-width="0.9"/>
<text x="254.3" y="424.87" text-anchor="start" fill="#111" color="#111" style="font-size:6.3px;">SMA</text>
<text x="347.6" y="424.87" text-anchor="end" fill="#111" color="#111" style="font-size:6.3px;">Control</text>
<line x1="379.3" y1="340.8" x2="379.3" y2="398.8" stroke="#ebebeb" stroke-width="0.8"/>
<line x1="395.1" y1="340.8" x2="395.1" y2="398.8" stroke="#ebebeb" stroke-width="0.8"/>
<line x1="410.4" y1="340.8" x2="410.4" y2="398.8" stroke="#ebebeb" stroke-width="0.8"/>
<line x1="425.8" y1="340.8" x2="425.8" y2="398.8" stroke="#ebebeb" stroke-width="0.8"/>
<line x1="440.9" y1="340.8" x2="440.9" y2="398.8" stroke="#ebebeb" stroke-width="0.8"/>
<polyline points="363.7,343.4 364.96,344.29 366.22,344.8 367.48,345.75 368.74,346.54 370,347.5 371.25,348.51 372.5,349.38 373.75,350.38 375,350.87 376.25,351.93 377.5,352.63 378.75,353.62 380,354.65 381.25,355.31 382.5,356.29 383.75,357.41 385,358.25 386.25,358.98 387.5,360.06 388.75,361.06 390,361.8 391.25,362.43 392.5,363.7 393.75,364.52 395,365.22 396.25,366 397.5,367.28 398.75,367.84 400,368.6 401.25,369.47 402.5,370.72 403.75,371.48 405,372.45 406.25,373.29 407.5,374.07 408.75,375.16 410,375.8 411.25,376.7 412.5,377.74 413.75,378.84 415,379.69 416.25,380.77 417.5,381.59 418.75,382.61 420,383.24 421.25,384.29 422.5,385.28 423.75,386.13 425,387.3 426.3,388.02 427.6,388.81 428.9,389.76 430.2,390.8 431.5,391.52 432.8,392.38 434.1,393.3 435.4,392.89 436.7,392.65 438,392.5 439.5,391.4 441,390.3 442.65,390.4 444.3,390.5 445.95,387 447.6,383.5 449.9,374 451.5,361.6 452.6,344" fill="none" stroke="#F8766D" stroke-width="1.1" stroke-linejoin="round"/>
<polyline points="363.7,344.2 364.96,345.24 366.22,345.91 367.48,346.71 368.74,347.32 370,348.3 371.25,349.29 372.5,349.88 373.75,350.86 375,352.04 376.25,352.74 377.5,353.58 378.75,354.52 380,355.47 381.25,356.31 382.5,356.91 383.75,357.69 385,358.71 386.25,359.56 387.5,360.41 388.75,361.65 390,362.3 391.25,363.36 392.5,363.96 393.75,365 395,365.75 396.25,366.88 397.5,367.53 398.75,368.31 400,369.17 401.25,370.21 402.5,370.93 403.75,371.97 405,373 406.25,373.62 407.5,374.41 408.75,375.67 410,376.3 411.25,377.26 412.5,378.01 413.75,378.95 415,379.94 416.25,381.16 417.5,382.2 418.75,382.97 420,383.75 421.25,384.87 422.5,386.13 423.75,386.86 425,387.8 426.3,388.89 427.6,389.69 428.9,390.13 430.2,391.34 431.5,392.18 432.8,392.96 434.1,393.8 435.58,393.61 437.05,393.72 438.52,393.38 440,393.5 441.43,393.07 442.87,392.68 444.3,392.3 445.95,388.4 447.6,384.5 449.9,374.5 451.5,362 452.6,344" fill="none" stroke="#00BFC4" stroke-width="1.1" stroke-linejoin="round"/>
<line x1="363.5" y1="340.8" x2="363.5" y2="417" stroke="#555555" stroke-width="0.9"/>
<line x1="362" y1="344.2" x2="363.5" y2="344.2" stroke="#555555" stroke-width="0.6"/>
<text x="361.3" y="345.64" text-anchor="end" fill="#8a8a8a" color="#8a8a8a" style="font-size:4px;stroke:none;">0.0</text>
<line x1="362" y1="358.9" x2="363.5" y2="358.9" stroke="#555555" stroke-width="0.6"/>
<text x="361.3" y="360.34" text-anchor="end" fill="#8a8a8a" color="#8a8a8a" style="font-size:4px;stroke:none;">-0.2</text>
<line x1="362" y1="373.6" x2="363.5" y2="373.6" stroke="#555555" stroke-width="0.6"/>
<text x="361.3" y="375.04" text-anchor="end" fill="#8a8a8a" color="#8a8a8a" style="font-size:4px;stroke:none;">-0.4</text>
<line x1="362" y1="388.3" x2="363.5" y2="388.3" stroke="#555555" stroke-width="0.6"/>
<text x="361.3" y="389.74" text-anchor="end" fill="#8a8a8a" color="#8a8a8a" style="font-size:4px;stroke:none;">-0.6</text>
<line x1="366.4" y1="386.4" x2="375.5" y2="386.4" stroke="#F8968F" stroke-width="1.3"/>
<text x="377.7" y="388.38" text-anchor="start" fill="#222" color="#222" style="font-size:5.5px;">Gene set #2</text>
<line x1="366.4" y1="393.8" x2="375.5" y2="393.8" stroke="#4FCFD2" stroke-width="1.3"/>
<text x="377.7" y="395.78" text-anchor="start" fill="#222" color="#222" style="font-size:5.5px;">Gene set #3</text>
<text x="449.9" y="347.1" text-anchor="end" fill="#111" color="#111" style="font-size:7.5px;">Amino acid</text>
<text x="449.9" y="354" text-anchor="end" fill="#111" color="#111" style="font-size:7.5px;">metabolism</text>
<path d="M364.8 398.3H370.1V407.8H364.8zM375.9 398.3H377.1V407.8H375.9zM438.9 398.3H443.0V407.8H438.9z" fill="#00BFC4" fill-opacity="0.6"/>
<path d="M370.8 398.3H371.8V407.8H370.8zM383.0 398.3H389.0V407.8H383.0z" fill="#00BFC4" fill-opacity="0.35"/>
<path d="M372.9 398.3H373.9V407.8H372.9zM390.0 398.3H391.8V407.8H390.0zM411.9 398.3H416.1V407.8H411.9zM421.7 398.3H425.2V407.8H421.7z" fill="#00BFC4" fill-opacity="0.45"/>
<path d="M378.1 398.3H381.3V407.8H378.1zM396.0 398.3H398.8V407.8H396.0z" fill="#00BFC4" fill-opacity="0.55"/>
<path d="M392.8 398.3H394.2V407.8H392.8z" fill="#00BFC4" fill-opacity="0.3"/>
<path d="M399.8 398.3H403.3V407.8H399.8zM443.8 398.3H452.8V407.8H443.8z" fill="#00BFC4" fill-opacity="0.7"/>
<path d="M404.0 398.3H410.0V407.8H404.0zM425.9 398.3H428.8V407.8H425.9z" fill="#00BFC4" fill-opacity="0.5"/>
<path d="M417.0 398.3H418.9V407.8H417.0z" fill="#00BFC4" fill-opacity="0.75"/>
<path d="M429.3 398.3H438.0V407.8H429.3z" fill="#00BFC4" fill-opacity="0.65"/>
<path d="M364.8 407.8H370.1V416.9H364.8zM375.9 407.8H377.1V416.9H375.9zM425.9 407.8H428.8V416.9H425.9z" fill="#F8766D" fill-opacity="0.72"/>
<path d="M370.8 407.8H371.8V416.9H370.8z" fill="#F8766D" fill-opacity="0.47"/>
<path d="M372.9 407.8H373.9V416.9H372.9z" fill="#F8766D" fill-opacity="0.57"/>
<path d="M378.1 407.8H381.3V416.9H378.1zM396.0 407.8H398.8V416.9H396.0zM417.0 407.8H418.9V416.9H417.0z" fill="#F8766D" fill-opacity="0.82"/>
<path d="M383.0 407.8H389.0V416.9H383.0zM392.8 407.8H394.2V416.9H392.8zM411.9 407.8H416.1V416.9H411.9z" fill="#F8766D" fill-opacity="0.52"/>
<path d="M390.0 407.8H391.8V416.9H390.0z" fill="#F8766D" fill-opacity="0.62"/>
<path d="M399.8 407.8H403.3V416.9H399.8zM429.3 407.8H438.0V416.9H429.3z" fill="#F8766D" fill-opacity="0.87"/>
<path d="M404.0 407.8H410.0V416.9H404.0z" fill="#F8766D" fill-opacity="0.77"/>
<path d="M418.9 407.8H421.7V416.9H418.9z" fill="#F8766D" fill-opacity="0.32"/>
<path d="M421.7 407.8H425.2V416.9H421.7z" fill="#F8766D" fill-opacity="0.67"/>
<path d="M438.9 407.8H443.0V416.9H438.9zM443.8 407.8H452.8V416.9H443.8z" fill="#F8766D" fill-opacity="0.92"/>
<path d="M364.64 398.3h0.30v18.6h-0.30zM365.89 398.3h0.48v18.6h-0.48zM366.32 398.3h0.51v18.6h-0.51zM372.65 398.3h0.36v18.6h-0.36zM373.95 398.3h0.45v18.6h-0.45zM374.34 398.3h0.57v18.6h-0.57zM374.90 398.3h0.34v18.6h-0.34zM379.36 398.3h0.35v18.6h-0.35zM380.63 398.3h0.48v18.6h-0.48zM381.92 398.3h0.59v18.6h-0.59zM382.51 398.3h0.31v18.6h-0.31zM384.62 398.3h0.56v18.6h-0.56zM387.38 398.3h0.40v18.6h-0.40zM388.27 398.3h0.40v18.6h-0.40zM388.75 398.3h0.33v18.6h-0.33zM389.54 398.3h0.54v18.6h-0.54zM390.94 398.3h0.43v18.6h-0.43zM393.64 398.3h0.38v18.6h-0.38zM398.13 398.3h0.34v18.6h-0.34zM398.49 398.3h0.51v18.6h-0.51zM398.94 398.3h0.51v18.6h-0.51zM400.71 398.3h0.53v18.6h-0.53zM402.60 398.3h0.33v18.6h-0.33zM405.15 398.3h0.58v18.6h-0.58zM408.79 398.3h0.46v18.6h-0.46zM410.59 398.3h0.44v18.6h-0.44zM411.94 398.3h0.41v18.6h-0.41zM412.78 398.3h0.52v18.6h-0.52zM414.14 398.3h0.48v18.6h-0.48zM417.31 398.3h0.40v18.6h-0.40zM420.00 398.3h0.37v18.6h-0.37zM424.81 398.3h0.58v18.6h-0.58zM435.63 398.3h0.40v18.6h-0.40zM436.09 398.3h0.36v18.6h-0.36zM437.41 398.3h0.40v18.6h-0.40zM440.09 398.3h0.40v18.6h-0.40zM440.52 398.3h0.44v18.6h-0.44zM442.78 398.3h0.39v18.6h-0.39zM444.46 398.3h0.60v18.6h-0.60zM446.79 398.3h0.41v18.6h-0.41zM447.61 398.3h0.56v18.6h-0.56zM448.63 398.3h0.31v18.6h-0.31z" fill="#ffffff" fill-opacity="0.33"/>
<path d="M367.75 398.3h0.33v18.6h-0.33zM370.80 398.3h0.50v18.6h-0.50zM372.21 398.3h0.36v18.6h-0.36zM376.25 398.3h0.33v18.6h-0.33zM377.08 398.3h0.45v18.6h-0.45zM381.02 398.3h0.60v18.6h-0.60zM395.88 398.3h0.36v18.6h-0.36zM402.09 398.3h0.46v18.6h-0.46zM403.48 398.3h0.35v18.6h-0.35zM415.48 398.3h0.48v18.6h-0.48zM415.96 398.3h0.41v18.6h-0.41zM420.92 398.3h0.33v18.6h-0.33zM424.43 398.3h0.46v18.6h-0.46zM425.28 398.3h0.54v18.6h-0.54zM425.72 398.3h0.56v18.6h-0.56zM426.70 398.3h0.38v18.6h-0.38zM431.17 398.3h0.37v18.6h-0.37zM433.82 398.3h0.44v18.6h-0.44zM443.58 398.3h0.58v18.6h-0.58zM444.14 398.3h0.35v18.6h-0.35zM447.23 398.3h0.42v18.6h-0.42zM451.24 398.3h0.44v18.6h-0.44zM452.09 398.3h0.52v18.6h-0.52z" fill="#ffffff" fill-opacity="0.17"/>
<path d="M391.39 398.3h0.42v18.6h-0.42zM394.10 398.3h0.35v18.6h-0.35zM406.50 398.3h0.57v18.6h-0.57zM418.16 398.3h0.48v18.6h-0.48zM421.23 398.3h0.59v18.6h-0.59z" fill="#ffffff" fill-opacity="0.50"/>
<line x1="363.5" y1="398" x2="363.5" y2="417" stroke="#555555" stroke-width="0.9"/>
<text x="364.9" y="424.77" text-anchor="start" fill="#111" color="#111" style="font-size:6.3px;">SMA</text>
<text x="451" y="424.77" text-anchor="end" fill="#111" color="#111" style="font-size:6.3px;">Control</text>
<text x="464.1" y="326.7" text-anchor="start" fill="#000" color="#000" style="font-size:11px;font-weight:bold;">I</text>
<text x="578.9" y="333.1" text-anchor="middle" fill="#000" color="#000" style="font-size:7.5px;font-weight:bold;">PRJNA1076644</text>
<text x="476.56" y="378.3" text-anchor="middle" fill="#000" color="#000" style="font-size:6.55px;font-weight:bold;" transform="rotate(-90 476.56 378.3)">Running enrichment score</text>
<line x1="502.5" y1="340.8" x2="502.5" y2="398.4" stroke="#ebebeb" stroke-width="0.8"/>
<line x1="517.8" y1="340.8" x2="517.8" y2="398.4" stroke="#ebebeb" stroke-width="0.8"/>
<line x1="533.1" y1="340.8" x2="533.1" y2="398.4" stroke="#ebebeb" stroke-width="0.8"/>
<line x1="548.4" y1="340.8" x2="548.4" y2="398.4" stroke="#ebebeb" stroke-width="0.8"/>
<line x1="563.7" y1="340.8" x2="563.7" y2="398.4" stroke="#ebebeb" stroke-width="0.8"/>
<polyline points="486.8,344 488.1,344.75 489.4,345.75 490.7,346.46 492,347.5 493.26,348.36 494.52,348.77 495.78,349.63 497.04,350.51 498.3,351 499.51,351.7 500.71,352.73 501.92,353.37 503.12,354.02 504.33,354.81 505.53,355.54 506.74,356.18 507.94,357.25 509.15,357.7 510.36,358.74 511.56,359.43 512.77,359.76 513.97,360.63 515.18,361.49 516.38,362.41 517.59,362.84 518.79,363.81 520,364.5 521.25,365.23 522.5,366.23 523.75,367.09 525,367.81 526.25,368.32 527.5,369.39 528.75,370.03 530,371.02 531.25,371.63 532.5,372.64 533.75,373.47 535,374.19 536.25,374.98 537.5,375.77 538.75,376.45 540,377.2 541.29,377.88 542.58,379.13 543.88,379.71 545.17,380.32 546.46,381.38 547.75,382.21 549.04,382.94 550.33,384.16 551.62,384.58 552.92,385.82 554.21,386.48 555.5,387.3 556.9,387.8 558.3,388.55 559.7,389.26 561.1,389.75 562.5,390.6 563.95,391.71 565.4,392.63 566.85,393.77 568.3,394.5 570.6,389.8 572,384 573.3,378.2 574.5,370.4 575.3,344" fill="none" stroke="#F8766D" stroke-width="1.1" stroke-linejoin="round"/>
<polyline points="486.8,343.6 488.1,344.56 489.4,345.34 490.7,346.25 492,346.8 493.26,347.76 494.52,348.35 495.78,349.04 497.04,349.77 498.3,350.5 499.51,351.41 500.71,352.21 501.92,352.92 503.12,353.67 504.33,354.01 505.53,354.96 506.74,355.54 507.94,356.54 509.15,357.29 510.36,358.03 511.56,358.93 512.77,359.36 513.97,360.36 515.18,361.04 516.38,361.61 517.59,362.74 518.79,363.03 520,364 521.25,364.82 522.5,365.69 523.75,366.56 525,367.59 526.25,368.21 527.5,369.22 528.75,369.76 530,370.69 531.25,371.36 532.5,372.44 533.75,373.17 535,374.19 536.25,374.69 537.5,375.71 538.75,376.79 540,377.4 541.29,378 542.58,379.16 543.88,380.01 545.17,380.88 546.46,381.64 547.75,382.45 549.04,383.52 550.33,384.02 551.62,385.08 552.92,385.9 554.21,386.77 555.5,387.5 556.9,387.95 558.3,388.18 559.7,389.02 561.1,389.23 562.5,389.8 564.05,389.6 565.6,389.4 567.5,386.7 568.85,387.1 570.2,387.5 571,388.3 572.6,384.4 574.1,379.7 574.9,372.8 575.3,344" fill="none" stroke="#00BFC4" stroke-width="1.1" stroke-linejoin="round"/>
<line x1="486.6" y1="340.8" x2="486.6" y2="417" stroke="#555555" stroke-width="0.9"/>
<line x1="485.1" y1="344" x2="486.6" y2="344" stroke="#555555" stroke-width="0.6"/>
<text x="484.4" y="345.44" text-anchor="end" fill="#8a8a8a" color="#8a8a8a" style="font-size:4px;stroke:none;">0.0</text>
<line x1="485.1" y1="356.55" x2="486.6" y2="356.55" stroke="#555555" stroke-width="0.6"/>
<text x="484.4" y="357.99" text-anchor="end" fill="#8a8a8a" color="#8a8a8a" style="font-size:4px;stroke:none;">-0.2</text>
<line x1="485.1" y1="369.1" x2="486.6" y2="369.1" stroke="#555555" stroke-width="0.6"/>
<text x="484.4" y="370.54" text-anchor="end" fill="#8a8a8a" color="#8a8a8a" style="font-size:4px;stroke:none;">-0.4</text>
<line x1="485.1" y1="381.65" x2="486.6" y2="381.65" stroke="#555555" stroke-width="0.6"/>
<text x="484.4" y="383.09" text-anchor="end" fill="#8a8a8a" color="#8a8a8a" style="font-size:4px;stroke:none;">-0.6</text>
<line x1="485.1" y1="394.2" x2="486.6" y2="394.2" stroke="#555555" stroke-width="0.6"/>
<text x="484.4" y="395.64" text-anchor="end" fill="#8a8a8a" color="#8a8a8a" style="font-size:4px;stroke:none;">-0.8</text>
<line x1="488.9" y1="387.5" x2="498.3" y2="387.5" stroke="#F8968F" stroke-width="1.3"/>
<text x="500.6" y="389.48" text-anchor="start" fill="#222" color="#222" style="font-size:5.5px;">Gene set #1</text>
<line x1="488.9" y1="394.3" x2="498.3" y2="394.3" stroke="#4FCFD2" stroke-width="1.3"/>
<text x="500.6" y="396.28" text-anchor="start" fill="#222" color="#222" style="font-size:5.5px;">Gene set #2</text>
<text x="572.6" y="346.9" text-anchor="end" fill="#111" color="#111" style="font-size:7.5px;">Amino acid</text>
<text x="572.6" y="353.8" text-anchor="end" fill="#111" color="#111" style="font-size:7.5px;">transport/</text>
<text x="572.6" y="360.7" text-anchor="end" fill="#111" color="#111" style="font-size:7.5px;">metabolism</text>
<rect x="490.95" y="398.3" width="0.7" height="9" fill="#F8766D" fill-opacity="0.61"/>
<rect x="498.75" y="398.3" width="0.7" height="9" fill="#F8766D" fill-opacity="0.54"/>
<rect x="506.05" y="398.3" width="0.7" height="9" fill="#F8766D" fill-opacity="0.61"/>
<rect x="507.45" y="398.3" width="0.7" height="9" fill="#F8766D" fill-opacity="0.44"/>
<rect x="508.15" y="398.3" width="0.7" height="9" fill="#F8766D" fill-opacity="0.72"/>
<rect x="514.45" y="398.3" width="0.7" height="9" fill="#F8766D" fill-opacity="0.72"/>
<rect x="522.85" y="398.3" width="0.7" height="9" fill="#F8766D" fill-opacity="0.64"/>
<rect x="528.25" y="398.3" width="0.7" height="9" fill="#F8766D" fill-opacity="0.42"/>
<rect x="531.35" y="398.3" width="0.7" height="9" fill="#F8766D" fill-opacity="0.58"/>
<rect x="535.25" y="398.3" width="0.7" height="9" fill="#F8766D" fill-opacity="0.50"/>
<rect x="538.05" y="398.3" width="0.7" height="9" fill="#F8766D" fill-opacity="0.46"/>
<rect x="541.15" y="398.3" width="0.7" height="9" fill="#F8766D" fill-opacity="0.78"/>
<rect x="543.25" y="398.3" width="0.7" height="9" fill="#F8766D" fill-opacity="0.80"/>
<rect x="544.65" y="398.3" width="0.7" height="9" fill="#F8766D" fill-opacity="0.37"/>
<rect x="552.35" y="398.3" width="0.7" height="9" fill="#F8766D" fill-opacity="0.74"/>
<rect x="555.85" y="398.3" width="0.7" height="9" fill="#F8766D" fill-opacity="0.62"/>
<rect x="557.95" y="398.3" width="0.7" height="9" fill="#F8766D" fill-opacity="0.52"/>
<rect x="568" y="398.3" width="0.6" height="9" fill="#F8766D" fill-opacity="0.35"/>
<rect x="568.48" y="398.3" width="0.6" height="9" fill="#F8766D" fill-opacity="0.49"/>
<rect x="568.96" y="398.3" width="0.6" height="9" fill="#F8766D" fill-opacity="0.41"/>
<rect x="569.44" y="398.3" width="0.6" height="9" fill="#F8766D" fill-opacity="0.49"/>
<rect x="569.92" y="398.3" width="0.6" height="9" fill="#F8766D" fill-opacity="0.48"/>
<rect x="570.4" y="398.3" width="0.6" height="9" fill="#F8766D" fill-opacity="0.30"/>
<rect x="570.88" y="398.3" width="0.6" height="9" fill="#F8766D" fill-opacity="0.52"/>
<rect x="571.36" y="398.3" width="0.6" height="9" fill="#F8766D" fill-opacity="0.59"/>
<rect x="571.84" y="398.3" width="0.6" height="9" fill="#F8766D" fill-opacity="0.59"/>
<rect x="572.32" y="398.3" width="0.6" height="9" fill="#F8766D" fill-opacity="0.46"/>
<rect x="572.8" y="398.3" width="0.6" height="9" fill="#F8766D" fill-opacity="0.27"/>
<rect x="573.28" y="398.3" width="0.6" height="9" fill="#F8766D" fill-opacity="0.25"/>
<rect x="573.76" y="398.3" width="0.6" height="9" fill="#F8766D" fill-opacity="0.30"/>
<rect x="574.24" y="398.3" width="0.6" height="9" fill="#F8766D" fill-opacity="0.58"/>
<rect x="574.72" y="398.3" width="0.6" height="9" fill="#F8766D" fill-opacity="0.36"/>
<rect x="487" y="407.6" width="2.6" height="9.3" fill="#00BFC4" fill-opacity="0.8"/>
<rect x="493.8" y="407.6" width="1.1" height="9.3" fill="#00BFC4" fill-opacity="0.8"/>
<rect x="498" y="407.6" width="1.1" height="9.3" fill="#00BFC4" fill-opacity="0.5"/>
<rect x="500.8" y="407.6" width="1.7" height="9.3" fill="#00BFC4" fill-opacity="0.8"/>
<rect x="505.7" y="407.6" width="1.4" height="9.3" fill="#00BFC4" fill-opacity="0.85"/>
<rect x="509.2" y="407.6" width="1" height="9.3" fill="#00BFC4" fill-opacity="0.7"/>
<rect x="510.8" y="407.6" width="1.2" height="9.3" fill="#00BFC4" fill-opacity="0.5"/>
<rect x="514.1" y="407.6" width="4.2" height="9.3" fill="#00BFC4" fill-opacity="0.3"/>
<rect x="519" y="407.6" width="2.1" height="9.3" fill="#00BFC4" fill-opacity="0.6"/>
<rect x="522.5" y="407.6" width="2.1" height="9.3" fill="#00BFC4" fill-opacity="0.7"/>
<rect x="526.7" y="407.6" width="1.6" height="9.3" fill="#00BFC4" fill-opacity="0.6"/>
<rect x="528.8" y="407.6" width="1.5" height="9.3" fill="#00BFC4" fill-opacity="0.5"/>
<rect x="531.7" y="407.6" width="1.8" height="9.3" fill="#00BFC4" fill-opacity="0.7"/>
<rect x="534" y="407.6" width="1.9" height="9.3" fill="#00BFC4" fill-opacity="0.8"/>
<rect x="538" y="407.6" width="1.4" height="9.3" fill="#00BFC4" fill-opacity="0.4"/>
<rect x="540.8" y="407.6" width="2.1" height="9.3" fill="#00BFC4" fill-opacity="0.7"/>
<rect x="545.7" y="407.6" width="0.7" height="9.3" fill="#00BFC4" fill-opacity="0.5"/>
<rect x="549.2" y="407.6" width="0.7" height="9.3" fill="#00BFC4" fill-opacity="0.5"/>
<rect x="555.5" y="407.6" width="2.1" height="9.3" fill="#00BFC4" fill-opacity="0.6"/>
<rect x="560.4" y="407.6" width="2.1" height="9.3" fill="#00BFC4" fill-opacity="0.85"/>
<rect x="564.6" y="407.6" width="1.9" height="9.3" fill="#00BFC4" fill-opacity="0.9"/>
<rect x="566.5" y="407.6" width="2.3" height="9.3" fill="#00BFC4" fill-opacity="0.6"/>
<rect x="570.9" y="407.6" width="4.7" height="9.3" fill="#00BFC4" fill-opacity="0.7"/>
<line x1="486.6" y1="398" x2="486.6" y2="417" stroke="#555555" stroke-width="0.9"/>
<text x="486.9" y="424.77" text-anchor="start" fill="#111" color="#111" style="font-size:6.3px;">SMA</text>
<text x="574.2" y="424.77" text-anchor="end" fill="#111" color="#111" style="font-size:6.3px;">Control</text>
<line x1="604.5" y1="340.8" x2="604.5" y2="398.3" stroke="#ebebeb" stroke-width="0.8"/>
<line x1="620.6" y1="340.8" x2="620.6" y2="398.3" stroke="#ebebeb" stroke-width="0.8"/>
<line x1="636" y1="340.8" x2="636" y2="398.3" stroke="#ebebeb" stroke-width="0.8"/>
<line x1="651.1" y1="340.8" x2="651.1" y2="398.3" stroke="#ebebeb" stroke-width="0.8"/>
<line x1="666.5" y1="340.8" x2="666.5" y2="398.3" stroke="#ebebeb" stroke-width="0.8"/>
<polyline points="589.4,343.4 590.72,344.52 592.04,344.94 593.36,346.15 594.68,346.91 596,347.8 597.27,348.95 598.53,349.62 599.8,350.81 601.07,351.36 602.33,352.71 603.6,353.36 604.87,354.17 606.13,355.19 607.4,356.27 608.67,356.9 609.93,358.01 611.2,358.76 612.47,359.72 613.73,360.7 615,361.8 616.25,362.57 617.5,363.5 618.75,364.66 620,365.38 621.25,366.51 622.5,367.44 623.75,368.34 625,369.27 626.25,369.99 627.5,370.95 628.75,371.96 630,372.7 631.25,373.4 632.5,374.5 633.75,375.41 635,376.3 636.25,377.03 637.5,377.88 638.75,378.82 640,379.97 641.25,380.91 642.5,381.73 643.75,382.5 645,383.2 646.25,384.08 647.5,385.29 648.75,386.12 650,387 651.27,387.77 652.55,388.41 653.83,389.17 655.1,389.99 656.38,390.75 657.65,391.77 658.93,392.42 660.2,393.3 661.47,393.16 662.73,392.93 664,392.8 665.5,391.65 667,390.5 669.2,390.5 670.85,387.25 672.5,384 674.8,374 676.5,362 677.6,344" fill="none" stroke="#F8766D" stroke-width="1.1" stroke-linejoin="round"/>
<polyline points="589.4,344.2 590.72,345.08 592.04,346.04 593.36,346.92 594.68,347.46 596,348.5 597.27,349.65 598.53,350.52 599.8,351.42 601.07,352.16 602.33,353.33 603.6,354.18 604.87,354.81 606.13,355.95 607.4,356.95 608.67,357.83 609.93,358.82 611.2,359.55 612.47,360.55 613.73,361.17 615,362.3 616.25,363.29 617.5,363.94 618.75,365.13 620,366.13 621.25,366.77 622.5,367.52 623.75,368.42 625,369.56 626.25,370.28 627.5,371.48 628.75,372.32 630,373.18 631.25,374.17 632.5,374.81 633.75,375.87 635,376.8 636.25,377.46 637.5,378.61 638.75,379.62 640,380.19 641.25,381.35 642.5,382.4 643.75,382.95 645,383.79 646.25,384.7 647.5,385.88 648.75,386.4 650,387.5 651.27,388.43 652.55,388.96 653.83,389.99 655.1,390.84 656.38,391.61 657.65,392.07 658.93,393.04 660.2,393.8 661.65,393.63 663.1,393.84 664.55,393.47 666,393.5 667.6,393 669.2,392.5 670.85,388.75 672.5,385 674.8,375 676.5,362.5 677.6,344" fill="none" stroke="#00BFC4" stroke-width="1.1" stroke-linejoin="round"/>
<line x1="589.2" y1="340.8" x2="589.2" y2="417" stroke="#555555" stroke-width="0.9"/>
<line x1="587.7" y1="344.2" x2="589.2" y2="344.2" stroke="#555555" stroke-width="0.6"/>
<text x="587" y="345.64" text-anchor="end" fill="#8a8a8a" color="#8a8a8a" style="font-size:4px;stroke:none;">0.0</text>
<line x1="587.7" y1="358.9" x2="589.2" y2="358.9" stroke="#555555" stroke-width="0.6"/>
<text x="587" y="360.34" text-anchor="end" fill="#8a8a8a" color="#8a8a8a" style="font-size:4px;stroke:none;">-0.2</text>
<line x1="587.7" y1="373.6" x2="589.2" y2="373.6" stroke="#555555" stroke-width="0.6"/>
<text x="587" y="375.04" text-anchor="end" fill="#8a8a8a" color="#8a8a8a" style="font-size:4px;stroke:none;">-0.4</text>
<line x1="587.7" y1="388.3" x2="589.2" y2="388.3" stroke="#555555" stroke-width="0.6"/>
<text x="587" y="389.74" text-anchor="end" fill="#8a8a8a" color="#8a8a8a" style="font-size:4px;stroke:none;">-0.6</text>
<line x1="591.4" y1="387.5" x2="601.6" y2="387.5" stroke="#F8968F" stroke-width="1.3"/>
<text x="603.8" y="389.48" text-anchor="start" fill="#222" color="#222" style="font-size:5.5px;">Gene set #3</text>
<line x1="591.4" y1="394.3" x2="601.6" y2="394.3" stroke="#4FCFD2" stroke-width="1.3"/>
<text x="603.8" y="396.28" text-anchor="start" fill="#222" color="#222" style="font-size:5.5px;">Gene set #4</text>
<text x="674.8" y="347.1" text-anchor="end" fill="#111" color="#111" style="font-size:7.5px;">Amino acid</text>
<text x="674.8" y="354" text-anchor="end" fill="#111" color="#111" style="font-size:7.5px;">metabolism</text>
<path d="M590.1 398.3H595.0V407.8H590.1zM630.0 398.3H636.0V407.8H630.0zM647.0 398.3H648.0V407.8H647.0zM671.0 398.3H674.0V407.8H671.0z" fill="#00BFC4" fill-opacity="0.6"/>
<path d="M595.0 398.3H597.1V407.8H595.0zM597.8 398.3H599.1V407.8H597.8z" fill="#00BFC4" fill-opacity="0.35"/>
<path d="M601.0 398.3H606.1V407.8H601.0zM608.3 398.3H611.1V407.8H608.3zM649.1 398.3H652.0V407.8H649.1zM662.0 398.3H665.0V407.8H662.0z" fill="#00BFC4" fill-opacity="0.5"/>
<path d="M611.8 398.3H613.9V407.8H611.8zM625.1 398.3H629.3V407.8H625.1z" fill="#00BFC4" fill-opacity="0.75"/>
<path d="M615.9 398.3H616.9V407.8H615.9z" fill="#00BFC4" fill-opacity="0.85"/>
<path d="M618.1 398.3H620.2V407.8H618.1z" fill="#00BFC4" fill-opacity="0.3"/>
<path d="M621.0 398.3H624.4V407.8H621.0z" fill="#00BFC4" fill-opacity="0.45"/>
<path d="M637.9 398.3H641.0V407.8H637.9z" fill="#00BFC4" fill-opacity="0.55"/>
<path d="M642.1 398.3H644.2V407.8H642.1zM656.0 398.3H662.0V407.8H656.0zM665.0 398.3H671.0V407.8H665.0zM674.0 398.3H678.1V407.8H674.0z" fill="#00BFC4" fill-opacity="0.7"/>
<path d="M652.0 398.3H656.0V407.8H652.0z" fill="#00BFC4" fill-opacity="0.65"/>
<path d="M590.1 407.8H595.0V416.9H590.1z" fill="#F8766D" fill-opacity="0.77"/>
<path d="M595.0 407.8H597.1V416.9H595.0zM597.8 407.8H599.1V416.9H597.8z" fill="#F8766D" fill-opacity="0.57"/>
<path d="M601.0 407.8H606.1V416.9H601.0zM608.3 407.8H611.1V416.9H608.3zM618.1 407.8H620.2V416.9H618.1zM621.0 407.8H624.4V416.9H621.0zM637.9 407.8H641.0V416.9H637.9zM649.1 407.8H652.0V416.9H649.1z" fill="#F8766D" fill-opacity="0.72"/>
<path d="M611.8 407.8H613.9V416.9H611.8z" fill="#F8766D" fill-opacity="0.67"/>
<path d="M613.9 407.8H615.0V416.9H613.9z" fill="#F8766D" fill-opacity="0.47"/>
<path d="M615.9 407.8H616.9V416.9H615.9zM625.1 407.8H629.3V416.9H625.1zM656.0 407.8H662.0V416.9H656.0zM665.0 407.8H671.0V416.9H665.0zM674.0 407.8H678.1V416.9H674.0z" fill="#F8766D" fill-opacity="0.92"/>
<path d="M630.0 407.8H636.0V416.9H630.0zM642.1 407.8H644.2V416.9H642.1zM652.0 407.8H656.0V416.9H652.0zM671.0 407.8H674.0V416.9H671.0z" fill="#F8766D" fill-opacity="0.87"/>
<path d="M645.2 407.8H645.9V416.9H645.2z" fill="#F8766D" fill-opacity="0.42"/>
<path d="M647.0 407.8H648.0V416.9H647.0zM662.0 407.8H665.0V416.9H662.0z" fill="#F8766D" fill-opacity="0.82"/>
<path d="M590.72 398.3h0.41v18.6h-0.41zM595.96 398.3h0.57v18.6h-0.57zM604.46 398.3h0.41v18.6h-0.41zM608.90 398.3h0.40v18.6h-0.40zM612.38 398.3h0.53v18.6h-0.53zM613.38 398.3h0.31v18.6h-0.31zM615.48 398.3h0.54v18.6h-0.54zM618.13 398.3h0.56v18.6h-0.56zM619.99 398.3h0.38v18.6h-0.38zM635.50 398.3h0.39v18.6h-0.39zM638.95 398.3h0.58v18.6h-0.58zM649.20 398.3h0.46v18.6h-0.46zM649.61 398.3h0.54v18.6h-0.54zM656.34 398.3h0.38v18.6h-0.38zM661.23 398.3h0.35v18.6h-0.35zM662.11 398.3h0.36v18.6h-0.36zM674.09 398.3h0.33v18.6h-0.33zM674.55 398.3h0.30v18.6h-0.30zM674.89 398.3h0.51v18.6h-0.51zM677.51 398.3h0.58v18.6h-0.58z" fill="#ffffff" fill-opacity="0.17"/>
<path d="M591.12 398.3h0.51v18.6h-0.51zM592.97 398.3h0.35v18.6h-0.35zM593.87 398.3h0.32v18.6h-0.32zM597.41 398.3h0.34v18.6h-0.34zM598.75 398.3h0.32v18.6h-0.32zM599.14 398.3h0.42v18.6h-0.42zM601.27 398.3h0.59v18.6h-0.59zM606.23 398.3h0.43v18.6h-0.43zM607.12 398.3h0.42v18.6h-0.42zM608.04 398.3h0.35v18.6h-0.35zM609.81 398.3h0.36v18.6h-0.36zM610.14 398.3h0.59v18.6h-0.59zM611.92 398.3h0.57v18.6h-0.57zM616.86 398.3h0.44v18.6h-0.44zM621.30 398.3h0.43v18.6h-0.43zM621.66 398.3h0.59v18.6h-0.59zM628.32 398.3h0.57v18.6h-0.57zM631.51 398.3h0.39v18.6h-0.39zM633.67 398.3h0.51v18.6h-0.51zM634.61 398.3h0.40v18.6h-0.40zM638.14 398.3h0.43v18.6h-0.43zM638.60 398.3h0.40v18.6h-0.40zM639.49 398.3h0.38v18.6h-0.38zM639.94 398.3h0.37v18.6h-0.37zM641.66 398.3h0.48v18.6h-0.48zM642.51 398.3h0.56v18.6h-0.56zM643.41 398.3h0.53v18.6h-0.53zM652.26 398.3h0.55v18.6h-0.55zM654.55 398.3h0.41v18.6h-0.41zM657.57 398.3h0.56v18.6h-0.56zM659.80 398.3h0.55v18.6h-0.55zM660.36 398.3h0.31v18.6h-0.31zM663.83 398.3h0.46v18.6h-0.46z" fill="#ffffff" fill-opacity="0.33"/>
<path d="M596.84 398.3h0.58v18.6h-0.58zM611.56 398.3h0.41v18.6h-0.41zM617.68 398.3h0.57v18.6h-0.57zM618.62 398.3h0.45v18.6h-0.45zM650.08 398.3h0.48v18.6h-0.48zM669.60 398.3h0.45v18.6h-0.45z" fill="#ffffff" fill-opacity="0.50"/>
<line x1="589.2" y1="398" x2="589.2" y2="417" stroke="#555555" stroke-width="0.9"/>
<text x="589.8" y="424.77" text-anchor="start" fill="#111" color="#111" style="font-size:6.3px;">SMA</text>
<text x="676.4" y="424.77" text-anchor="end" fill="#111" color="#111" style="font-size:6.3px;">Control</text>
</svg>
</body></html>
